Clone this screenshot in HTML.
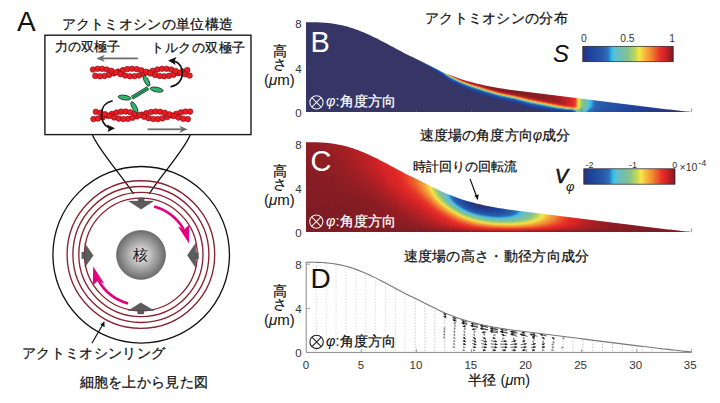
<!DOCTYPE html>
<html><head><meta charset="utf-8">
<style>
html,body{margin:0;padding:0;background:#fff;width:720px;height:403px;overflow:hidden}
svg{position:absolute;left:0;top:0;display:block}
text{font-family:"Liberation Sans",sans-serif}
.j{stroke:#111;stroke-width:.25;fill:#111}
.w{stroke:#fff;stroke-width:.25;fill:#fff}
</style></head><body>
<svg width="720" height="403" viewBox="0 0 720 403">
<defs>
<radialGradient id="nuc" cx="0.5" cy="0.5" r="0.5">
<stop offset="0" stop-color="#e6e6e6"/><stop offset="0.35" stop-color="#c4c4c4"/><stop offset="1" stop-color="#6c6c6c"/>
</radialGradient>
<linearGradient id="cb" x1="0" y1="0" x2="1" y2="0"><stop offset="0.000" stop-color="rgb(53,54,102)"/><stop offset="0.030" stop-color="rgb(35,55,140)"/><stop offset="0.080" stop-color="rgb(30,66,156)"/><stop offset="0.200" stop-color="rgb(40,86,166)"/><stop offset="0.280" stop-color="rgb(48,112,186)"/><stop offset="0.315" stop-color="rgb(38,186,236)"/><stop offset="0.350" stop-color="rgb(92,190,214)"/><stop offset="0.420" stop-color="rgb(112,190,180)"/><stop offset="0.500" stop-color="rgb(132,195,140)"/><stop offset="0.580" stop-color="rgb(192,216,90)"/><stop offset="0.625" stop-color="rgb(246,232,70)"/><stop offset="0.680" stop-color="rgb(248,186,66)"/><stop offset="0.760" stop-color="rgb(240,132,50)"/><stop offset="0.860" stop-color="rgb(230,46,40)"/><stop offset="0.900" stop-color="rgb(218,36,38)"/><stop offset="1.000" stop-color="rgb(125,28,35)"/></linearGradient>
<linearGradient id="b56" gradientUnits="userSpaceOnUse" x1="0" y1="57" x2="0" y2="112"><stop offset="0" stop-color="#2f3673"/><stop offset=".036" stop-color="#2f3673"/><stop offset=".055" stop-color="#353666"/><stop offset="1" stop-color="#353666"/></linearGradient>
<linearGradient id="b57" gradientUnits="userSpaceOnUse" x1="0" y1="58" x2="0" y2="112"><stop offset="0" stop-color="#263785"/><stop offset=".037" stop-color="#29377f"/><stop offset=".056" stop-color="#353666"/><stop offset="1" stop-color="#353666"/></linearGradient>
<linearGradient id="b58" gradientUnits="userSpaceOnUse" x1="0" y1="58" x2="0" y2="112"><stop offset="0" stop-color="#22398f"/><stop offset=".037" stop-color="#22398f"/><stop offset=".056" stop-color="#353666"/><stop offset="1" stop-color="#353666"/></linearGradient>
<linearGradient id="b59" gradientUnits="userSpaceOnUse" x1="0" y1="59" x2="0" y2="112"><stop offset="0" stop-color="#213c93"/><stop offset=".038" stop-color="#213a91"/><stop offset=".057" stop-color="#353666"/><stop offset="1" stop-color="#353666"/></linearGradient>
<linearGradient id="b60" gradientUnits="userSpaceOnUse" x1="0" y1="59" x2="0" y2="112"><stop offset="0" stop-color="#203f97"/><stop offset=".038" stop-color="#203f97"/><stop offset=".057" stop-color="#273784"/><stop offset=".075" stop-color="#353666"/><stop offset="1" stop-color="#353666"/></linearGradient>
<linearGradient id="b61" gradientUnits="userSpaceOnUse" x1="0" y1="60" x2="0" y2="112"><stop offset="0" stop-color="#1e419b"/><stop offset=".038" stop-color="#1f4099"/><stop offset=".058" stop-color="#343669"/><stop offset="1" stop-color="#353666"/></linearGradient>
<linearGradient id="b62" gradientUnits="userSpaceOnUse" x1="0" y1="60" x2="0" y2="112"><stop offset="0" stop-color="#1f439d"/><stop offset=".038" stop-color="#1f439d"/><stop offset=".058" stop-color="#213c93"/><stop offset=".077" stop-color="#353666"/><stop offset="1" stop-color="#353666"/></linearGradient>
<linearGradient id="b63" gradientUnits="userSpaceOnUse" x1="0" y1="61" x2="0" y2="112"><stop offset="0" stop-color="#20459e"/><stop offset=".039" stop-color="#1f449d"/><stop offset=".059" stop-color="#23378c"/><stop offset=".078" stop-color="#353666"/><stop offset="1" stop-color="#353666"/></linearGradient>
<linearGradient id="b64" gradientUnits="userSpaceOnUse" x1="0" y1="61" x2="0" y2="112"><stop offset="0" stop-color="#20479e"/><stop offset=".039" stop-color="#20479e"/><stop offset=".059" stop-color="#1f419a"/><stop offset=".078" stop-color="#303670"/><stop offset=".098" stop-color="#353666"/><stop offset="1" stop-color="#353666"/></linearGradient>
<linearGradient id="b65" gradientUnits="userSpaceOnUse" x1="0" y1="62" x2="0" y2="112"><stop offset="0" stop-color="#21489f"/><stop offset=".04" stop-color="#21479f"/><stop offset=".06" stop-color="#213c94"/><stop offset=".08" stop-color="#353666"/><stop offset="1" stop-color="#353666"/></linearGradient>
<linearGradient id="b66" gradientUnits="userSpaceOnUse" x1="0" y1="62" x2="0" y2="112"><stop offset="0" stop-color="#224aa0"/><stop offset=".06" stop-color="#1f449d"/><stop offset=".08" stop-color="#23378b"/><stop offset=".1" stop-color="#353666"/><stop offset="1" stop-color="#353666"/></linearGradient>
<linearGradient id="b67" gradientUnits="userSpaceOnUse" x1="0" y1="63" x2="0" y2="112"><stop offset="0" stop-color="#234ba1"/><stop offset=".041" stop-color="#224ba0"/><stop offset=".061" stop-color="#1f4099"/><stop offset=".082" stop-color="#33366b"/><stop offset=".163" stop-color="#353666"/><stop offset="1" stop-color="#353666"/></linearGradient>
<linearGradient id="b68" gradientUnits="userSpaceOnUse" x1="0" y1="63" x2="0" y2="112"><stop offset="0" stop-color="#234da1"/><stop offset=".061" stop-color="#20479e"/><stop offset=".082" stop-color="#213b93"/><stop offset=".102" stop-color="#353666"/><stop offset="1" stop-color="#353666"/></linearGradient>
<linearGradient id="b69" gradientUnits="userSpaceOnUse" x1="0" y1="64" x2="0" y2="112"><stop offset="0" stop-color="#244ea2"/><stop offset=".042" stop-color="#244ea2"/><stop offset=".062" stop-color="#1f439d"/><stop offset=".083" stop-color="#263786"/><stop offset=".104" stop-color="#353666"/><stop offset="1" stop-color="#353666"/></linearGradient>
<linearGradient id="b70" gradientUnits="userSpaceOnUse" x1="0" y1="64" x2="0" y2="112"><stop offset="0" stop-color="#2550a3"/><stop offset=".042" stop-color="#2550a3"/><stop offset=".083" stop-color="#1f3f98"/><stop offset=".104" stop-color="#353666"/><stop offset="1" stop-color="#353666"/></linearGradient>
<linearGradient id="b71" gradientUnits="userSpaceOnUse" x1="0" y1="65" x2="0" y2="112"><stop offset="0" stop-color="#2652a4"/><stop offset=".043" stop-color="#2652a4"/><stop offset=".085" stop-color="#213b91"/><stop offset=".106" stop-color="#353666"/><stop offset="1" stop-color="#353666"/></linearGradient>
<linearGradient id="b72" gradientUnits="userSpaceOnUse" x1="0" y1="66" x2="0" y2="112"><stop offset="0" stop-color="#2753a5"/><stop offset=".043" stop-color="#244da2"/><stop offset=".065" stop-color="#1e439c"/><stop offset=".087" stop-color="#293780"/><stop offset=".109" stop-color="#353666"/><stop offset="1" stop-color="#353666"/></linearGradient>
<linearGradient id="b73" gradientUnits="userSpaceOnUse" x1="0" y1="66" x2="0" y2="112"><stop offset="0" stop-color="#2755a5"/><stop offset=".043" stop-color="#2755a5"/><stop offset=".087" stop-color="#203e97"/><stop offset=".109" stop-color="#353666"/><stop offset="1" stop-color="#353666"/></linearGradient>
<linearGradient id="b74" gradientUnits="userSpaceOnUse" x1="0" y1="67" x2="0" y2="112"><stop offset="0" stop-color="#2958a8"/><stop offset=".044" stop-color="#2551a3"/><stop offset=".067" stop-color="#20459e"/><stop offset=".089" stop-color="#22398f"/><stop offset=".111" stop-color="#353666"/><stop offset="1" stop-color="#353666"/></linearGradient>
<linearGradient id="b75" gradientUnits="userSpaceOnUse" x1="0" y1="67" x2="0" y2="112"><stop offset="0" stop-color="#2b61ae"/><stop offset=".044" stop-color="#2b61ae"/><stop offset=".067" stop-color="#234ca1"/><stop offset=".089" stop-color="#1e429c"/><stop offset=".111" stop-color="#2d3678"/><stop offset=".133" stop-color="#353666"/><stop offset="1" stop-color="#353666"/></linearGradient>
<linearGradient id="b76" gradientUnits="userSpaceOnUse" x1="0" y1="68" x2="0" y2="112"><stop offset="0" stop-color="#2e6ab5"/><stop offset=".023" stop-color="#2e6ab5"/><stop offset=".045" stop-color="#2754a5"/><stop offset=".091" stop-color="#203d95"/><stop offset=".114" stop-color="#353666"/><stop offset="1" stop-color="#353666"/></linearGradient>
<linearGradient id="b77" gradientUnits="userSpaceOnUse" x1="0" y1="68" x2="0" y2="112"><stop offset="0" stop-color="#2e82c6"/><stop offset=".045" stop-color="#2e82c6"/><stop offset=".068" stop-color="#254fa3"/><stop offset=".091" stop-color="#1f449d"/><stop offset=".114" stop-color="#23378d"/><stop offset=".136" stop-color="#353666"/><stop offset="1" stop-color="#353666"/></linearGradient>
<linearGradient id="b78" gradientUnits="userSpaceOnUse" x1="0" y1="68" x2="0" y2="112"><stop offset="0" stop-color="#28baeb"/><stop offset=".045" stop-color="#28baeb"/><stop offset=".068" stop-color="#2959a8"/><stop offset=".114" stop-color="#1f4099"/><stop offset=".136" stop-color="#33366b"/><stop offset=".227" stop-color="#353666"/><stop offset="1" stop-color="#353666"/></linearGradient>
<linearGradient id="b79" gradientUnits="userSpaceOnUse" x1="0" y1="69" x2="0" y2="112"><stop offset="0" stop-color="#5ebed2"/><stop offset=".047" stop-color="#59bed7"/><stop offset=".07" stop-color="#2653a4"/><stop offset=".116" stop-color="#213c93"/><stop offset=".14" stop-color="#353666"/><stop offset="1" stop-color="#353666"/></linearGradient>
<linearGradient id="b80" gradientUnits="userSpaceOnUse" x1="0" y1="69" x2="0" y2="112"><stop offset="0" stop-color="#6fbeb6"/><stop offset=".047" stop-color="#6fbeb6"/><stop offset=".07" stop-color="#2f7bc1"/><stop offset=".093" stop-color="#244fa2"/><stop offset=".116" stop-color="#1f449d"/><stop offset=".14" stop-color="#23378c"/><stop offset=".163" stop-color="#353666"/><stop offset="1" stop-color="#353666"/></linearGradient>
<linearGradient id="b81" gradientUnits="userSpaceOnUse" x1="0" y1="70" x2="0" y2="112"><stop offset="0" stop-color="#7dc19a"/><stop offset=".024" stop-color="#7dc19a"/><stop offset=".048" stop-color="#76c0a8"/><stop offset=".071" stop-color="#2a5dac"/><stop offset=".119" stop-color="#1f419a"/><stop offset=".143" stop-color="#303671"/><stop offset=".167" stop-color="#353666"/><stop offset="1" stop-color="#353666"/></linearGradient>
<linearGradient id="b82" gradientUnits="userSpaceOnUse" x1="0" y1="70" x2="0" y2="112"><stop offset="0" stop-color="#98ca7b"/><stop offset=".048" stop-color="#98ca7b"/><stop offset=".071" stop-color="#62becc"/><stop offset=".095" stop-color="#2754a5"/><stop offset=".143" stop-color="#203d94"/><stop offset=".167" stop-color="#353666"/><stop offset="1" stop-color="#353666"/></linearGradient>
<linearGradient id="b83" gradientUnits="userSpaceOnUse" x1="0" y1="71" x2="0" y2="112"><stop offset="0" stop-color="#c0d85a"/><stop offset=".024" stop-color="#c0d85a"/><stop offset=".049" stop-color="#9acb7a"/><stop offset=".073" stop-color="#2a99d6"/><stop offset=".098" stop-color="#2550a3"/><stop offset=".122" stop-color="#1f459d"/><stop offset=".146" stop-color="#22388e"/><stop offset=".171" stop-color="#353666"/><stop offset="1" stop-color="#353666"/></linearGradient>
<linearGradient id="b84" gradientUnits="userSpaceOnUse" x1="0" y1="71" x2="0" y2="112"><stop offset="0" stop-color="#f6df45"/><stop offset=".049" stop-color="#f6df45"/><stop offset=".073" stop-color="#79c0a1"/><stop offset=".098" stop-color="#2b61af"/><stop offset=".122" stop-color="#234ca1"/><stop offset=".146" stop-color="#1e429b"/><stop offset=".171" stop-color="#2d3676"/><stop offset=".195" stop-color="#353666"/><stop offset="1" stop-color="#353666"/></linearGradient>
<linearGradient id="b85" gradientUnits="userSpaceOnUse" x1="0" y1="72" x2="0" y2="112"><stop offset="0" stop-color="#f7b13f"/><stop offset=".025" stop-color="#f7b13f"/><stop offset=".05" stop-color="#e6e34c"/><stop offset=".075" stop-color="#66bec6"/><stop offset=".1" stop-color="#2754a5"/><stop offset=".15" stop-color="#203e95"/><stop offset=".175" stop-color="#353666"/><stop offset="1" stop-color="#353666"/></linearGradient>
<linearGradient id="b86" gradientUnits="userSpaceOnUse" x1="0" y1="72" x2="0" y2="112"><stop offset="0" stop-color="#f18a34"/><stop offset=".05" stop-color="#f18a34"/><stop offset=".075" stop-color="#a3ce72"/><stop offset=".1" stop-color="#27b0e5"/><stop offset=".125" stop-color="#2550a3"/><stop offset=".15" stop-color="#20459e"/><stop offset=".175" stop-color="#22398f"/><stop offset=".2" stop-color="#353666"/><stop offset="1" stop-color="#353666"/></linearGradient>
<linearGradient id="b87" gradientUnits="userSpaceOnUse" x1="0" y1="72" x2="0" y2="112"><stop offset="0" stop-color="#ec602e"/><stop offset=".05" stop-color="#ec602e"/><stop offset=".075" stop-color="#f7b340"/><stop offset=".1" stop-color="#7cc19c"/><stop offset=".125" stop-color="#2c64b1"/><stop offset=".15" stop-color="#234da1"/><stop offset=".175" stop-color="#1e429c"/><stop offset=".2" stop-color="#2c377a"/><stop offset=".225" stop-color="#353666"/><stop offset="1" stop-color="#353666"/></linearGradient>
<linearGradient id="b88" gradientUnits="userSpaceOnUse" x1="0" y1="73" x2="0" y2="112"><stop offset="0" stop-color="#e73529"/><stop offset=".026" stop-color="#e73529"/><stop offset=".051" stop-color="#e94a2b"/><stop offset=".077" stop-color="#ece54a"/><stop offset=".103" stop-color="#67bec4"/><stop offset=".128" stop-color="#2754a5"/><stop offset=".179" stop-color="#203e96"/><stop offset=".205" stop-color="#353666"/><stop offset="1" stop-color="#353666"/></linearGradient>
<linearGradient id="b89" gradientUnits="userSpaceOnUse" x1="0" y1="73" x2="0" y2="112"><stop offset="0" stop-color="#df2827"/><stop offset=".051" stop-color="#df2827"/><stop offset=".077" stop-color="#f18d35"/><stop offset=".103" stop-color="#97ca7c"/><stop offset=".128" stop-color="#2b93d2"/><stop offset=".154" stop-color="#2550a3"/><stop offset=".179" stop-color="#1f459d"/><stop offset=".205" stop-color="#23388e"/><stop offset=".231" stop-color="#353666"/><stop offset="1" stop-color="#353666"/></linearGradient>
<linearGradient id="b90" gradientUnits="userSpaceOnUse" x1="0" y1="74" x2="0" y2="112"><stop offset="0" stop-color="#dc2626"/><stop offset=".026" stop-color="#dc2626"/><stop offset=".053" stop-color="#e83b2a"/><stop offset=".079" stop-color="#f7dc45"/><stop offset=".105" stop-color="#6fbeb6"/><stop offset=".132" stop-color="#2856a6"/><stop offset=".184" stop-color="#1f4099"/><stop offset=".211" stop-color="#33366a"/><stop offset="1" stop-color="#353666"/></linearGradient>
<linearGradient id="b91" gradientUnits="userSpaceOnUse" x1="0" y1="74" x2="0" y2="112"><stop offset="0" stop-color="#d92426"/><stop offset=".053" stop-color="#d92426"/><stop offset=".079" stop-color="#f18b34"/><stop offset=".105" stop-color="#9bcb78"/><stop offset=".132" stop-color="#29a5de"/><stop offset=".158" stop-color="#2550a3"/><stop offset=".184" stop-color="#20459e"/><stop offset=".211" stop-color="#22398f"/><stop offset=".237" stop-color="#353666"/><stop offset="1" stop-color="#353666"/></linearGradient>
<linearGradient id="b92" gradientUnits="userSpaceOnUse" x1="0" y1="74" x2="0" y2="112"><stop offset="0" stop-color="#d02326"/><stop offset=".053" stop-color="#d02326"/><stop offset=".079" stop-color="#e83c2a"/><stop offset=".105" stop-color="#f7db45"/><stop offset=".132" stop-color="#70beb4"/><stop offset=".158" stop-color="#2958a8"/><stop offset=".211" stop-color="#1f409a"/><stop offset=".237" stop-color="#303670"/><stop offset=".263" stop-color="#353666"/><stop offset="1" stop-color="#353666"/></linearGradient>
<linearGradient id="b93" gradientUnits="userSpaceOnUse" x1="0" y1="75" x2="0" y2="112"><stop offset="0" stop-color="#c82225"/><stop offset=".027" stop-color="#c82225"/><stop offset=".054" stop-color="#d72426"/><stop offset=".081" stop-color="#f18d35"/><stop offset=".108" stop-color="#9bcb79"/><stop offset=".135" stop-color="#28aae1"/><stop offset=".162" stop-color="#2551a3"/><stop offset=".216" stop-color="#223a91"/><stop offset=".243" stop-color="#353666"/><stop offset="1" stop-color="#353666"/></linearGradient>
<linearGradient id="b94" gradientUnits="userSpaceOnUse" x1="0" y1="75" x2="0" y2="112"><stop offset="0" stop-color="#c02225"/><stop offset=".054" stop-color="#c02225"/><stop offset=".081" stop-color="#e8422a"/><stop offset=".108" stop-color="#f6df45"/><stop offset=".135" stop-color="#6fbeb5"/><stop offset=".162" stop-color="#2958a8"/><stop offset=".216" stop-color="#1f419a"/><stop offset=".243" stop-color="#2e3675"/><stop offset=".27" stop-color="#353666"/><stop offset="1" stop-color="#353666"/></linearGradient>
<linearGradient id="b95" gradientUnits="userSpaceOnUse" x1="0" y1="76" x2="0" y2="112"><stop offset="0" stop-color="#b82125"/><stop offset=".028" stop-color="#b82125"/><stop offset=".056" stop-color="#da2426"/><stop offset=".083" stop-color="#f29336"/><stop offset=".111" stop-color="#97ca7c"/><stop offset=".139" stop-color="#29a5de"/><stop offset=".167" stop-color="#2551a3"/><stop offset=".222" stop-color="#213b91"/><stop offset=".25" stop-color="#353666"/><stop offset="1" stop-color="#353666"/></linearGradient>
<linearGradient id="b96" gradientUnits="userSpaceOnUse" x1="0" y1="76" x2="0" y2="112"><stop offset="0" stop-color="#b02025"/><stop offset=".028" stop-color="#b02025"/><stop offset=".056" stop-color="#b92125"/><stop offset=".083" stop-color="#e94b2b"/><stop offset=".111" stop-color="#f6e746"/><stop offset=".139" stop-color="#6dbeb9"/><stop offset=".167" stop-color="#2857a7"/><stop offset=".222" stop-color="#1e419b"/><stop offset=".25" stop-color="#2d3676"/><stop offset=".278" stop-color="#353666"/><stop offset="1" stop-color="#353666"/></linearGradient>
<linearGradient id="b97" gradientUnits="userSpaceOnUse" x1="0" y1="76" x2="0" y2="112"><stop offset="0" stop-color="#aa2024"/><stop offset=".056" stop-color="#aa2024"/><stop offset=".083" stop-color="#dc2626"/><stop offset=".111" stop-color="#f49c39"/><stop offset=".139" stop-color="#8fc783"/><stop offset=".167" stop-color="#2b95d3"/><stop offset=".194" stop-color="#2550a3"/><stop offset=".25" stop-color="#213b91"/><stop offset=".278" stop-color="#353666"/><stop offset="1" stop-color="#353666"/></linearGradient>
<linearGradient id="b98" gradientUnits="userSpaceOnUse" x1="0" y1="77" x2="0" y2="112"><stop offset="0" stop-color="#a51f24"/><stop offset=".029" stop-color="#a51f24"/><stop offset=".057" stop-color="#c02225"/><stop offset=".086" stop-color="#eb582d"/><stop offset=".114" stop-color="#e6e34c"/><stop offset=".143" stop-color="#6abebf"/><stop offset=".171" stop-color="#2856a6"/><stop offset=".229" stop-color="#1f419a"/><stop offset=".257" stop-color="#2d3676"/><stop offset=".286" stop-color="#353666"/><stop offset="1" stop-color="#353666"/></linearGradient>
<linearGradient id="b99" gradientUnits="userSpaceOnUse" x1="0" y1="77" x2="0" y2="112"><stop offset="0" stop-color="#a21f24"/><stop offset=".057" stop-color="#a62024"/><stop offset=".086" stop-color="#df2827"/><stop offset=".114" stop-color="#f6ac3e"/><stop offset=".143" stop-color="#83c38f"/><stop offset=".171" stop-color="#3074bc"/><stop offset=".2" stop-color="#2550a3"/><stop offset=".229" stop-color="#20459e"/><stop offset=".257" stop-color="#223a90"/><stop offset=".286" stop-color="#353666"/><stop offset="1" stop-color="#353666"/></linearGradient>
<linearGradient id="b100" gradientUnits="userSpaceOnUse" x1="0" y1="77" x2="0" y2="112"><stop offset="0" stop-color="#9f1f24"/><stop offset=".057" stop-color="#9f1f24"/><stop offset=".086" stop-color="#cd2326"/><stop offset=".114" stop-color="#ee7230"/><stop offset=".143" stop-color="#c0d85a"/><stop offset=".171" stop-color="#61bece"/><stop offset=".2" stop-color="#2754a5"/><stop offset=".257" stop-color="#1f4098"/><stop offset=".286" stop-color="#31366f"/><stop offset=".314" stop-color="#353666"/><stop offset="1" stop-color="#353666"/></linearGradient>
<linearGradient id="b101" gradientUnits="userSpaceOnUse" x1="0" y1="78" x2="0" y2="112"><stop offset="0" stop-color="#9d1f24"/><stop offset=".029" stop-color="#9d1f24"/><stop offset=".059" stop-color="#b12025"/><stop offset=".088" stop-color="#e73629"/><stop offset=".118" stop-color="#f7c943"/><stop offset=".147" stop-color="#79c0a2"/><stop offset=".176" stop-color="#2d66b3"/><stop offset=".206" stop-color="#244ea2"/><stop offset=".235" stop-color="#1f449d"/><stop offset=".265" stop-color="#22388e"/><stop offset=".294" stop-color="#353666"/><stop offset="1" stop-color="#353666"/></linearGradient>
<linearGradient id="b102" gradientUnits="userSpaceOnUse" x1="0" y1="78" x2="0" y2="112"><stop offset="0" stop-color="#9a1f24"/><stop offset=".059" stop-color="#9f1f24"/><stop offset=".088" stop-color="#db2526"/><stop offset=".118" stop-color="#f29035"/><stop offset=".147" stop-color="#a2cd73"/><stop offset=".176" stop-color="#39bbe4"/><stop offset=".206" stop-color="#2652a4"/><stop offset=".265" stop-color="#203e96"/><stop offset=".294" stop-color="#353666"/><stop offset="1" stop-color="#353666"/></linearGradient>
<linearGradient id="b103" gradientUnits="userSpaceOnUse" x1="0" y1="78" x2="0" y2="112"><stop offset="0" stop-color="#981e24"/><stop offset=".059" stop-color="#981e24"/><stop offset=".088" stop-color="#c22225"/><stop offset=".118" stop-color="#eb572d"/><stop offset=".147" stop-color="#efe648"/><stop offset=".176" stop-color="#6ebeb7"/><stop offset=".206" stop-color="#2a5baa"/><stop offset=".265" stop-color="#1e439c"/><stop offset=".294" stop-color="#253787"/><stop offset=".324" stop-color="#353666"/><stop offset="1" stop-color="#353666"/></linearGradient>
<linearGradient id="b104" gradientUnits="userSpaceOnUse" x1="0" y1="78" x2="0" y2="112"><stop offset="0" stop-color="#951e24"/><stop offset=".059" stop-color="#951e24"/><stop offset=".088" stop-color="#a92024"/><stop offset=".118" stop-color="#e12a27"/><stop offset=".147" stop-color="#f6af3f"/><stop offset=".176" stop-color="#83c38e"/><stop offset=".206" stop-color="#2d84c8"/><stop offset=".235" stop-color="#2550a3"/><stop offset=".294" stop-color="#213c93"/><stop offset=".324" stop-color="#353666"/><stop offset="1" stop-color="#353666"/></linearGradient>
<linearGradient id="b105" gradientUnits="userSpaceOnUse" x1="0" y1="79" x2="0" y2="112"><stop offset="0" stop-color="#931e24"/><stop offset=".03" stop-color="#931e24"/><stop offset=".061" stop-color="#9b1f24"/><stop offset=".091" stop-color="#d42326"/><stop offset=".121" stop-color="#ef7b31"/><stop offset=".152" stop-color="#bbd65e"/><stop offset=".182" stop-color="#61bece"/><stop offset=".212" stop-color="#2755a5"/><stop offset=".273" stop-color="#1f419a"/><stop offset=".303" stop-color="#2c377a"/><stop offset=".333" stop-color="#353666"/><stop offset="1" stop-color="#353666"/></linearGradient>
<linearGradient id="b106" gradientUnits="userSpaceOnUse" x1="0" y1="79" x2="0" y2="112"><stop offset="0" stop-color="#901e24"/><stop offset=".061" stop-color="#901e24"/><stop offset=".091" stop-color="#bb2125"/><stop offset=".121" stop-color="#e9452b"/><stop offset=".152" stop-color="#f7d544"/><stop offset=".182" stop-color="#77c0a6"/><stop offset=".212" stop-color="#2d66b2"/><stop offset=".242" stop-color="#244ea2"/><stop offset=".273" stop-color="#1f459d"/><stop offset=".303" stop-color="#223a90"/><stop offset=".333" stop-color="#353666"/><stop offset="1" stop-color="#353666"/></linearGradient>
<linearGradient id="b107" gradientUnits="userSpaceOnUse" x1="0" y1="79" x2="0" y2="112"><stop offset="0" stop-color="#8e1d24"/><stop offset=".061" stop-color="#8e1d24"/><stop offset=".091" stop-color="#a62024"/><stop offset=".121" stop-color="#de2727"/><stop offset=".152" stop-color="#f49f3a"/><stop offset=".182" stop-color="#96c97d"/><stop offset=".212" stop-color="#2bbaea"/><stop offset=".242" stop-color="#2652a4"/><stop offset=".303" stop-color="#203e97"/><stop offset=".333" stop-color="#33366b"/><stop offset=".545" stop-color="#353666"/><stop offset="1" stop-color="#353666"/></linearGradient>
<linearGradient id="b108" gradientUnits="userSpaceOnUse" x1="0" y1="80" x2="0" y2="112"><stop offset="0" stop-color="#8b1d23"/><stop offset=".031" stop-color="#8b1d23"/><stop offset=".062" stop-color="#991e24"/><stop offset=".094" stop-color="#cf2326"/><stop offset=".125" stop-color="#ed6d2f"/><stop offset=".156" stop-color="#d3de53"/><stop offset=".188" stop-color="#69bec0"/><stop offset=".219" stop-color="#2958a7"/><stop offset=".281" stop-color="#1e439c"/><stop offset=".312" stop-color="#24378a"/><stop offset=".344" stop-color="#353666"/><stop offset="1" stop-color="#353666"/></linearGradient>
<linearGradient id="b109" gradientUnits="userSpaceOnUse" x1="0" y1="80" x2="0" y2="112"><stop offset="0" stop-color="#891d23"/><stop offset=".062" stop-color="#8c1d23"/><stop offset=".094" stop-color="#b82125"/><stop offset=".125" stop-color="#e83c2a"/><stop offset=".156" stop-color="#f7c843"/><stop offset=".188" stop-color="#7cc19c"/><stop offset=".219" stop-color="#2f6db8"/><stop offset=".25" stop-color="#2550a3"/><stop offset=".312" stop-color="#213c93"/><stop offset=".344" stop-color="#353666"/><stop offset="1" stop-color="#353666"/></linearGradient>
<linearGradient id="b110" gradientUnits="userSpaceOnUse" x1="0" y1="80" x2="0" y2="112"><stop offset="0" stop-color="#881d23"/><stop offset=".062" stop-color="#881d23"/><stop offset=".094" stop-color="#a62024"/><stop offset=".125" stop-color="#de2727"/><stop offset=".156" stop-color="#f39a38"/><stop offset=".188" stop-color="#9ecc76"/><stop offset=".219" stop-color="#41bce1"/><stop offset=".25" stop-color="#2753a5"/><stop offset=".312" stop-color="#1f4099"/><stop offset=".344" stop-color="#2d3677"/><stop offset=".375" stop-color="#353666"/><stop offset="1" stop-color="#353666"/></linearGradient>
<linearGradient id="b111" gradientUnits="userSpaceOnUse" x1="0" y1="80" x2="0" y2="112"><stop offset="0" stop-color="#861d23"/><stop offset=".062" stop-color="#861d23"/><stop offset=".094" stop-color="#9a1f24"/><stop offset=".125" stop-color="#d02326"/><stop offset=".156" stop-color="#ed6e2f"/><stop offset=".188" stop-color="#d6df52"/><stop offset=".219" stop-color="#6bbebd"/><stop offset=".25" stop-color="#295baa"/><stop offset=".312" stop-color="#1f439d"/><stop offset=".344" stop-color="#22388e"/><stop offset=".375" stop-color="#353666"/><stop offset="1" stop-color="#353666"/></linearGradient>
<linearGradient id="b112" gradientUnits="userSpaceOnUse" x1="0" y1="81" x2="0" y2="112"><stop offset="0" stop-color="#861d23"/><stop offset=".032" stop-color="#861d23"/><stop offset=".065" stop-color="#8f1e24"/><stop offset=".097" stop-color="#bb2125"/><stop offset=".129" stop-color="#e8412a"/><stop offset=".161" stop-color="#f7ca43"/><stop offset=".194" stop-color="#7cc19b"/><stop offset=".226" stop-color="#2f6eb9"/><stop offset=".258" stop-color="#2550a3"/><stop offset=".323" stop-color="#203d94"/><stop offset=".355" stop-color="#353666"/><stop offset="1" stop-color="#353666"/></linearGradient>
<linearGradient id="b113" gradientUnits="userSpaceOnUse" x1="0" y1="81" x2="0" y2="112"><stop offset="0" stop-color="#861d23"/><stop offset=".065" stop-color="#861d23"/><stop offset=".097" stop-color="#a92024"/><stop offset=".129" stop-color="#df2827"/><stop offset=".161" stop-color="#f49f3a"/><stop offset=".194" stop-color="#9ccb78"/><stop offset=".226" stop-color="#41bce1"/><stop offset=".258" stop-color="#2753a5"/><stop offset=".323" stop-color="#1f419a"/><stop offset=".355" stop-color="#2a377c"/><stop offset=".387" stop-color="#353666"/><stop offset="1" stop-color="#353666"/></linearGradient>
<linearGradient id="b114" gradientUnits="userSpaceOnUse" x1="0" y1="81" x2="0" y2="112"><stop offset="0" stop-color="#861d23"/><stop offset=".065" stop-color="#861d23"/><stop offset=".097" stop-color="#9e1f24"/><stop offset=".129" stop-color="#d52426"/><stop offset=".161" stop-color="#ee7630"/><stop offset=".194" stop-color="#cddc55"/><stop offset=".226" stop-color="#6abebf"/><stop offset=".258" stop-color="#295baa"/><stop offset=".323" stop-color="#1f449d"/><stop offset=".355" stop-color="#22398f"/><stop offset=".387" stop-color="#353666"/><stop offset="1" stop-color="#353666"/></linearGradient>
<linearGradient id="b115" gradientUnits="userSpaceOnUse" x1="0" y1="81" x2="0" y2="112"><stop offset="0" stop-color="#861d23"/><stop offset=".065" stop-color="#861d23"/><stop offset=".097" stop-color="#931e24"/><stop offset=".129" stop-color="#c22225"/><stop offset=".161" stop-color="#e94c2b"/><stop offset=".194" stop-color="#f7d444"/><stop offset=".226" stop-color="#7ac19f"/><stop offset=".258" stop-color="#2f6db8"/><stop offset=".29" stop-color="#2550a3"/><stop offset=".355" stop-color="#203d95"/><stop offset=".387" stop-color="#353666"/><stop offset="1" stop-color="#353666"/></linearGradient>
<linearGradient id="b116" gradientUnits="userSpaceOnUse" x1="0" y1="82" x2="0" y2="112"><stop offset="0" stop-color="#861d23"/><stop offset=".067" stop-color="#881d23"/><stop offset=".1" stop-color="#af2025"/><stop offset=".133" stop-color="#e22b27"/><stop offset=".167" stop-color="#f5a93d"/><stop offset=".2" stop-color="#93c880"/><stop offset=".233" stop-color="#35bbe6"/><stop offset=".267" stop-color="#2753a5"/><stop offset=".333" stop-color="#1f419a"/><stop offset=".367" stop-color="#29377e"/><stop offset=".4" stop-color="#353666"/><stop offset="1" stop-color="#353666"/></linearGradient>
<linearGradient id="b117" gradientUnits="userSpaceOnUse" x1="0" y1="82" x2="0" y2="112"><stop offset="0" stop-color="#861d23"/><stop offset=".067" stop-color="#861d23"/><stop offset=".1" stop-color="#a31f24"/><stop offset=".133" stop-color="#db2526"/><stop offset=".167" stop-color="#f08332"/><stop offset=".2" stop-color="#bdd75c"/><stop offset=".233" stop-color="#66bec5"/><stop offset=".267" stop-color="#2958a8"/><stop offset=".333" stop-color="#1f449d"/><stop offset=".367" stop-color="#22398f"/><stop offset=".4" stop-color="#353666"/><stop offset="1" stop-color="#353666"/></linearGradient>
<linearGradient id="b118" gradientUnits="userSpaceOnUse" x1="0" y1="82" x2="0" y2="112"><stop offset="0" stop-color="#861d23"/><stop offset=".067" stop-color="#861d23"/><stop offset=".1" stop-color="#991e24"/><stop offset=".133" stop-color="#ca2325"/><stop offset=".167" stop-color="#eb5c2d"/><stop offset=".2" stop-color="#f6e346"/><stop offset=".233" stop-color="#76c0a8"/><stop offset=".267" stop-color="#2e69b5"/><stop offset=".3" stop-color="#2550a3"/><stop offset=".367" stop-color="#203d95"/><stop offset=".4" stop-color="#353666"/><stop offset="1" stop-color="#353666"/></linearGradient>
<linearGradient id="b119" gradientUnits="userSpaceOnUse" x1="0" y1="82" x2="0" y2="112"><stop offset="0" stop-color="#861d23"/><stop offset=".067" stop-color="#861d23"/><stop offset=".1" stop-color="#8d1d24"/><stop offset=".133" stop-color="#b72125"/><stop offset=".167" stop-color="#e63228"/><stop offset=".2" stop-color="#f7b440"/><stop offset=".233" stop-color="#88c489"/><stop offset=".267" stop-color="#26b7ea"/><stop offset=".3" stop-color="#2653a4"/><stop offset=".367" stop-color="#1f409a"/><stop offset=".4" stop-color="#2a377e"/><stop offset=".433" stop-color="#353666"/><stop offset="1" stop-color="#353666"/></linearGradient>
<linearGradient id="b120" gradientUnits="userSpaceOnUse" x1="0" y1="83" x2="0" y2="112"><stop offset="0" stop-color="#861d23"/><stop offset=".069" stop-color="#861d23"/><stop offset=".103" stop-color="#a62024"/><stop offset=".138" stop-color="#dc2626"/><stop offset=".172" stop-color="#f18b34"/><stop offset=".207" stop-color="#b5d463"/><stop offset=".241" stop-color="#63bec9"/><stop offset=".276" stop-color="#2856a6"/><stop offset=".345" stop-color="#1f439d"/><stop offset=".379" stop-color="#22398f"/><stop offset=".414" stop-color="#353666"/><stop offset="1" stop-color="#353666"/></linearGradient>
<linearGradient id="b121" gradientUnits="userSpaceOnUse" x1="0" y1="83" x2="0" y2="112"><stop offset="0" stop-color="#861d23"/><stop offset=".069" stop-color="#861d23"/><stop offset=".103" stop-color="#9a1e24"/><stop offset=".138" stop-color="#cd2326"/><stop offset=".172" stop-color="#ec602e"/><stop offset=".207" stop-color="#f6e746"/><stop offset=".241" stop-color="#75bfaa"/><stop offset=".276" stop-color="#2e68b4"/><stop offset=".31" stop-color="#254fa3"/><stop offset=".379" stop-color="#203d94"/><stop offset=".414" stop-color="#353666"/><stop offset="1" stop-color="#353666"/></linearGradient>
<linearGradient id="b122" gradientUnits="userSpaceOnUse" x1="0" y1="83" x2="0" y2="112"><stop offset="0" stop-color="#861d23"/><stop offset=".069" stop-color="#861d23"/><stop offset=".103" stop-color="#8e1d24"/><stop offset=".138" stop-color="#b82125"/><stop offset=".172" stop-color="#e73429"/><stop offset=".207" stop-color="#f7b741"/><stop offset=".241" stop-color="#86c48b"/><stop offset=".276" stop-color="#27b1e6"/><stop offset=".31" stop-color="#2653a4"/><stop offset=".379" stop-color="#1f4099"/><stop offset=".414" stop-color="#2a377d"/><stop offset=".448" stop-color="#353666"/><stop offset="1" stop-color="#353666"/></linearGradient>
<linearGradient id="b123" gradientUnits="userSpaceOnUse" x1="0" y1="83" x2="0" y2="112"><stop offset="0" stop-color="#861d23"/><stop offset=".103" stop-color="#861d23"/><stop offset=".138" stop-color="#a72024"/><stop offset=".172" stop-color="#dd2727"/><stop offset=".207" stop-color="#f28f35"/><stop offset=".241" stop-color="#b1d366"/><stop offset=".276" stop-color="#62becc"/><stop offset=".31" stop-color="#2856a6"/><stop offset=".379" stop-color="#1f439d"/><stop offset=".414" stop-color="#22388e"/><stop offset=".448" stop-color="#353666"/><stop offset="1" stop-color="#353666"/></linearGradient>
<linearGradient id="b124" gradientUnits="userSpaceOnUse" x1="0" y1="84" x2="0" y2="112"><stop offset="0" stop-color="#861d23"/><stop offset=".071" stop-color="#861d23"/><stop offset=".107" stop-color="#9b1f24"/><stop offset=".143" stop-color="#cf2326"/><stop offset=".179" stop-color="#ec662e"/><stop offset=".214" stop-color="#eee649"/><stop offset=".25" stop-color="#73bfae"/><stop offset=".286" stop-color="#2d66b2"/><stop offset=".321" stop-color="#244fa2"/><stop offset=".393" stop-color="#213c94"/><stop offset=".429" stop-color="#353666"/><stop offset="1" stop-color="#353666"/></linearGradient>
<linearGradient id="b125" gradientUnits="userSpaceOnUse" x1="0" y1="84" x2="0" y2="112"><stop offset="0" stop-color="#861d23"/><stop offset=".071" stop-color="#861d23"/><stop offset=".107" stop-color="#901e24"/><stop offset=".143" stop-color="#bb2125"/><stop offset=".179" stop-color="#e83c2a"/><stop offset=".214" stop-color="#f8be42"/><stop offset=".25" stop-color="#82c390"/><stop offset=".286" stop-color="#2a9dd9"/><stop offset=".321" stop-color="#2652a4"/><stop offset=".393" stop-color="#1f4099"/><stop offset=".429" stop-color="#2c3679"/><stop offset=".464" stop-color="#353666"/><stop offset="1" stop-color="#353666"/></linearGradient>
<linearGradient id="b126" gradientUnits="userSpaceOnUse" x1="0" y1="84" x2="0" y2="112"><stop offset="0" stop-color="#861d23"/><stop offset=".107" stop-color="#861d23"/><stop offset=".143" stop-color="#a92024"/><stop offset=".179" stop-color="#de2827"/><stop offset=".214" stop-color="#f39738"/><stop offset=".25" stop-color="#a8d06e"/><stop offset=".286" stop-color="#5ebed2"/><stop offset=".321" stop-color="#2855a6"/><stop offset=".393" stop-color="#1e439c"/><stop offset=".429" stop-color="#23388d"/><stop offset=".464" stop-color="#353666"/><stop offset="1" stop-color="#353666"/></linearGradient>
<linearGradient id="b127" gradientUnits="userSpaceOnUse" x1="0" y1="84" x2="0" y2="112"><stop offset="0" stop-color="#861d23"/><stop offset=".107" stop-color="#861d23"/><stop offset=".143" stop-color="#9e1f24"/><stop offset=".179" stop-color="#d42326"/><stop offset=".214" stop-color="#ee7030"/><stop offset=".25" stop-color="#dde14f"/><stop offset=".286" stop-color="#6fbeb5"/><stop offset=".321" stop-color="#2c62af"/><stop offset=".357" stop-color="#244ea2"/><stop offset=".429" stop-color="#213c93"/><stop offset=".464" stop-color="#353666"/><stop offset="1" stop-color="#353666"/></linearGradient>
<linearGradient id="b128" gradientUnits="userSpaceOnUse" x1="0" y1="84" x2="0" y2="112"><stop offset="0" stop-color="#861d23"/><stop offset=".107" stop-color="#861d23"/><stop offset=".143" stop-color="#931e24"/><stop offset=".179" stop-color="#c12225"/><stop offset=".214" stop-color="#e9472b"/><stop offset=".25" stop-color="#f7cb44"/><stop offset=".286" stop-color="#7ec298"/><stop offset=".321" stop-color="#2e7ec3"/><stop offset=".357" stop-color="#2651a4"/><stop offset=".429" stop-color="#1f3f97"/><stop offset=".464" stop-color="#2f3672"/><stop offset=".5" stop-color="#353666"/><stop offset="1" stop-color="#353666"/></linearGradient>
<linearGradient id="b129" gradientUnits="userSpaceOnUse" x1="0" y1="85" x2="0" y2="112"><stop offset="0" stop-color="#861d23"/><stop offset=".111" stop-color="#881d23"/><stop offset=".148" stop-color="#ae2025"/><stop offset=".185" stop-color="#e12a27"/><stop offset=".222" stop-color="#f5a33b"/><stop offset=".259" stop-color="#9bcb79"/><stop offset=".296" stop-color="#4abddd"/><stop offset=".333" stop-color="#2754a5"/><stop offset=".407" stop-color="#1e429c"/><stop offset=".444" stop-color="#253788"/><stop offset=".481" stop-color="#353666"/><stop offset="1" stop-color="#353666"/></linearGradient>
<linearGradient id="b130" gradientUnits="userSpaceOnUse" x1="0" y1="85" x2="0" y2="112"><stop offset="0" stop-color="#861d23"/><stop offset=".111" stop-color="#861d23"/><stop offset=".148" stop-color="#a21f24"/><stop offset=".185" stop-color="#da2426"/><stop offset=".222" stop-color="#ef7e31"/><stop offset=".259" stop-color="#c5da58"/><stop offset=".296" stop-color="#69bec0"/><stop offset=".333" stop-color="#2a5caa"/><stop offset=".407" stop-color="#1f449d"/><stop offset=".444" stop-color="#223a91"/><stop offset=".481" stop-color="#353666"/><stop offset="1" stop-color="#353666"/></linearGradient>
<linearGradient id="b131" gradientUnits="userSpaceOnUse" x1="0" y1="85" x2="0" y2="112"><stop offset="0" stop-color="#861d23"/><stop offset=".111" stop-color="#861d23"/><stop offset=".148" stop-color="#981e24"/><stop offset=".185" stop-color="#c82225"/><stop offset=".222" stop-color="#eb572d"/><stop offset=".259" stop-color="#f6dd45"/><stop offset=".296" stop-color="#78c0a4"/><stop offset=".333" stop-color="#2f6cb7"/><stop offset=".37" stop-color="#2550a3"/><stop offset=".444" stop-color="#203d95"/><stop offset=".481" stop-color="#333669"/><stop offset="1" stop-color="#353666"/></linearGradient>
<linearGradient id="b132" gradientUnits="userSpaceOnUse" x1="0" y1="85" x2="0" y2="112"><stop offset="0" stop-color="#861d23"/><stop offset=".111" stop-color="#861d23"/><stop offset=".148" stop-color="#8d1d24"/><stop offset=".185" stop-color="#b62125"/><stop offset=".222" stop-color="#e63128"/><stop offset=".259" stop-color="#f7b340"/><stop offset=".296" stop-color="#89c588"/><stop offset=".333" stop-color="#26baec"/><stop offset=".37" stop-color="#2653a4"/><stop offset=".444" stop-color="#1f419a"/><stop offset=".481" stop-color="#29377f"/><stop offset=".519" stop-color="#353666"/><stop offset="1" stop-color="#353666"/></linearGradient>
<linearGradient id="b133" gradientUnits="userSpaceOnUse" x1="0" y1="85" x2="0" y2="112"><stop offset="0" stop-color="#861d23"/><stop offset=".148" stop-color="#861d23"/><stop offset=".185" stop-color="#a72024"/><stop offset=".222" stop-color="#dd2727"/><stop offset=".259" stop-color="#f29036"/><stop offset=".296" stop-color="#b0d367"/><stop offset=".333" stop-color="#61becd"/><stop offset=".37" stop-color="#2856a6"/><stop offset=".444" stop-color="#1f439d"/><stop offset=".481" stop-color="#22388e"/><stop offset=".519" stop-color="#353666"/><stop offset="1" stop-color="#353666"/></linearGradient>
<linearGradient id="b134" gradientUnits="userSpaceOnUse" x1="0" y1="85" x2="0" y2="112"><stop offset="0" stop-color="#861d23"/><stop offset=".148" stop-color="#861d23"/><stop offset=".185" stop-color="#9d1f24"/><stop offset=".222" stop-color="#d22326"/><stop offset=".259" stop-color="#ed6b2f"/><stop offset=".296" stop-color="#e5e34c"/><stop offset=".333" stop-color="#71beb2"/><stop offset=".37" stop-color="#2c63b0"/><stop offset=".407" stop-color="#244fa2"/><stop offset=".481" stop-color="#213c93"/><stop offset=".519" stop-color="#353666"/><stop offset="1" stop-color="#353666"/></linearGradient>
<linearGradient id="b135" gradientUnits="userSpaceOnUse" x1="0" y1="86" x2="0" y2="112"><stop offset="0" stop-color="#861d23"/><stop offset=".115" stop-color="#861d23"/><stop offset=".154" stop-color="#931e24"/><stop offset=".192" stop-color="#c02225"/><stop offset=".231" stop-color="#e9462b"/><stop offset=".269" stop-color="#f7ca43"/><stop offset=".308" stop-color="#7fc297"/><stop offset=".346" stop-color="#2e82c6"/><stop offset=".385" stop-color="#2651a4"/><stop offset=".462" stop-color="#1f3f97"/><stop offset=".5" stop-color="#2f3673"/><stop offset=".538" stop-color="#353666"/><stop offset="1" stop-color="#353666"/></linearGradient>
<linearGradient id="b136" gradientUnits="userSpaceOnUse" x1="0" y1="86" x2="0" y2="112"><stop offset="0" stop-color="#861d23"/><stop offset=".154" stop-color="#891d23"/><stop offset=".192" stop-color="#af2025"/><stop offset=".231" stop-color="#e12a27"/><stop offset=".269" stop-color="#f5a53c"/><stop offset=".308" stop-color="#9acb7a"/><stop offset=".346" stop-color="#47bcdf"/><stop offset=".385" stop-color="#2754a5"/><stop offset=".462" stop-color="#1e429c"/><stop offset=".5" stop-color="#253788"/><stop offset=".538" stop-color="#353666"/><stop offset="1" stop-color="#353666"/></linearGradient>
<linearGradient id="b137" gradientUnits="userSpaceOnUse" x1="0" y1="86" x2="0" y2="112"><stop offset="0" stop-color="#861d23"/><stop offset=".154" stop-color="#861d23"/><stop offset=".192" stop-color="#a31f24"/><stop offset=".231" stop-color="#db2526"/><stop offset=".269" stop-color="#f08332"/><stop offset=".308" stop-color="#bfd85b"/><stop offset=".346" stop-color="#67bec3"/><stop offset=".385" stop-color="#295aa9"/><stop offset=".462" stop-color="#1f449d"/><stop offset=".5" stop-color="#223a90"/><stop offset=".538" stop-color="#353666"/><stop offset="1" stop-color="#353666"/></linearGradient>
<linearGradient id="b138" gradientUnits="userSpaceOnUse" x1="0" y1="86" x2="0" y2="112"><stop offset="0" stop-color="#861d23"/><stop offset=".154" stop-color="#861d23"/><stop offset=".192" stop-color="#9a1e24"/><stop offset=".231" stop-color="#cc2326"/><stop offset=".269" stop-color="#ec5e2e"/><stop offset=".308" stop-color="#f6e646"/><stop offset=".346" stop-color="#76bfa9"/><stop offset=".385" stop-color="#2e69b4"/><stop offset=".423" stop-color="#2550a3"/><stop offset=".5" stop-color="#203d95"/><stop offset=".538" stop-color="#353666"/><stop offset="1" stop-color="#353666"/></linearGradient>
<linearGradient id="b139" gradientUnits="userSpaceOnUse" x1="0" y1="86" x2="0" y2="112"><stop offset="0" stop-color="#861d23"/><stop offset=".154" stop-color="#861d23"/><stop offset=".192" stop-color="#911e24"/><stop offset=".231" stop-color="#bc2125"/><stop offset=".269" stop-color="#e83d2a"/><stop offset=".308" stop-color="#f8c043"/><stop offset=".346" stop-color="#81c291"/><stop offset=".385" stop-color="#2b98d5"/><stop offset=".423" stop-color="#2652a4"/><stop offset=".5" stop-color="#1f4098"/><stop offset=".538" stop-color="#2d3678"/><stop offset=".577" stop-color="#353666"/><stop offset="1" stop-color="#353666"/></linearGradient>
<linearGradient id="b140" gradientUnits="userSpaceOnUse" x1="0" y1="86" x2="0" y2="112"><stop offset="0" stop-color="#861d23"/><stop offset=".192" stop-color="#891d23"/><stop offset=".231" stop-color="#ae2025"/><stop offset=".269" stop-color="#e12a27"/><stop offset=".308" stop-color="#f5a43b"/><stop offset=".346" stop-color="#9acb79"/><stop offset=".385" stop-color="#48bdde"/><stop offset=".423" stop-color="#2754a5"/><stop offset=".5" stop-color="#1e429c"/><stop offset=".538" stop-color="#253788"/><stop offset=".577" stop-color="#353666"/><stop offset="1" stop-color="#353666"/></linearGradient>
<linearGradient id="b141" gradientUnits="userSpaceOnUse" x1="0" y1="87" x2="0" y2="112"><stop offset="0" stop-color="#861d23"/><stop offset=".16" stop-color="#861d23"/><stop offset=".2" stop-color="#a51f24"/><stop offset=".24" stop-color="#dc2626"/><stop offset=".28" stop-color="#f18933"/><stop offset=".32" stop-color="#b8d561"/><stop offset=".36" stop-color="#65bec7"/><stop offset=".4" stop-color="#2857a7"/><stop offset=".48" stop-color="#1f449d"/><stop offset=".52" stop-color="#22398f"/><stop offset=".56" stop-color="#353666"/><stop offset="1" stop-color="#353666"/></linearGradient>
<linearGradient id="b142" gradientUnits="userSpaceOnUse" x1="0" y1="87" x2="0" y2="112"><stop offset="0" stop-color="#861d23"/><stop offset=".16" stop-color="#861d23"/><stop offset=".2" stop-color="#9d1f24"/><stop offset=".24" stop-color="#d32326"/><stop offset=".28" stop-color="#ed6d2f"/><stop offset=".32" stop-color="#e3e24d"/><stop offset=".36" stop-color="#70beb3"/><stop offset=".4" stop-color="#2c63b0"/><stop offset=".44" stop-color="#244ea2"/><stop offset=".52" stop-color="#213c93"/><stop offset=".56" stop-color="#353666"/><stop offset="1" stop-color="#353666"/></linearGradient>
<linearGradient id="b143" gradientUnits="userSpaceOnUse" x1="0" y1="87" x2="0" y2="112"><stop offset="0" stop-color="#861d23"/><stop offset=".16" stop-color="#861d23"/><stop offset=".2" stop-color="#961e24"/><stop offset=".24" stop-color="#c52225"/><stop offset=".28" stop-color="#ea502c"/><stop offset=".32" stop-color="#f7d544"/><stop offset=".36" stop-color="#7bc19e"/><stop offset=".4" stop-color="#306fb9"/><stop offset=".44" stop-color="#2551a3"/><stop offset=".52" stop-color="#203e96"/><stop offset=".56" stop-color="#31366e"/><stop offset=".64" stop-color="#353666"/><stop offset="1" stop-color="#353666"/></linearGradient>
<linearGradient id="b144" gradientUnits="userSpaceOnUse" x1="0" y1="87" x2="0" y2="112"><stop offset="0" stop-color="#861d23"/><stop offset=".16" stop-color="#861d23"/><stop offset=".2" stop-color="#8e1d24"/><stop offset=".24" stop-color="#b82125"/><stop offset=".28" stop-color="#e73429"/><stop offset=".32" stop-color="#f7b641"/><stop offset=".36" stop-color="#86c48a"/><stop offset=".4" stop-color="#27b3e7"/><stop offset=".44" stop-color="#2653a4"/><stop offset=".52" stop-color="#1f409a"/><stop offset=".56" stop-color="#2a377d"/><stop offset=".6" stop-color="#353666"/><stop offset="1" stop-color="#353666"/></linearGradient>
<linearGradient id="b145" gradientUnits="userSpaceOnUse" x1="0" y1="87" x2="0" y2="112"><stop offset="0" stop-color="#861d23"/><stop offset=".2" stop-color="#861d23"/><stop offset=".24" stop-color="#ab2024"/><stop offset=".28" stop-color="#df2827"/><stop offset=".32" stop-color="#f49c39"/><stop offset=".36" stop-color="#a3ce72"/><stop offset=".4" stop-color="#5bbed6"/><stop offset=".44" stop-color="#2755a5"/><stop offset=".52" stop-color="#1e429c"/><stop offset=".56" stop-color="#23378c"/><stop offset=".6" stop-color="#353666"/><stop offset="1" stop-color="#353666"/></linearGradient>
<linearGradient id="b146" gradientUnits="userSpaceOnUse" x1="0" y1="87" x2="0" y2="112"><stop offset="0" stop-color="#861d23"/><stop offset=".2" stop-color="#861d23"/><stop offset=".24" stop-color="#a31f24"/><stop offset=".28" stop-color="#db2526"/><stop offset=".32" stop-color="#f08332"/><stop offset=".36" stop-color="#bfd85b"/><stop offset=".4" stop-color="#67bec3"/><stop offset=".44" stop-color="#295aa9"/><stop offset=".52" stop-color="#1f449d"/><stop offset=".56" stop-color="#223a90"/><stop offset=".6" stop-color="#353666"/><stop offset="1" stop-color="#353666"/></linearGradient>
<linearGradient id="b147" gradientUnits="userSpaceOnUse" x1="0" y1="87" x2="0" y2="112"><stop offset="0" stop-color="#861d23"/><stop offset=".2" stop-color="#861d23"/><stop offset=".24" stop-color="#9c1f24"/><stop offset=".28" stop-color="#d02326"/><stop offset=".32" stop-color="#ed672f"/><stop offset=".36" stop-color="#ebe54a"/><stop offset=".4" stop-color="#72bfaf"/><stop offset=".44" stop-color="#2d65b2"/><stop offset=".48" stop-color="#244fa2"/><stop offset=".56" stop-color="#213c94"/><stop offset=".6" stop-color="#353666"/><stop offset="1" stop-color="#353666"/></linearGradient>
<linearGradient id="b148" gradientUnits="userSpaceOnUse" x1="0" y1="88" x2="0" y2="112"><stop offset="0" stop-color="#861d23"/><stop offset=".167" stop-color="#861d23"/><stop offset=".208" stop-color="#941e24"/><stop offset=".25" stop-color="#c32225"/><stop offset=".292" stop-color="#e94c2b"/><stop offset=".333" stop-color="#f7d044"/><stop offset=".375" stop-color="#7cc19b"/><stop offset=".417" stop-color="#3072bb"/><stop offset=".458" stop-color="#2551a3"/><stop offset=".542" stop-color="#203e97"/><stop offset=".583" stop-color="#303670"/><stop offset=".625" stop-color="#353666"/><stop offset="1" stop-color="#353666"/></linearGradient>
<linearGradient id="b149" gradientUnits="userSpaceOnUse" x1="0" y1="88" x2="0" y2="112"><stop offset="0" stop-color="#861d23"/><stop offset=".167" stop-color="#861d23"/><stop offset=".208" stop-color="#8d1d24"/><stop offset=".25" stop-color="#b62125"/><stop offset=".292" stop-color="#e63128"/><stop offset=".333" stop-color="#f7b340"/><stop offset=".375" stop-color="#89c588"/><stop offset=".417" stop-color="#26baec"/><stop offset=".458" stop-color="#2653a4"/><stop offset=".542" stop-color="#1f419a"/><stop offset=".583" stop-color="#29377f"/><stop offset=".625" stop-color="#353666"/><stop offset="1" stop-color="#353666"/></linearGradient>
<linearGradient id="b150" gradientUnits="userSpaceOnUse" x1="0" y1="88" x2="0" y2="112"><stop offset="0" stop-color="#861d23"/><stop offset=".208" stop-color="#861d23"/><stop offset=".25" stop-color="#aa2024"/><stop offset=".292" stop-color="#df2827"/><stop offset=".333" stop-color="#f39b39"/><stop offset=".375" stop-color="#a4ce71"/><stop offset=".417" stop-color="#5cbed5"/><stop offset=".458" stop-color="#2755a5"/><stop offset=".542" stop-color="#1e429c"/><stop offset=".583" stop-color="#23378c"/><stop offset=".625" stop-color="#353666"/><stop offset="1" stop-color="#353666"/></linearGradient>
<linearGradient id="b151" gradientUnits="userSpaceOnUse" x1="0" y1="88" x2="0" y2="112"><stop offset="0" stop-color="#861d23"/><stop offset=".208" stop-color="#861d23"/><stop offset=".25" stop-color="#a31f24"/><stop offset=".292" stop-color="#db2526"/><stop offset=".333" stop-color="#f08232"/><stop offset=".375" stop-color="#bfd85a"/><stop offset=".417" stop-color="#68bec2"/><stop offset=".458" stop-color="#295aa9"/><stop offset=".542" stop-color="#1f449d"/><stop offset=".583" stop-color="#223a90"/><stop offset=".625" stop-color="#353666"/><stop offset="1" stop-color="#353666"/></linearGradient>
<linearGradient id="b152" gradientUnits="userSpaceOnUse" x1="0" y1="88" x2="0" y2="112"><stop offset="0" stop-color="#861d23"/><stop offset=".208" stop-color="#861d23"/><stop offset=".25" stop-color="#9c1f24"/><stop offset=".292" stop-color="#d02326"/><stop offset=".333" stop-color="#ed682f"/><stop offset=".375" stop-color="#eae44a"/><stop offset=".417" stop-color="#72bfb0"/><stop offset=".458" stop-color="#2d65b1"/><stop offset=".5" stop-color="#244fa2"/><stop offset=".583" stop-color="#213c94"/><stop offset=".625" stop-color="#353666"/><stop offset="1" stop-color="#353666"/></linearGradient>
<linearGradient id="b153" gradientUnits="userSpaceOnUse" x1="0" y1="88" x2="0" y2="112"><stop offset="0" stop-color="#861d23"/><stop offset=".208" stop-color="#861d23"/><stop offset=".25" stop-color="#951e24"/><stop offset=".292" stop-color="#c42225"/><stop offset=".333" stop-color="#ea4e2c"/><stop offset=".375" stop-color="#f7d344"/><stop offset=".417" stop-color="#7cc19d"/><stop offset=".458" stop-color="#3070ba"/><stop offset=".5" stop-color="#2551a3"/><stop offset=".583" stop-color="#203e97"/><stop offset=".625" stop-color="#31366f"/><stop offset=".667" stop-color="#353666"/><stop offset="1" stop-color="#353666"/></linearGradient>
<linearGradient id="b154" gradientUnits="userSpaceOnUse" x1="0" y1="88" x2="0" y2="112"><stop offset="0" stop-color="#861d23"/><stop offset=".208" stop-color="#861d23"/><stop offset=".25" stop-color="#8e1d24"/><stop offset=".292" stop-color="#b72125"/><stop offset=".333" stop-color="#e63128"/><stop offset=".375" stop-color="#f7b240"/><stop offset=".417" stop-color="#8bc586"/><stop offset=".458" stop-color="#2bbaea"/><stop offset=".5" stop-color="#2753a5"/><stop offset=".583" stop-color="#1e419a"/><stop offset=".625" stop-color="#283782"/><stop offset=".667" stop-color="#353666"/><stop offset="1" stop-color="#353666"/></linearGradient>
<linearGradient id="b155" gradientUnits="userSpaceOnUse" x1="0" y1="89" x2="0" y2="112"><stop offset="0" stop-color="#861d23"/><stop offset=".217" stop-color="#861d23"/><stop offset=".261" stop-color="#aa2024"/><stop offset=".304" stop-color="#de2827"/><stop offset=".348" stop-color="#f29437"/><stop offset=".391" stop-color="#aed269"/><stop offset=".435" stop-color="#61becd"/><stop offset=".478" stop-color="#2856a6"/><stop offset=".565" stop-color="#1f449d"/><stop offset=".609" stop-color="#22398f"/><stop offset=".652" stop-color="#353666"/><stop offset="1" stop-color="#353666"/></linearGradient>
<linearGradient id="b156" gradientUnits="userSpaceOnUse" x1="0" y1="89" x2="0" y2="112"><stop offset="0" stop-color="#861d23"/><stop offset=".217" stop-color="#861d23"/><stop offset=".261" stop-color="#a21f24"/><stop offset=".304" stop-color="#d92426"/><stop offset=".348" stop-color="#ee7630"/><stop offset=".391" stop-color="#dae050"/><stop offset=".435" stop-color="#70beb4"/><stop offset=".478" stop-color="#2c64b1"/><stop offset=".522" stop-color="#244fa2"/><stop offset=".609" stop-color="#203d95"/><stop offset=".652" stop-color="#343668"/><stop offset="1" stop-color="#353666"/></linearGradient>
<linearGradient id="b157" gradientUnits="userSpaceOnUse" x1="0" y1="89" x2="0" y2="112"><stop offset="0" stop-color="#861d23"/><stop offset=".217" stop-color="#861d23"/><stop offset=".261" stop-color="#9a1f24"/><stop offset=".304" stop-color="#cb2326"/><stop offset=".348" stop-color="#eb562d"/><stop offset=".391" stop-color="#f7d644"/><stop offset=".435" stop-color="#7cc19b"/><stop offset=".478" stop-color="#2e80c5"/><stop offset=".522" stop-color="#2652a4"/><stop offset=".609" stop-color="#1f4099"/><stop offset=".652" stop-color="#29377e"/><stop offset=".696" stop-color="#353666"/><stop offset="1" stop-color="#353666"/></linearGradient>
<linearGradient id="b158" gradientUnits="userSpaceOnUse" x1="0" y1="89" x2="0" y2="112"><stop offset="0" stop-color="#861d23"/><stop offset=".217" stop-color="#861d23"/><stop offset=".261" stop-color="#931e24"/><stop offset=".304" stop-color="#bd2125"/><stop offset=".348" stop-color="#e73829"/><stop offset=".391" stop-color="#f7b440"/><stop offset=".435" stop-color="#90c782"/><stop offset=".478" stop-color="#40bce1"/><stop offset=".522" stop-color="#2754a5"/><stop offset=".609" stop-color="#1e439c"/><stop offset=".652" stop-color="#22398e"/><stop offset=".696" stop-color="#353666"/><stop offset="1" stop-color="#353666"/></linearGradient>
<linearGradient id="b159" gradientUnits="userSpaceOnUse" x1="0" y1="89" x2="0" y2="112"><stop offset="0" stop-color="#861d23"/><stop offset=".217" stop-color="#861d23"/><stop offset=".261" stop-color="#8c1d23"/><stop offset=".304" stop-color="#b02025"/><stop offset=".348" stop-color="#e02927"/><stop offset=".391" stop-color="#f39738"/><stop offset=".435" stop-color="#b1d367"/><stop offset=".478" stop-color="#65bec7"/><stop offset=".522" stop-color="#295baa"/><stop offset=".609" stop-color="#20459e"/><stop offset=".652" stop-color="#213c93"/><stop offset=".696" stop-color="#353666"/><stop offset="1" stop-color="#353666"/></linearGradient>
<linearGradient id="b160" gradientUnits="userSpaceOnUse" x1="0" y1="89" x2="0" y2="112"><stop offset="0" stop-color="#861d23"/><stop offset=".261" stop-color="#861d23"/><stop offset=".304" stop-color="#a62024"/><stop offset=".348" stop-color="#db2526"/><stop offset=".391" stop-color="#ef7b31"/><stop offset=".435" stop-color="#dbe050"/><stop offset=".478" stop-color="#72bfb0"/><stop offset=".522" stop-color="#2e69b4"/><stop offset=".565" stop-color="#2550a3"/><stop offset=".652" stop-color="#1f3f98"/><stop offset=".696" stop-color="#2b377b"/><stop offset=".739" stop-color="#353666"/><stop offset="1" stop-color="#353666"/></linearGradient>
<linearGradient id="b161" gradientUnits="userSpaceOnUse" x1="0" y1="89" x2="0" y2="112"><stop offset="0" stop-color="#861d23"/><stop offset=".261" stop-color="#861d23"/><stop offset=".304" stop-color="#9f1f24"/><stop offset=".348" stop-color="#d02326"/><stop offset=".391" stop-color="#ec5d2e"/><stop offset=".435" stop-color="#f7d845"/><stop offset=".478" stop-color="#7ec198"/><stop offset=".522" stop-color="#2a9bd7"/><stop offset=".565" stop-color="#2653a4"/><stop offset=".652" stop-color="#1e429c"/><stop offset=".696" stop-color="#23388d"/><stop offset=".739" stop-color="#353666"/><stop offset="1" stop-color="#353666"/></linearGradient>
<linearGradient id="b162" gradientUnits="userSpaceOnUse" x1="0" y1="89" x2="0" y2="112"><stop offset="0" stop-color="#861d23"/><stop offset=".261" stop-color="#861d23"/><stop offset=".304" stop-color="#981e24"/><stop offset=".348" stop-color="#c32225"/><stop offset=".391" stop-color="#e8412a"/><stop offset=".435" stop-color="#f7b741"/><stop offset=".478" stop-color="#92c880"/><stop offset=".522" stop-color="#52bdda"/><stop offset=".565" stop-color="#2855a6"/><stop offset=".652" stop-color="#1f449d"/><stop offset=".696" stop-color="#213b92"/><stop offset=".739" stop-color="#353666"/><stop offset="1" stop-color="#353666"/></linearGradient>
<linearGradient id="b163" gradientUnits="userSpaceOnUse" x1="0" y1="90" x2="0" y2="112"><stop offset="0" stop-color="#861d23"/><stop offset=".227" stop-color="#861d23"/><stop offset=".273" stop-color="#911e24"/><stop offset=".364" stop-color="#e32b27"/><stop offset=".409" stop-color="#f39c39"/><stop offset=".455" stop-color="#b1d366"/><stop offset=".5" stop-color="#67bec3"/><stop offset=".545" stop-color="#2b5fad"/><stop offset=".591" stop-color="#244fa2"/><stop offset=".682" stop-color="#203e97"/><stop offset=".727" stop-color="#2d3677"/><stop offset=".773" stop-color="#353666"/><stop offset="1" stop-color="#353666"/></linearGradient>
<linearGradient id="b164" gradientUnits="userSpaceOnUse" x1="0" y1="90" x2="0" y2="112"><stop offset="0" stop-color="#861d23"/><stop offset=".273" stop-color="#8a1d23"/><stop offset=".318" stop-color="#ab2024"/><stop offset=".364" stop-color="#dd2626"/><stop offset=".409" stop-color="#f08132"/><stop offset=".455" stop-color="#d9e051"/><stop offset=".5" stop-color="#74bfac"/><stop offset=".545" stop-color="#2f6db7"/><stop offset=".591" stop-color="#2651a4"/><stop offset=".682" stop-color="#1e419b"/><stop offset=".727" stop-color="#24378b"/><stop offset=".773" stop-color="#353666"/><stop offset="1" stop-color="#353666"/></linearGradient>
<linearGradient id="b165" gradientUnits="userSpaceOnUse" x1="0" y1="90" x2="0" y2="112"><stop offset="0" stop-color="#861d23"/><stop offset=".273" stop-color="#861d23"/><stop offset=".318" stop-color="#a41f24"/><stop offset=".364" stop-color="#d72426"/><stop offset=".409" stop-color="#ec652e"/><stop offset=".455" stop-color="#f7db45"/><stop offset=".5" stop-color="#7fc296"/><stop offset=".545" stop-color="#27afe5"/><stop offset=".591" stop-color="#2754a5"/><stop offset=".682" stop-color="#1f439d"/><stop offset=".727" stop-color="#223a91"/><stop offset=".773" stop-color="#353666"/><stop offset="1" stop-color="#353666"/></linearGradient>
<linearGradient id="b166" gradientUnits="userSpaceOnUse" x1="0" y1="90" x2="0" y2="112"><stop offset="0" stop-color="#861d23"/><stop offset=".273" stop-color="#861d23"/><stop offset=".318" stop-color="#9d1f24"/><stop offset=".364" stop-color="#ca2325"/><stop offset=".409" stop-color="#e9492b"/><stop offset=".455" stop-color="#f8ba42"/><stop offset=".5" stop-color="#93c87f"/><stop offset=".545" stop-color="#5dbed5"/><stop offset=".591" stop-color="#2856a6"/><stop offset=".727" stop-color="#203d95"/><stop offset=".773" stop-color="#2f3672"/><stop offset=".818" stop-color="#353666"/><stop offset="1" stop-color="#353666"/></linearGradient>
<linearGradient id="b167" gradientUnits="userSpaceOnUse" x1="0" y1="90" x2="0" y2="112"><stop offset="0" stop-color="#861d23"/><stop offset=".273" stop-color="#861d23"/><stop offset=".318" stop-color="#971e24"/><stop offset=".364" stop-color="#be2225"/><stop offset=".409" stop-color="#e62f28"/><stop offset=".455" stop-color="#f4a03a"/><stop offset=".5" stop-color="#b1d366"/><stop offset=".545" stop-color="#69bebf"/><stop offset=".591" stop-color="#2c63b0"/><stop offset=".636" stop-color="#2550a3"/><stop offset=".727" stop-color="#1f4099"/><stop offset=".773" stop-color="#263785"/><stop offset=".818" stop-color="#353666"/><stop offset="1" stop-color="#353666"/></linearGradient>
<linearGradient id="b168" gradientUnits="userSpaceOnUse" x1="0" y1="90" x2="0" y2="112"><stop offset="0" stop-color="#861d23"/><stop offset=".273" stop-color="#861d23"/><stop offset=".318" stop-color="#901e24"/><stop offset=".364" stop-color="#b22125"/><stop offset=".409" stop-color="#df2827"/><stop offset=".455" stop-color="#f08733"/><stop offset=".5" stop-color="#d7df52"/><stop offset=".545" stop-color="#75bfaa"/><stop offset=".591" stop-color="#3070ba"/><stop offset=".636" stop-color="#2652a4"/><stop offset=".727" stop-color="#1e429c"/><stop offset=".773" stop-color="#22398f"/><stop offset=".818" stop-color="#353666"/><stop offset="1" stop-color="#353666"/></linearGradient>
<linearGradient id="b169" gradientUnits="userSpaceOnUse" x1="0" y1="90" x2="0" y2="112"><stop offset="0" stop-color="#861d23"/><stop offset=".318" stop-color="#8a1d23"/><stop offset=".364" stop-color="#a92024"/><stop offset=".409" stop-color="#db2526"/><stop offset=".455" stop-color="#ee6f30"/><stop offset=".5" stop-color="#f6e145"/><stop offset=".545" stop-color="#7ec297"/><stop offset=".591" stop-color="#26b6ea"/><stop offset=".636" stop-color="#2754a5"/><stop offset=".727" stop-color="#1f449d"/><stop offset=".773" stop-color="#213c93"/><stop offset=".818" stop-color="#33366b"/><stop offset="1" stop-color="#353666"/></linearGradient>
<linearGradient id="b170" gradientUnits="userSpaceOnUse" x1="0" y1="90" x2="0" y2="112"><stop offset="0" stop-color="#861d23"/><stop offset=".318" stop-color="#861d23"/><stop offset=".364" stop-color="#a31f24"/><stop offset=".409" stop-color="#d22326"/><stop offset=".455" stop-color="#eb582d"/><stop offset=".5" stop-color="#f7c743"/><stop offset=".545" stop-color="#8ac587"/><stop offset=".591" stop-color="#52bdda"/><stop offset=".636" stop-color="#2856a6"/><stop offset=".773" stop-color="#203d95"/><stop offset=".818" stop-color="#2e3675"/><stop offset=".864" stop-color="#353666"/><stop offset="1" stop-color="#353666"/></linearGradient>
<linearGradient id="b171" gradientUnits="userSpaceOnUse" x1="0" y1="91" x2="0" y2="112"><stop offset="0" stop-color="#861d23"/><stop offset=".286" stop-color="#861d23"/><stop offset=".333" stop-color="#9d1f24"/><stop offset=".381" stop-color="#c82225"/><stop offset=".429" stop-color="#e8422a"/><stop offset=".476" stop-color="#f7b03f"/><stop offset=".524" stop-color="#a1cd74"/><stop offset=".571" stop-color="#63bec9"/><stop offset=".619" stop-color="#2b5eac"/><stop offset=".714" stop-color="#20479e"/><stop offset=".762" stop-color="#1f3f97"/><stop offset=".857" stop-color="#353666"/><stop offset="1" stop-color="#353666"/></linearGradient>
<linearGradient id="b172" gradientUnits="userSpaceOnUse" x1="0" y1="91" x2="0" y2="112"><stop offset="0" stop-color="#861d23"/><stop offset=".286" stop-color="#861d23"/><stop offset=".333" stop-color="#971e24"/><stop offset=".381" stop-color="#bd2225"/><stop offset=".429" stop-color="#e52d28"/><stop offset=".476" stop-color="#f39c39"/><stop offset=".524" stop-color="#b8d561"/><stop offset=".571" stop-color="#6dbeb9"/><stop offset=".619" stop-color="#2d67b3"/><stop offset=".667" stop-color="#2551a3"/><stop offset=".762" stop-color="#1f419a"/><stop offset=".81" stop-color="#24378b"/><stop offset=".857" stop-color="#353666"/><stop offset="1" stop-color="#353666"/></linearGradient>
<linearGradient id="b173" gradientUnits="userSpaceOnUse" x1="0" y1="91" x2="0" y2="112"><stop offset="0" stop-color="#861d23"/><stop offset=".286" stop-color="#861d23"/><stop offset=".333" stop-color="#901e24"/><stop offset=".381" stop-color="#b22125"/><stop offset=".429" stop-color="#df2827"/><stop offset=".476" stop-color="#f08733"/><stop offset=".524" stop-color="#d8df51"/><stop offset=".571" stop-color="#75bfa9"/><stop offset=".619" stop-color="#2f74bd"/><stop offset=".667" stop-color="#2652a4"/><stop offset=".762" stop-color="#1e429c"/><stop offset=".81" stop-color="#22398e"/><stop offset=".857" stop-color="#353666"/><stop offset="1" stop-color="#353666"/></linearGradient>
<linearGradient id="b174" gradientUnits="userSpaceOnUse" x1="0" y1="91" x2="0" y2="112"><stop offset="0" stop-color="#861d23"/><stop offset=".333" stop-color="#8a1d23"/><stop offset=".381" stop-color="#a92024"/><stop offset=".429" stop-color="#db2526"/><stop offset=".476" stop-color="#ee7130"/><stop offset=".524" stop-color="#f6e346"/><stop offset=".571" stop-color="#7ec199"/><stop offset=".619" stop-color="#27b0e5"/><stop offset=".667" stop-color="#2754a5"/><stop offset=".762" stop-color="#1f439d"/><stop offset=".81" stop-color="#213a91"/><stop offset=".857" stop-color="#343669"/><stop offset="1" stop-color="#353666"/></linearGradient>
<linearGradient id="b175" gradientUnits="userSpaceOnUse" x1="0" y1="91" x2="0" y2="112"><stop offset="0" stop-color="#861d23"/><stop offset=".333" stop-color="#861d23"/><stop offset=".381" stop-color="#a31f24"/><stop offset=".429" stop-color="#d32326"/><stop offset=".476" stop-color="#eb5a2d"/><stop offset=".524" stop-color="#f7ca43"/><stop offset=".571" stop-color="#88c489"/><stop offset=".619" stop-color="#4dbddc"/><stop offset=".667" stop-color="#2855a6"/><stop offset=".762" stop-color="#1f459d"/><stop offset=".81" stop-color="#213c93"/><stop offset=".857" stop-color="#2f3672"/><stop offset=".905" stop-color="#353666"/><stop offset="1" stop-color="#353666"/></linearGradient>
<linearGradient id="b176" gradientUnits="userSpaceOnUse" x1="0" y1="91" x2="0" y2="112"><stop offset="0" stop-color="#861d23"/><stop offset=".333" stop-color="#861d23"/><stop offset=".381" stop-color="#9d1f24"/><stop offset=".429" stop-color="#c92325"/><stop offset=".476" stop-color="#e8432a"/><stop offset=".524" stop-color="#f7b240"/><stop offset=".571" stop-color="#9fcd75"/><stop offset=".619" stop-color="#63becb"/><stop offset=".667" stop-color="#2a5dac"/><stop offset=".762" stop-color="#20469e"/><stop offset=".81" stop-color="#203d95"/><stop offset=".905" stop-color="#353666"/><stop offset="1" stop-color="#353666"/></linearGradient>
<linearGradient id="b177" gradientUnits="userSpaceOnUse" x1="0" y1="91" x2="0" y2="112"><stop offset="0" stop-color="#861d23"/><stop offset=".333" stop-color="#861d23"/><stop offset=".381" stop-color="#971e24"/><stop offset=".429" stop-color="#be2225"/><stop offset=".476" stop-color="#e62e28"/><stop offset=".524" stop-color="#f49d39"/><stop offset=".571" stop-color="#b6d562"/><stop offset=".619" stop-color="#6cbebb"/><stop offset=".667" stop-color="#2d66b3"/><stop offset=".714" stop-color="#2550a3"/><stop offset=".81" stop-color="#1f3f98"/><stop offset=".857" stop-color="#273783"/><stop offset=".905" stop-color="#353666"/><stop offset="1" stop-color="#353666"/></linearGradient>
<linearGradient id="b178" gradientUnits="userSpaceOnUse" x1="0" y1="91" x2="0" y2="112"><stop offset="0" stop-color="#861d23"/><stop offset=".333" stop-color="#861d23"/><stop offset=".381" stop-color="#911e24"/><stop offset=".429" stop-color="#b32125"/><stop offset=".476" stop-color="#df2827"/><stop offset=".524" stop-color="#f18833"/><stop offset=".571" stop-color="#d5de52"/><stop offset=".619" stop-color="#75bfab"/><stop offset=".667" stop-color="#3070ba"/><stop offset=".714" stop-color="#2652a4"/><stop offset=".81" stop-color="#1f419a"/><stop offset=".857" stop-color="#23378c"/><stop offset=".905" stop-color="#353666"/><stop offset="1" stop-color="#353666"/></linearGradient>
<linearGradient id="b179" gradientUnits="userSpaceOnUse" x1="0" y1="92" x2="0" y2="112"><stop offset="0" stop-color="#871d23"/><stop offset=".35" stop-color="#8b1d23"/><stop offset=".4" stop-color="#aa2024"/><stop offset=".45" stop-color="#dc2526"/><stop offset=".5" stop-color="#ee7330"/><stop offset=".55" stop-color="#f6e646"/><stop offset=".6" stop-color="#7dc19a"/><stop offset=".65" stop-color="#28a8e0"/><stop offset=".7" stop-color="#2753a5"/><stop offset=".8" stop-color="#1e429c"/><stop offset=".85" stop-color="#22388e"/><stop offset=".9" stop-color="#343668"/><stop offset="1" stop-color="#353666"/></linearGradient>
<linearGradient id="b180" gradientUnits="userSpaceOnUse" x1="0" y1="92" x2="0" y2="112"><stop offset="0" stop-color="#881d23"/><stop offset=".35" stop-color="#881d23"/><stop offset=".4" stop-color="#a61f24"/><stop offset=".45" stop-color="#d62426"/><stop offset=".5" stop-color="#eb5d2d"/><stop offset=".55" stop-color="#f7cd44"/><stop offset=".6" stop-color="#85c38b"/><stop offset=".65" stop-color="#46bcdf"/><stop offset=".7" stop-color="#2755a5"/><stop offset=".8" stop-color="#1f439d"/><stop offset=".85" stop-color="#223a90"/><stop offset=".9" stop-color="#32366d"/><stop offset="1" stop-color="#353666"/></linearGradient>
<linearGradient id="b181" gradientUnits="userSpaceOnUse" x1="0" y1="92" x2="0" y2="112"><stop offset="0" stop-color="#8a1d23"/><stop offset=".35" stop-color="#8a1d23"/><stop offset=".4" stop-color="#a11f24"/><stop offset=".45" stop-color="#cc2326"/><stop offset=".5" stop-color="#e9472b"/><stop offset=".55" stop-color="#f7b541"/><stop offset=".6" stop-color="#9ccb78"/><stop offset=".65" stop-color="#61becd"/><stop offset=".7" stop-color="#2a5baa"/><stop offset=".8" stop-color="#1f449d"/><stop offset=".85" stop-color="#213b92"/><stop offset=".9" stop-color="#2f3673"/><stop offset=".95" stop-color="#353666"/><stop offset="1" stop-color="#353666"/></linearGradient>
<linearGradient id="b182" gradientUnits="userSpaceOnUse" x1="0" y1="92" x2="0" y2="112"><stop offset="0" stop-color="#8b1d23"/><stop offset=".35" stop-color="#8b1d23"/><stop offset=".4" stop-color="#9c1f24"/><stop offset=".45" stop-color="#c32225"/><stop offset=".5" stop-color="#e63228"/><stop offset=".55" stop-color="#f4a13b"/><stop offset=".6" stop-color="#b2d366"/><stop offset=".65" stop-color="#6abebe"/><stop offset=".7" stop-color="#2c64b1"/><stop offset=".75" stop-color="#244fa2"/><stop offset=".85" stop-color="#213c93"/><stop offset=".9" stop-color="#2c3678"/><stop offset=".95" stop-color="#353666"/><stop offset="1" stop-color="#353666"/></linearGradient>
<linearGradient id="b183" gradientUnits="userSpaceOnUse" x1="0" y1="92" x2="0" y2="112"><stop offset="0" stop-color="#8d1d24"/><stop offset=".35" stop-color="#8d1d24"/><stop offset=".4" stop-color="#971e24"/><stop offset=".5" stop-color="#e12a27"/><stop offset=".55" stop-color="#f18d35"/><stop offset=".6" stop-color="#cddc55"/><stop offset=".65" stop-color="#73bfae"/><stop offset=".7" stop-color="#2f6db8"/><stop offset=".75" stop-color="#2550a3"/><stop offset=".85" stop-color="#203d95"/><stop offset=".95" stop-color="#353666"/><stop offset="1" stop-color="#353666"/></linearGradient>
<linearGradient id="b184" gradientUnits="userSpaceOnUse" x1="0" y1="92" x2="0" y2="112"><stop offset="0" stop-color="#8e1d24"/><stop offset=".4" stop-color="#921e24"/><stop offset=".45" stop-color="#b12025"/><stop offset=".5" stop-color="#de2727"/><stop offset=".55" stop-color="#ef7831"/><stop offset=".6" stop-color="#f2e747"/><stop offset=".65" stop-color="#7bc19d"/><stop offset=".7" stop-color="#2a9bd7"/><stop offset=".75" stop-color="#2652a4"/><stop offset=".85" stop-color="#203e97"/><stop offset=".9" stop-color="#273784"/><stop offset=".95" stop-color="#353667"/><stop offset="1" stop-color="#353666"/></linearGradient>
<linearGradient id="b185" gradientUnits="userSpaceOnUse" x1="0" y1="92" x2="0" y2="112"><stop offset="0" stop-color="#8f1e24"/><stop offset=".4" stop-color="#8f1e24"/><stop offset=".45" stop-color="#ac2025"/><stop offset=".5" stop-color="#da2426"/><stop offset=".55" stop-color="#ec602e"/><stop offset=".6" stop-color="#f7cf44"/><stop offset=".65" stop-color="#84c38d"/><stop offset=".7" stop-color="#40bce1"/><stop offset=".75" stop-color="#2754a5"/><stop offset=".85" stop-color="#1f4099"/><stop offset=".9" stop-color="#253789"/><stop offset=".95" stop-color="#33366a"/><stop offset="1" stop-color="#353666"/></linearGradient>
<linearGradient id="b186" gradientUnits="userSpaceOnUse" x1="0" y1="92" x2="0" y2="112"><stop offset="0" stop-color="#911e24"/><stop offset=".4" stop-color="#911e24"/><stop offset=".45" stop-color="#a62024"/><stop offset=".5" stop-color="#d12326"/><stop offset=".55" stop-color="#e9492b"/><stop offset=".6" stop-color="#f7b541"/><stop offset=".65" stop-color="#9bcb79"/><stop offset=".7" stop-color="#61bece"/><stop offset=".75" stop-color="#295aa9"/><stop offset=".85" stop-color="#1e419b"/><stop offset=".9" stop-color="#23378c"/><stop offset=".95" stop-color="#32366d"/><stop offset="1" stop-color="#353666"/></linearGradient>
<linearGradient id="b187" gradientUnits="userSpaceOnUse" x1="0" y1="93" x2="0" y2="112"><stop offset="0" stop-color="#921e24"/><stop offset=".368" stop-color="#921e24"/><stop offset=".421" stop-color="#a11f24"/><stop offset=".474" stop-color="#c62225"/><stop offset=".526" stop-color="#e63128"/><stop offset=".579" stop-color="#f49f3a"/><stop offset=".632" stop-color="#b4d464"/><stop offset=".684" stop-color="#6bbebd"/><stop offset=".737" stop-color="#2c64b0"/><stop offset=".789" stop-color="#234da1"/><stop offset=".842" stop-color="#1e429c"/><stop offset=".895" stop-color="#22388e"/><stop offset=".947" stop-color="#303670"/><stop offset="1" stop-color="#353666"/></linearGradient>
<linearGradient id="b188" gradientUnits="userSpaceOnUse" x1="0" y1="93" x2="0" y2="112"><stop offset="0" stop-color="#931e24"/><stop offset=".368" stop-color="#931e24"/><stop offset=".421" stop-color="#9c1f24"/><stop offset=".526" stop-color="#e22a27"/><stop offset=".579" stop-color="#f18a34"/><stop offset=".632" stop-color="#d3de53"/><stop offset=".684" stop-color="#74bfac"/><stop offset=".737" stop-color="#2f6db8"/><stop offset=".789" stop-color="#244ea2"/><stop offset=".842" stop-color="#1f449d"/><stop offset=".895" stop-color="#22398f"/><stop offset=".947" stop-color="#2f3673"/><stop offset="1" stop-color="#353666"/></linearGradient>
<linearGradient id="b189" gradientUnits="userSpaceOnUse" x1="0" y1="93" x2="0" y2="112"><stop offset="0" stop-color="#951e24"/><stop offset=".421" stop-color="#961e24"/><stop offset=".474" stop-color="#b52125"/><stop offset=".526" stop-color="#de2827"/><stop offset=".579" stop-color="#ee7430"/><stop offset=".632" stop-color="#f6e546"/><stop offset=".684" stop-color="#7cc19b"/><stop offset=".737" stop-color="#2a9ad6"/><stop offset=".789" stop-color="#2550a3"/><stop offset=".895" stop-color="#223a90"/><stop offset=".947" stop-color="#2d3676"/><stop offset="1" stop-color="#353667"/></linearGradient>
<linearGradient id="b190" gradientUnits="userSpaceOnUse" x1="0" y1="93" x2="0" y2="112"><stop offset="0" stop-color="#961e24"/><stop offset=".421" stop-color="#961e24"/><stop offset=".474" stop-color="#b02025"/><stop offset=".526" stop-color="#db2526"/><stop offset=".579" stop-color="#eb5c2d"/><stop offset=".632" stop-color="#f7ca43"/><stop offset=".684" stop-color="#85c48b"/><stop offset=".737" stop-color="#40bce1"/><stop offset=".789" stop-color="#2652a4"/><stop offset=".895" stop-color="#213b91"/><stop offset=".947" stop-color="#2c3679"/><stop offset="1" stop-color="#343668"/></linearGradient>
<linearGradient id="b191" gradientUnits="userSpaceOnUse" x1="0" y1="93" x2="0" y2="112"><stop offset="0" stop-color="#981e24"/><stop offset=".421" stop-color="#981e24"/><stop offset=".474" stop-color="#aa2024"/><stop offset=".526" stop-color="#d32326"/><stop offset=".579" stop-color="#e9452b"/><stop offset=".632" stop-color="#f7b13f"/><stop offset=".684" stop-color="#9dcc77"/><stop offset=".737" stop-color="#60becf"/><stop offset=".789" stop-color="#2857a7"/><stop offset=".842" stop-color="#21479f"/><stop offset=".895" stop-color="#213c93"/><stop offset="1" stop-color="#33366a"/></linearGradient>
<linearGradient id="b192" gradientUnits="userSpaceOnUse" x1="0" y1="93" x2="0" y2="112"><stop offset="0" stop-color="#991e24"/><stop offset=".421" stop-color="#991e24"/><stop offset=".474" stop-color="#a51f24"/><stop offset=".526" stop-color="#c82225"/><stop offset=".579" stop-color="#e62e28"/><stop offset=".632" stop-color="#f49c39"/><stop offset=".684" stop-color="#b5d463"/><stop offset=".737" stop-color="#6abebe"/><stop offset=".789" stop-color="#2b60ad"/><stop offset=".842" stop-color="#21489f"/><stop offset=".895" stop-color="#203d94"/><stop offset="1" stop-color="#33366b"/></linearGradient>
<linearGradient id="b193" gradientUnits="userSpaceOnUse" x1="0" y1="93" x2="0" y2="112"><stop offset="0" stop-color="#9a1f24"/><stop offset=".421" stop-color="#9a1f24"/><stop offset=".474" stop-color="#a01f24"/><stop offset=".579" stop-color="#e32b27"/><stop offset=".632" stop-color="#f18833"/><stop offset=".684" stop-color="#d5de52"/><stop offset=".737" stop-color="#73bfae"/><stop offset=".789" stop-color="#2e68b4"/><stop offset=".842" stop-color="#224aa0"/><stop offset=".895" stop-color="#203e96"/><stop offset="1" stop-color="#32366c"/></linearGradient>
<linearGradient id="b194" gradientUnits="userSpaceOnUse" x1="0" y1="93" x2="0" y2="112"><stop offset="0" stop-color="#9c1f24"/><stop offset=".474" stop-color="#9c1f24"/><stop offset=".526" stop-color="#ba2125"/><stop offset=".579" stop-color="#df2827"/><stop offset=".632" stop-color="#ee7230"/><stop offset=".684" stop-color="#f6e546"/><stop offset=".737" stop-color="#7bc19e"/><stop offset=".789" stop-color="#2f77bf"/><stop offset=".842" stop-color="#224ba0"/><stop offset=".895" stop-color="#203f97"/><stop offset="1" stop-color="#31366d"/></linearGradient>
<linearGradient id="b195" gradientUnits="userSpaceOnUse" x1="0" y1="94" x2="0" y2="112"><stop offset="0" stop-color="#9d1f24"/><stop offset=".444" stop-color="#9d1f24"/><stop offset=".5" stop-color="#b42125"/><stop offset=".556" stop-color="#dc2626"/><stop offset=".611" stop-color="#eb5a2d"/><stop offset=".667" stop-color="#f7ca43"/><stop offset=".722" stop-color="#82c38f"/><stop offset=".778" stop-color="#26b7ea"/><stop offset=".833" stop-color="#244ea2"/><stop offset=".889" stop-color="#1f4099"/><stop offset=".944" stop-color="#263786"/><stop offset="1" stop-color="#31366f"/></linearGradient>
<linearGradient id="b196" gradientUnits="userSpaceOnUse" x1="0" y1="94" x2="0" y2="112"><stop offset="0" stop-color="#9e1f24"/><stop offset=".444" stop-color="#9f1f24"/><stop offset=".5" stop-color="#af2025"/><stop offset=".556" stop-color="#d62426"/><stop offset=".611" stop-color="#e8432a"/><stop offset=".667" stop-color="#f7b240"/><stop offset=".722" stop-color="#96c97d"/><stop offset=".778" stop-color="#52bdda"/><stop offset=".833" stop-color="#2651a4"/><stop offset=".889" stop-color="#1f419a"/><stop offset=".944" stop-color="#253788"/><stop offset="1" stop-color="#303670"/></linearGradient>
<linearGradient id="b197" gradientUnits="userSpaceOnUse" x1="0" y1="94" x2="0" y2="112"><stop offset="0" stop-color="#a01f24"/><stop offset=".444" stop-color="#a01f24"/><stop offset=".5" stop-color="#aa2024"/><stop offset=".556" stop-color="#cc2326"/><stop offset=".611" stop-color="#e73329"/><stop offset=".667" stop-color="#f49d39"/><stop offset=".722" stop-color="#add16a"/><stop offset=".778" stop-color="#63becb"/><stop offset=".833" stop-color="#2755a5"/><stop offset=".889" stop-color="#1e429c"/><stop offset=".944" stop-color="#23378b"/><stop offset="1" stop-color="#303671"/></linearGradient>
<linearGradient id="b198" gradientUnits="userSpaceOnUse" x1="0" y1="94" x2="0" y2="112"><stop offset="0" stop-color="#a11f24"/><stop offset=".5" stop-color="#a41f24"/><stop offset=".611" stop-color="#e42d28"/><stop offset=".667" stop-color="#f18b34"/><stop offset=".722" stop-color="#c6da58"/><stop offset=".778" stop-color="#6bbebc"/><stop offset=".833" stop-color="#295ba9"/><stop offset=".889" stop-color="#1e439c"/><stop offset=".944" stop-color="#23378d"/><stop offset="1" stop-color="#2f3672"/></linearGradient>
<linearGradient id="b199" gradientUnits="userSpaceOnUse" x1="0" y1="94" x2="0" y2="112"><stop offset="0" stop-color="#a51f24"/><stop offset=".5" stop-color="#a61f24"/><stop offset=".611" stop-color="#e12a27"/><stop offset=".667" stop-color="#ee7630"/><stop offset=".722" stop-color="#eae54a"/><stop offset=".778" stop-color="#73bfae"/><stop offset=".833" stop-color="#2c62af"/><stop offset=".889" stop-color="#1f449d"/><stop offset=".944" stop-color="#23388d"/><stop offset="1" stop-color="#2f3673"/></linearGradient>
<linearGradient id="b200" gradientUnits="userSpaceOnUse" x1="0" y1="94" x2="0" y2="112"><stop offset="0" stop-color="#aa2024"/><stop offset=".5" stop-color="#ab2024"/><stop offset=".556" stop-color="#bf2225"/><stop offset=".611" stop-color="#df2827"/><stop offset=".667" stop-color="#ec612e"/><stop offset=".722" stop-color="#f7d745"/><stop offset=".778" stop-color="#7ac0a1"/><stop offset=".833" stop-color="#2e6ab5"/><stop offset=".889" stop-color="#20469e"/><stop offset=".944" stop-color="#22388e"/><stop offset="1" stop-color="#2e3674"/></linearGradient>
<linearGradient id="b201" gradientUnits="userSpaceOnUse" x1="0" y1="94" x2="0" y2="112"><stop offset="0" stop-color="#af2025"/><stop offset=".5" stop-color="#b02025"/><stop offset=".556" stop-color="#bd2125"/><stop offset=".611" stop-color="#dd2626"/><stop offset=".667" stop-color="#ea4d2c"/><stop offset=".722" stop-color="#f8bf42"/><stop offset=".778" stop-color="#81c293"/><stop offset=".833" stop-color="#2e7dc3"/><stop offset=".889" stop-color="#21489f"/><stop offset=".944" stop-color="#22398f"/><stop offset="1" stop-color="#2e3675"/></linearGradient>
<linearGradient id="b202" gradientUnits="userSpaceOnUse" x1="0" y1="94" x2="0" y2="112"><stop offset="0" stop-color="#b42125"/><stop offset=".5" stop-color="#b52125"/><stop offset=".556" stop-color="#bb2125"/><stop offset=".611" stop-color="#db2526"/><stop offset=".667" stop-color="#e9462b"/><stop offset=".722" stop-color="#f6ad3e"/><stop offset=".778" stop-color="#8ec684"/><stop offset=".833" stop-color="#27b0e5"/><stop offset=".889" stop-color="#224ba0"/><stop offset=".944" stop-color="#223990"/><stop offset="1" stop-color="#2d3677"/></linearGradient>
<linearGradient id="b203" gradientUnits="userSpaceOnUse" x1="0" y1="95" x2="0" y2="112"><stop offset="0" stop-color="#b92125"/><stop offset=".529" stop-color="#bc2125"/><stop offset=".588" stop-color="#da2426"/><stop offset=".647" stop-color="#e83f2a"/><stop offset=".706" stop-color="#f49d39"/><stop offset=".765" stop-color="#a2cd73"/><stop offset=".824" stop-color="#41bce1"/><stop offset=".882" stop-color="#244da2"/><stop offset=".941" stop-color="#223a90"/><stop offset="1" stop-color="#2d3678"/></linearGradient>
<linearGradient id="b204" gradientUnits="userSpaceOnUse" x1="0" y1="95" x2="0" y2="112"><stop offset="0" stop-color="#be2225"/><stop offset=".529" stop-color="#c12225"/><stop offset=".588" stop-color="#d92426"/><stop offset=".647" stop-color="#e73929"/><stop offset=".706" stop-color="#f18d35"/><stop offset=".765" stop-color="#b5d463"/><stop offset=".824" stop-color="#5dbed4"/><stop offset=".882" stop-color="#2550a3"/><stop offset=".941" stop-color="#213c93"/><stop offset="1" stop-color="#2c3779"/></linearGradient>
<linearGradient id="b205" gradientUnits="userSpaceOnUse" x1="0" y1="95" x2="0" y2="112"><stop offset="0" stop-color="#c42225"/><stop offset=".529" stop-color="#c62225"/><stop offset=".588" stop-color="#d72426"/><stop offset=".647" stop-color="#e73329"/><stop offset=".706" stop-color="#ef7b31"/><stop offset=".765" stop-color="#cedc55"/><stop offset=".824" stop-color="#63beca"/><stop offset=".882" stop-color="#2652a4"/><stop offset=".941" stop-color="#203d95"/><stop offset="1" stop-color="#2b377b"/></linearGradient>
<linearGradient id="b206" gradientUnits="userSpaceOnUse" x1="0" y1="95" x2="0" y2="112"><stop offset="0" stop-color="#c92325"/><stop offset=".529" stop-color="#cb2326"/><stop offset=".588" stop-color="#d62426"/><stop offset=".647" stop-color="#e52d28"/><stop offset=".706" stop-color="#ee7330"/><stop offset=".765" stop-color="#ebe54a"/><stop offset=".824" stop-color="#69bebf"/><stop offset=".882" stop-color="#2755a5"/><stop offset=".941" stop-color="#1f3f97"/><stop offset="1" stop-color="#2a377c"/></linearGradient>
<linearGradient id="b207" gradientUnits="userSpaceOnUse" x1="0" y1="95" x2="0" y2="112"><stop offset="0" stop-color="#ce2326"/><stop offset=".529" stop-color="#d12326"/><stop offset=".588" stop-color="#d52426"/><stop offset=".647" stop-color="#e52d28"/><stop offset=".706" stop-color="#ed6d2f"/><stop offset=".765" stop-color="#f6de45"/><stop offset=".824" stop-color="#70beb5"/><stop offset=".882" stop-color="#2959a8"/><stop offset=".941" stop-color="#1f409a"/><stop offset="1" stop-color="#29377e"/></linearGradient>
<linearGradient id="b208" gradientUnits="userSpaceOnUse" x1="0" y1="95" x2="0" y2="112"><stop offset="0" stop-color="#d32326"/><stop offset=".529" stop-color="#d62426"/><stop offset=".588" stop-color="#da2426"/><stop offset=".647" stop-color="#e42d28"/><stop offset=".706" stop-color="#ed662f"/><stop offset=".765" stop-color="#f7cc44"/><stop offset=".824" stop-color="#75bfaa"/><stop offset=".882" stop-color="#2a5eac"/><stop offset=".941" stop-color="#1e429c"/><stop offset="1" stop-color="#273784"/></linearGradient>
<linearGradient id="b209" gradientUnits="userSpaceOnUse" x1="0" y1="95" x2="0" y2="112"><stop offset="0" stop-color="#d82426"/><stop offset=".588" stop-color="#dc2526"/><stop offset=".647" stop-color="#e42c28"/><stop offset=".706" stop-color="#ec602e"/><stop offset=".765" stop-color="#f8ba42"/><stop offset=".824" stop-color="#7ac19f"/><stop offset=".882" stop-color="#2c63b0"/><stop offset=".941" stop-color="#1f449d"/><stop offset="1" stop-color="#23378c"/></linearGradient>
<linearGradient id="b210" gradientUnits="userSpaceOnUse" x1="0" y1="95" x2="0" y2="112"><stop offset="0" stop-color="#db2526"/><stop offset=".588" stop-color="#dd2727"/><stop offset=".647" stop-color="#e32c28"/><stop offset=".706" stop-color="#eb5a2d"/><stop offset=".765" stop-color="#f7b13f"/><stop offset=".824" stop-color="#80c293"/><stop offset=".882" stop-color="#2e6ab5"/><stop offset=".941" stop-color="#20479e"/><stop offset="1" stop-color="#22398f"/></linearGradient>
<linearGradient id="b211" gradientUnits="userSpaceOnUse" x1="0" y1="96" x2="0" y2="112"><stop offset="0" stop-color="#dd2626"/><stop offset=".625" stop-color="#e32b27"/><stop offset=".688" stop-color="#eb572d"/><stop offset=".75" stop-color="#f6aa3d"/><stop offset=".812" stop-color="#8bc686"/><stop offset=".875" stop-color="#2e7ec4"/><stop offset=".938" stop-color="#224ba0"/><stop offset="1" stop-color="#203e96"/></linearGradient>
<linearGradient id="b212" gradientUnits="userSpaceOnUse" x1="0" y1="96" x2="0" y2="112"><stop offset="0" stop-color="#e02927"/><stop offset=".625" stop-color="#e52e28"/><stop offset=".688" stop-color="#eb562d"/><stop offset=".75" stop-color="#f5a43b"/><stop offset=".812" stop-color="#a2cd73"/><stop offset=".875" stop-color="#34bbe6"/><stop offset=".938" stop-color="#2651a4"/><stop offset="1" stop-color="#1f459d"/></linearGradient>
<linearGradient id="b213" gradientUnits="userSpaceOnUse" x1="0" y1="96" x2="0" y2="112"><stop offset="0" stop-color="#e42d28"/><stop offset=".562" stop-color="#e63028"/><stop offset=".625" stop-color="#e73a29"/><stop offset=".688" stop-color="#eb5b2d"/><stop offset=".75" stop-color="#f49e3a"/><stop offset=".812" stop-color="#bbd65e"/><stop offset=".875" stop-color="#64bec9"/><stop offset=".938" stop-color="#2b60ae"/><stop offset="1" stop-color="#254fa3"/></linearGradient>
<linearGradient id="b214" gradientUnits="userSpaceOnUse" x1="0" y1="96" x2="0" y2="112"><stop offset="0" stop-color="#e9452b"/><stop offset=".562" stop-color="#e94c2b"/><stop offset=".625" stop-color="#eb552d"/><stop offset=".688" stop-color="#ed6d2f"/><stop offset=".75" stop-color="#f4a13b"/><stop offset=".812" stop-color="#d4de53"/><stop offset=".875" stop-color="#74bfac"/><stop offset=".938" stop-color="#27b2e7"/><stop offset="1" stop-color="#2d65b1"/></linearGradient>
<linearGradient id="b215" gradientUnits="userSpaceOnUse" x1="0" y1="96" x2="0" y2="112"><stop offset="0" stop-color="#ee7530"/><stop offset=".562" stop-color="#ef7c31"/><stop offset=".688" stop-color="#f29236"/><stop offset=".75" stop-color="#f7b641"/><stop offset=".812" stop-color="#d5de52"/><stop offset=".875" stop-color="#7fc295"/><stop offset=".938" stop-color="#66bec5"/><stop offset="1" stop-color="#3bbce3"/></linearGradient>
<linearGradient id="b216" gradientUnits="userSpaceOnUse" x1="0" y1="96" x2="0" y2="112"><stop offset="0" stop-color="#f5a93d"/><stop offset=".562" stop-color="#f6ae3e"/><stop offset=".688" stop-color="#f8c042"/><stop offset=".75" stop-color="#f6de45"/><stop offset=".812" stop-color="#bcd75d"/><stop offset=".875" stop-color="#83c38e"/><stop offset=".938" stop-color="#71beb2"/><stop offset="1" stop-color="#65bec7"/></linearGradient>
<linearGradient id="b217" gradientUnits="userSpaceOnUse" x1="0" y1="96" x2="0" y2="112"><stop offset="0" stop-color="#f7d745"/><stop offset=".562" stop-color="#f6dd45"/><stop offset=".625" stop-color="#f6e346"/><stop offset=".688" stop-color="#ece54a"/><stop offset=".75" stop-color="#ccdc56"/><stop offset=".812" stop-color="#a7cf6f"/><stop offset=".875" stop-color="#82c291"/><stop offset=".938" stop-color="#75bfab"/><stop offset="1" stop-color="#6bbebd"/></linearGradient>
<linearGradient id="b218" gradientUnits="userSpaceOnUse" x1="0" y1="97" x2="0" y2="112"><stop offset="0" stop-color="#dee14f"/><stop offset=".467" stop-color="#dae050"/><stop offset=".6" stop-color="#cedc55"/><stop offset=".733" stop-color="#afd268"/><stop offset=".867" stop-color="#7fc296"/><stop offset="1" stop-color="#6dbeba"/></linearGradient>
<linearGradient id="b219" gradientUnits="userSpaceOnUse" x1="0" y1="97" x2="0" y2="112"><stop offset="0" stop-color="#bad65f"/><stop offset=".533" stop-color="#b5d463"/><stop offset=".667" stop-color="#a8d06e"/><stop offset=".8" stop-color="#84c38c"/><stop offset="1" stop-color="#6abebd"/></linearGradient>
<linearGradient id="b220" gradientUnits="userSpaceOnUse" x1="0" y1="97" x2="0" y2="112"><stop offset="0" stop-color="#a4ce72"/><stop offset=".533" stop-color="#9fcc76"/><stop offset=".667" stop-color="#93c880"/><stop offset=".933" stop-color="#6ebeb8"/><stop offset="1" stop-color="#66bec4"/></linearGradient>
<linearGradient id="b221" gradientUnits="userSpaceOnUse" x1="0" y1="97" x2="0" y2="112"><stop offset="0" stop-color="#8fc783"/><stop offset=".533" stop-color="#8ac587"/><stop offset=".733" stop-color="#7ec298"/><stop offset="1" stop-color="#62becd"/></linearGradient>
<linearGradient id="b222" gradientUnits="userSpaceOnUse" x1="0" y1="97" x2="0" y2="112"><stop offset="0" stop-color="#81c292"/><stop offset=".6" stop-color="#7ec297"/><stop offset=".8" stop-color="#73bfaf"/><stop offset="1" stop-color="#5dbed5"/></linearGradient>
<linearGradient id="b223" gradientUnits="userSpaceOnUse" x1="0" y1="97" x2="0" y2="112"><stop offset="0" stop-color="#7bc19e"/><stop offset=".6" stop-color="#78c0a3"/><stop offset=".8" stop-color="#6dbeb9"/><stop offset=".933" stop-color="#5ebed3"/><stop offset="1" stop-color="#45bcdf"/></linearGradient>
<linearGradient id="b224" gradientUnits="userSpaceOnUse" x1="0" y1="97" x2="0" y2="112"><stop offset="0" stop-color="#75bfaa"/><stop offset=".6" stop-color="#72bfaf"/><stop offset=".8" stop-color="#67bec4"/><stop offset=".867" stop-color="#60bed0"/><stop offset=".933" stop-color="#49bdde"/><stop offset="1" stop-color="#2abaea"/></linearGradient>
<linearGradient id="b225" gradientUnits="userSpaceOnUse" x1="0" y1="97" x2="0" y2="112"><stop offset="0" stop-color="#6fbeb6"/><stop offset=".6" stop-color="#6cbebb"/><stop offset=".8" stop-color="#61bece"/><stop offset=".867" stop-color="#50bddb"/><stop offset=".933" stop-color="#2cbae9"/><stop offset="1" stop-color="#2a9ad7"/></linearGradient>
<linearGradient id="b226" gradientUnits="userSpaceOnUse" x1="0" y1="98" x2="0" y2="112"><stop offset="0" stop-color="#68bec2"/><stop offset=".571" stop-color="#65bec7"/><stop offset=".714" stop-color="#5fbed0"/><stop offset=".786" stop-color="#53bdda"/><stop offset=".857" stop-color="#31bbe7"/><stop offset=".929" stop-color="#2a9bd7"/><stop offset="1" stop-color="#2f75be"/></linearGradient>
<linearGradient id="b227" gradientUnits="userSpaceOnUse" x1="0" y1="98" x2="0" y2="112"><stop offset="0" stop-color="#61bece"/><stop offset=".643" stop-color="#5cbed5"/><stop offset=".714" stop-color="#4cbddc"/><stop offset=".786" stop-color="#32bbe7"/><stop offset=".857" stop-color="#2a9fda"/><stop offset=".929" stop-color="#3074bc"/><stop offset="1" stop-color="#2e6bb6"/></linearGradient>
<linearGradient id="b228" gradientUnits="userSpaceOnUse" x1="0" y1="98" x2="0" y2="112"><stop offset="0" stop-color="#50bddb"/><stop offset=".5" stop-color="#4abdde"/><stop offset=".643" stop-color="#3abbe4"/><stop offset=".714" stop-color="#29baeb"/><stop offset=".786" stop-color="#2a9ed9"/><stop offset=".857" stop-color="#2f75bd"/><stop offset="1" stop-color="#2d65b2"/></linearGradient>
<linearGradient id="b229" gradientUnits="userSpaceOnUse" x1="0" y1="98" x2="0" y2="112"><stop offset="0" stop-color="#34bbe6"/><stop offset=".5" stop-color="#2ebbe9"/><stop offset=".571" stop-color="#29baeb"/><stop offset=".643" stop-color="#27b1e6"/><stop offset=".714" stop-color="#2a9cd8"/><stop offset=".786" stop-color="#2e7cc2"/><stop offset=".857" stop-color="#2f6cb7"/><stop offset="1" stop-color="#2b61af"/></linearGradient>
<linearGradient id="b230" gradientUnits="userSpaceOnUse" x1="0" y1="98" x2="0" y2="112"><stop offset="0" stop-color="#27b6e9"/><stop offset=".5" stop-color="#28aee4"/><stop offset=".643" stop-color="#2a9ad7"/><stop offset=".786" stop-color="#306fb9"/><stop offset="1" stop-color="#2b5fad"/></linearGradient>
<linearGradient id="b231" gradientUnits="userSpaceOnUse" x1="0" y1="98" x2="0" y2="112"><stop offset="0" stop-color="#2a9ed9"/><stop offset=".5" stop-color="#2b97d4"/><stop offset=".643" stop-color="#2d84c7"/><stop offset=".714" stop-color="#3070ba"/><stop offset="1" stop-color="#2a5cab"/></linearGradient>
<linearGradient id="b232" gradientUnits="userSpaceOnUse" x1="0" y1="98" x2="0" y2="112"><stop offset="0" stop-color="#2d86c9"/><stop offset=".5" stop-color="#2e7fc4"/><stop offset=".714" stop-color="#2f6db7"/><stop offset="1" stop-color="#2959a9"/></linearGradient>
<linearGradient id="b233" gradientUnits="userSpaceOnUse" x1="0" y1="98" x2="0" y2="112"><stop offset="0" stop-color="#3070ba"/><stop offset=".714" stop-color="#2e69b5"/><stop offset="1" stop-color="#2857a6"/></linearGradient>
<linearGradient id="b234" gradientUnits="userSpaceOnUse" x1="0" y1="99" x2="0" y2="112"><stop offset="0" stop-color="#2f6cb7"/><stop offset=".692" stop-color="#2d66b2"/><stop offset="1" stop-color="#2755a5"/></linearGradient>
<linearGradient id="b235" gradientUnits="userSpaceOnUse" x1="0" y1="99" x2="0" y2="112"><stop offset="0" stop-color="#2e68b4"/><stop offset=".692" stop-color="#2c62b0"/><stop offset="1" stop-color="#2754a5"/></linearGradient>
<linearGradient id="b236" gradientUnits="userSpaceOnUse" x1="0" y1="99" x2="0" y2="112"><stop offset="0" stop-color="#2d65b1"/><stop offset=".692" stop-color="#2b5fad"/><stop offset="1" stop-color="#2652a4"/></linearGradient>
<linearGradient id="b237" gradientUnits="userSpaceOnUse" x1="0" y1="99" x2="0" y2="112"><stop offset="0" stop-color="#2c63b0"/><stop offset=".692" stop-color="#2a5dab"/><stop offset="1" stop-color="#2651a4"/></linearGradient>
<linearGradient id="b238" gradientUnits="userSpaceOnUse" x1="0" y1="99" x2="0" y2="112"><stop offset="0" stop-color="#2c62af"/><stop offset=".692" stop-color="#2a5cab"/><stop offset="1" stop-color="#2651a4"/></linearGradient>
<linearGradient id="b239" gradientUnits="userSpaceOnUse" x1="0" y1="99" x2="0" y2="112"><stop offset="0" stop-color="#2b60ae"/><stop offset=".692" stop-color="#295baa"/><stop offset="1" stop-color="#2551a3"/></linearGradient>
<linearGradient id="b240" gradientUnits="userSpaceOnUse" x1="0" y1="99" x2="0" y2="112"><stop offset="0" stop-color="#2b5eac"/><stop offset=".692" stop-color="#2959a8"/><stop offset="1" stop-color="#2550a3"/></linearGradient>
<linearGradient id="b241" gradientUnits="userSpaceOnUse" x1="0" y1="100" x2="0" y2="112"><stop offset="0" stop-color="#2a5cab"/><stop offset=".75" stop-color="#2755a5"/><stop offset="1" stop-color="#254fa3"/></linearGradient>
<linearGradient id="b242" gradientUnits="userSpaceOnUse" x1="0" y1="100" x2="0" y2="112"><stop offset="0" stop-color="#295aa9"/><stop offset=".833" stop-color="#2652a4"/><stop offset="1" stop-color="#244ea2"/></linearGradient>
<linearGradient id="b243" gradientUnits="userSpaceOnUse" x1="0" y1="100" x2="0" y2="112"><stop offset="0" stop-color="#2958a8"/><stop offset="1" stop-color="#244ea2"/></linearGradient>
<linearGradient id="b244" gradientUnits="userSpaceOnUse" x1="0" y1="100" x2="0" y2="112"><stop offset="0" stop-color="#2857a6"/><stop offset="1" stop-color="#234da1"/></linearGradient>
<linearGradient id="b245" gradientUnits="userSpaceOnUse" x1="0" y1="101" x2="0" y2="112"><stop offset="0" stop-color="#2855a6"/><stop offset="1" stop-color="#234ca1"/></linearGradient>
<linearGradient id="b246" gradientUnits="userSpaceOnUse" x1="0" y1="101" x2="0" y2="112"><stop offset="0" stop-color="#2754a5"/><stop offset="1" stop-color="#234ca1"/></linearGradient>
<linearGradient id="b247" gradientUnits="userSpaceOnUse" x1="0" y1="101" x2="0" y2="112"><stop offset="0" stop-color="#2653a4"/><stop offset="1" stop-color="#224aa0"/></linearGradient>
<linearGradient id="b248" gradientUnits="userSpaceOnUse" x1="0" y1="101" x2="0" y2="112"><stop offset="0" stop-color="#2651a4"/><stop offset="1" stop-color="#2249a0"/></linearGradient>
<linearGradient id="b249" gradientUnits="userSpaceOnUse" x1="0" y1="102" x2="0" y2="112"><stop offset="0" stop-color="#2550a3"/><stop offset="1" stop-color="#21489f"/></linearGradient>
<linearGradient id="b250" gradientUnits="userSpaceOnUse" x1="0" y1="102" x2="0" y2="112"><stop offset="0" stop-color="#244ea2"/><stop offset="1" stop-color="#21479f"/></linearGradient>
<linearGradient id="b251" gradientUnits="userSpaceOnUse" x1="0" y1="102" x2="0" y2="112"><stop offset="0" stop-color="#234da1"/><stop offset="1" stop-color="#20469e"/></linearGradient>
<linearGradient id="b252" gradientUnits="userSpaceOnUse" x1="0" y1="102" x2="0" y2="112"><stop offset="0" stop-color="#224ba0"/><stop offset="1" stop-color="#1f459d"/></linearGradient>
<linearGradient id="b253" gradientUnits="userSpaceOnUse" x1="0" y1="103" x2="0" y2="112"><stop offset="0" stop-color="#2249a0"/><stop offset="1" stop-color="#1f449d"/></linearGradient>
<linearGradient id="b254" gradientUnits="userSpaceOnUse" x1="0" y1="103" x2="0" y2="112"><stop offset="0" stop-color="#21489f"/><stop offset="1" stop-color="#1e439c"/></linearGradient>
<linearGradient id="b255" gradientUnits="userSpaceOnUse" x1="0" y1="103" x2="0" y2="112"><stop offset="0" stop-color="#20479e"/><stop offset="1" stop-color="#1e429b"/></linearGradient>
<linearGradient id="b256" gradientUnits="userSpaceOnUse" x1="0" y1="103" x2="0" y2="112"><stop offset="0" stop-color="#20459e"/><stop offset="1" stop-color="#1f409a"/></linearGradient>
<linearGradient id="b257" gradientUnits="userSpaceOnUse" x1="0" y1="104" x2="0" y2="112"><stop offset="0" stop-color="#1f449d"/><stop offset="1" stop-color="#1f3f98"/></linearGradient>
<linearGradient id="b258" gradientUnits="userSpaceOnUse" x1="0" y1="104" x2="0" y2="112"><stop offset="0" stop-color="#1e439c"/><stop offset="1" stop-color="#203e96"/></linearGradient>
<linearGradient id="b259" gradientUnits="userSpaceOnUse" x1="0" y1="104" x2="0" y2="112"><stop offset="0" stop-color="#1e419b"/><stop offset="1" stop-color="#213c94"/></linearGradient>
<linearGradient id="b260" gradientUnits="userSpaceOnUse" x1="0" y1="104" x2="0" y2="112"><stop offset="0" stop-color="#1f3f98"/><stop offset="1" stop-color="#213b92"/></linearGradient>
<linearGradient id="b261" gradientUnits="userSpaceOnUse" x1="0" y1="105" x2="0" y2="112"><stop offset="0" stop-color="#203d95"/><stop offset="1" stop-color="#223a90"/></linearGradient>
<linearGradient id="b262" gradientUnits="userSpaceOnUse" x1="0" y1="105" x2="0" y2="112"><stop offset="0" stop-color="#203d94"/><stop offset="1" stop-color="#22398f"/></linearGradient>
<linearGradient id="b263" gradientUnits="userSpaceOnUse" x1="0" y1="105" x2="0" y2="112"><stop offset="0" stop-color="#213c93"/><stop offset="1" stop-color="#22398e"/></linearGradient>
<linearGradient id="b264" gradientUnits="userSpaceOnUse" x1="0" y1="105" x2="0" y2="112"><stop offset="0" stop-color="#213b92"/><stop offset="1" stop-color="#23388e"/></linearGradient>
<linearGradient id="b265" gradientUnits="userSpaceOnUse" x1="0" y1="106" x2="0" y2="112"><stop offset="0" stop-color="#223a90"/><stop offset="1" stop-color="#23378d"/></linearGradient>
<linearGradient id="b266" gradientUnits="userSpaceOnUse" x1="0" y1="106" x2="0" y2="112"><stop offset="0" stop-color="#22398f"/><stop offset="1" stop-color="#24378b"/></linearGradient>
<linearGradient id="b267" gradientUnits="userSpaceOnUse" x1="0" y1="106" x2="0" y2="112"><stop offset="0" stop-color="#22388e"/><stop offset="1" stop-color="#253787"/></linearGradient>
<linearGradient id="b268" gradientUnits="userSpaceOnUse" x1="0" y1="106" x2="0" y2="112"><stop offset="0" stop-color="#23378c"/><stop offset="1" stop-color="#273783"/></linearGradient>
<linearGradient id="b269" gradientUnits="userSpaceOnUse" x1="0" y1="107" x2="0" y2="112"><stop offset="0" stop-color="#243789"/><stop offset="1" stop-color="#293780"/></linearGradient>
<linearGradient id="b270" gradientUnits="userSpaceOnUse" x1="0" y1="107" x2="0" y2="112"><stop offset="0" stop-color="#263786"/><stop offset="1" stop-color="#2a377e"/></linearGradient>
<linearGradient id="b271" gradientUnits="userSpaceOnUse" x1="0" y1="107" x2="0" y2="112"><stop offset="0" stop-color="#273783"/><stop offset="1" stop-color="#2b377c"/></linearGradient>
<linearGradient id="b272" gradientUnits="userSpaceOnUse" x1="0" y1="107" x2="0" y2="112"><stop offset="0" stop-color="#293780"/><stop offset="1" stop-color="#2c377a"/></linearGradient>
<linearGradient id="b273" gradientUnits="userSpaceOnUse" x1="0" y1="108" x2="0" y2="112"><stop offset="0" stop-color="#2a377d"/><stop offset="1" stop-color="#2d3678"/></linearGradient>
<linearGradient id="b274" gradientUnits="userSpaceOnUse" x1="0" y1="108" x2="0" y2="112"><stop offset="0" stop-color="#2c377a"/><stop offset="1" stop-color="#2e3675"/></linearGradient>
<linearGradient id="b275" gradientUnits="userSpaceOnUse" x1="0" y1="108" x2="0" y2="112"><stop offset="0" stop-color="#2d3677"/><stop offset="1" stop-color="#2f3673"/></linearGradient>
<linearGradient id="b276" gradientUnits="userSpaceOnUse" x1="0" y1="108" x2="0" y2="112"><stop offset="0" stop-color="#2e3674"/><stop offset="1" stop-color="#303671"/></linearGradient>
<linearGradient id="b277" gradientUnits="userSpaceOnUse" x1="0" y1="108" x2="0" y2="112"><stop offset="0" stop-color="#2f3672"/><stop offset="1" stop-color="#303670"/></linearGradient>
<linearGradient id="c0" gradientUnits="userSpaceOnUse" x1="0" y1="140" x2="0" y2="232"><stop offset="0" stop-color="#8e1d24"/><stop offset=".924" stop-color="#7d1c23"/><stop offset="1" stop-color="#7d1c23"/></linearGradient>
<linearGradient id="c1" gradientUnits="userSpaceOnUse" x1="0" y1="140" x2="0" y2="232"><stop offset="0" stop-color="#8f1e24"/><stop offset=".902" stop-color="#7d1c23"/><stop offset="1" stop-color="#7d1c23"/></linearGradient>
<linearGradient id="c2" gradientUnits="userSpaceOnUse" x1="0" y1="140" x2="0" y2="232"><stop offset="0" stop-color="#901e24"/><stop offset=".88" stop-color="#7d1c23"/><stop offset="1" stop-color="#7d1c23"/></linearGradient>
<linearGradient id="c3" gradientUnits="userSpaceOnUse" x1="0" y1="140" x2="0" y2="232"><stop offset="0" stop-color="#911e24"/><stop offset=".859" stop-color="#7d1c23"/><stop offset="1" stop-color="#7d1c23"/></linearGradient>
<linearGradient id="c4" gradientUnits="userSpaceOnUse" x1="0" y1="140" x2="0" y2="232"><stop offset="0" stop-color="#921e24"/><stop offset=".848" stop-color="#7d1c23"/><stop offset="1" stop-color="#7d1c23"/></linearGradient>
<linearGradient id="c5" gradientUnits="userSpaceOnUse" x1="0" y1="140" x2="0" y2="232"><stop offset="0" stop-color="#931e24"/><stop offset=".826" stop-color="#7d1c23"/><stop offset="1" stop-color="#7d1c23"/></linearGradient>
<linearGradient id="c6" gradientUnits="userSpaceOnUse" x1="0" y1="140" x2="0" y2="232"><stop offset="0" stop-color="#941e24"/><stop offset=".815" stop-color="#7d1c23"/><stop offset="1" stop-color="#7d1c23"/></linearGradient>
<linearGradient id="c7" gradientUnits="userSpaceOnUse" x1="0" y1="140" x2="0" y2="232"><stop offset="0" stop-color="#951e24"/><stop offset=".804" stop-color="#7e1c23"/><stop offset="1" stop-color="#7d1c23"/></linearGradient>
<linearGradient id="c8" gradientUnits="userSpaceOnUse" x1="0" y1="141" x2="0" y2="232"><stop offset="0" stop-color="#961e24"/><stop offset=".78" stop-color="#7e1c23"/><stop offset="1" stop-color="#7d1c23"/></linearGradient>
<linearGradient id="c9" gradientUnits="userSpaceOnUse" x1="0" y1="141" x2="0" y2="232"><stop offset="0" stop-color="#981e24"/><stop offset=".769" stop-color="#7e1c23"/><stop offset="1" stop-color="#7d1c23"/></linearGradient>
<linearGradient id="c10" gradientUnits="userSpaceOnUse" x1="0" y1="141" x2="0" y2="232"><stop offset="0" stop-color="#991e24"/><stop offset=".758" stop-color="#7e1c23"/><stop offset="1" stop-color="#7d1c23"/></linearGradient>
<linearGradient id="c11" gradientUnits="userSpaceOnUse" x1="0" y1="141" x2="0" y2="232"><stop offset="0" stop-color="#9b1f24"/><stop offset=".758" stop-color="#7e1c23"/><stop offset="1" stop-color="#7d1c23"/></linearGradient>
<linearGradient id="c12" gradientUnits="userSpaceOnUse" x1="0" y1="141" x2="0" y2="232"><stop offset="0" stop-color="#9c1f24"/><stop offset=".407" stop-color="#891d23"/><stop offset=".945" stop-color="#7d1c23"/><stop offset="1" stop-color="#7d1c23"/></linearGradient>
<linearGradient id="c13" gradientUnits="userSpaceOnUse" x1="0" y1="142" x2="0" y2="232"><stop offset="0" stop-color="#9e1f24"/><stop offset=".422" stop-color="#881d23"/><stop offset=".967" stop-color="#7d1c23"/><stop offset="1" stop-color="#7d1c23"/></linearGradient>
<linearGradient id="c14" gradientUnits="userSpaceOnUse" x1="0" y1="142" x2="0" y2="232"><stop offset="0" stop-color="#9f1f24"/><stop offset=".356" stop-color="#8e1d24"/><stop offset=".811" stop-color="#7e1c23"/><stop offset="1" stop-color="#7d1c23"/></linearGradient>
<linearGradient id="c15" gradientUnits="userSpaceOnUse" x1="0" y1="142" x2="0" y2="232"><stop offset="0" stop-color="#a11f24"/><stop offset=".333" stop-color="#901e24"/><stop offset=".756" stop-color="#7e1c23"/><stop offset="1" stop-color="#7d1c23"/></linearGradient>
<linearGradient id="c16" gradientUnits="userSpaceOnUse" x1="0" y1="143" x2="0" y2="232"><stop offset="0" stop-color="#a31f24"/><stop offset=".326" stop-color="#911e24"/><stop offset=".742" stop-color="#7f1c23"/><stop offset="1" stop-color="#7d1c23"/></linearGradient>
<linearGradient id="c17" gradientUnits="userSpaceOnUse" x1="0" y1="143" x2="0" y2="232"><stop offset="0" stop-color="#a41f24"/><stop offset=".303" stop-color="#951e24"/><stop offset=".708" stop-color="#7f1c23"/><stop offset="1" stop-color="#7d1c23"/></linearGradient>
<linearGradient id="c18" gradientUnits="userSpaceOnUse" x1="0" y1="144" x2="0" y2="232"><stop offset="0" stop-color="#a62024"/><stop offset=".307" stop-color="#951e24"/><stop offset=".705" stop-color="#7f1c23"/><stop offset="1" stop-color="#7d1c23"/></linearGradient>
<linearGradient id="c19" gradientUnits="userSpaceOnUse" x1="0" y1="144" x2="0" y2="232"><stop offset="0" stop-color="#a82024"/><stop offset=".284" stop-color="#991e24"/><stop offset=".682" stop-color="#801c23"/><stop offset="1" stop-color="#7d1c23"/></linearGradient>
<linearGradient id="c20" gradientUnits="userSpaceOnUse" x1="0" y1="145" x2="0" y2="232"><stop offset="0" stop-color="#aa2024"/><stop offset=".276" stop-color="#9b1f24"/><stop offset=".667" stop-color="#811c23"/><stop offset="1" stop-color="#7d1c23"/></linearGradient>
<linearGradient id="c21" gradientUnits="userSpaceOnUse" x1="0" y1="145" x2="0" y2="232"><stop offset="0" stop-color="#ac2025"/><stop offset=".264" stop-color="#9e1f24"/><stop offset=".655" stop-color="#811c23"/><stop offset="1" stop-color="#7d1c23"/></linearGradient>
<linearGradient id="c22" gradientUnits="userSpaceOnUse" x1="0" y1="146" x2="0" y2="232"><stop offset="0" stop-color="#af2025"/><stop offset=".256" stop-color="#a01f24"/><stop offset=".64" stop-color="#821c23"/><stop offset="1" stop-color="#7d1c23"/></linearGradient>
<linearGradient id="c23" gradientUnits="userSpaceOnUse" x1="0" y1="146" x2="0" y2="232"><stop offset="0" stop-color="#b12025"/><stop offset=".244" stop-color="#a31f24"/><stop offset=".628" stop-color="#831d23"/><stop offset="1" stop-color="#7d1c23"/></linearGradient>
<linearGradient id="c24" gradientUnits="userSpaceOnUse" x1="0" y1="147" x2="0" y2="232"><stop offset="0" stop-color="#b32125"/><stop offset=".247" stop-color="#a51f24"/><stop offset=".635" stop-color="#831d23"/><stop offset="1" stop-color="#7d1c23"/></linearGradient>
<linearGradient id="c25" gradientUnits="userSpaceOnUse" x1="0" y1="148" x2="0" y2="232"><stop offset="0" stop-color="#b52125"/><stop offset=".238" stop-color="#a72024"/><stop offset=".619" stop-color="#841d23"/><stop offset="1" stop-color="#7d1c23"/></linearGradient>
<linearGradient id="c26" gradientUnits="userSpaceOnUse" x1="0" y1="148" x2="0" y2="232"><stop offset="0" stop-color="#b82125"/><stop offset=".226" stop-color="#ab2024"/><stop offset=".619" stop-color="#851d23"/><stop offset="1" stop-color="#7d1c23"/></linearGradient>
<linearGradient id="c27" gradientUnits="userSpaceOnUse" x1="0" y1="149" x2="0" y2="232"><stop offset="0" stop-color="#ba2125"/><stop offset=".229" stop-color="#ad2025"/><stop offset=".614" stop-color="#861d23"/><stop offset="1" stop-color="#7d1c23"/></linearGradient>
<linearGradient id="c28" gradientUnits="userSpaceOnUse" x1="0" y1="150" x2="0" y2="232"><stop offset="0" stop-color="#bd2225"/><stop offset=".22" stop-color="#b02025"/><stop offset=".61" stop-color="#871d23"/><stop offset="1" stop-color="#7d1c23"/></linearGradient>
<linearGradient id="c29" gradientUnits="userSpaceOnUse" x1="0" y1="151" x2="0" y2="232"><stop offset="0" stop-color="#c02225"/><stop offset=".222" stop-color="#b22125"/><stop offset=".617" stop-color="#871d23"/><stop offset="1" stop-color="#7d1c23"/></linearGradient>
<linearGradient id="c30" gradientUnits="userSpaceOnUse" x1="0" y1="152" x2="0" y2="232"><stop offset="0" stop-color="#c22225"/><stop offset=".212" stop-color="#b62125"/><stop offset=".613" stop-color="#881d23"/><stop offset="1" stop-color="#7d1c23"/></linearGradient>
<linearGradient id="c31" gradientUnits="userSpaceOnUse" x1="0" y1="153" x2="0" y2="232"><stop offset="0" stop-color="#c52225"/><stop offset=".215" stop-color="#b82125"/><stop offset=".608" stop-color="#891d23"/><stop offset="1" stop-color="#7d1c23"/></linearGradient>
<linearGradient id="c32" gradientUnits="userSpaceOnUse" x1="0" y1="154" x2="0" y2="232"><stop offset="0" stop-color="#c82225"/><stop offset=".205" stop-color="#bc2125"/><stop offset=".615" stop-color="#8a1d23"/><stop offset="1" stop-color="#7d1c23"/></linearGradient>
<linearGradient id="c33" gradientUnits="userSpaceOnUse" x1="0" y1="155" x2="0" y2="232"><stop offset="0" stop-color="#cb2326"/><stop offset=".208" stop-color="#be2225"/><stop offset=".61" stop-color="#8b1d23"/><stop offset="1" stop-color="#7d1c23"/></linearGradient>
<linearGradient id="c34" gradientUnits="userSpaceOnUse" x1="0" y1="156" x2="0" y2="232"><stop offset="0" stop-color="#ce2326"/><stop offset=".211" stop-color="#c02225"/><stop offset=".605" stop-color="#8d1d24"/><stop offset="1" stop-color="#7d1c23"/></linearGradient>
<linearGradient id="c35" gradientUnits="userSpaceOnUse" x1="0" y1="157" x2="0" y2="232"><stop offset="0" stop-color="#d12326"/><stop offset=".2" stop-color="#c52225"/><stop offset=".613" stop-color="#8d1d24"/><stop offset="1" stop-color="#7d1c23"/></linearGradient>
<linearGradient id="c36" gradientUnits="userSpaceOnUse" x1="0" y1="158" x2="0" y2="232"><stop offset="0" stop-color="#d52426"/><stop offset=".203" stop-color="#c72225"/><stop offset=".622" stop-color="#8e1d24"/><stop offset="1" stop-color="#7d1c23"/></linearGradient>
<linearGradient id="c37" gradientUnits="userSpaceOnUse" x1="0" y1="159" x2="0" y2="232"><stop offset="0" stop-color="#d82426"/><stop offset=".192" stop-color="#cc2326"/><stop offset=".616" stop-color="#8f1e24"/><stop offset="1" stop-color="#7d1c23"/></linearGradient>
<linearGradient id="c38" gradientUnits="userSpaceOnUse" x1="0" y1="160" x2="0" y2="232"><stop offset="0" stop-color="#db2426"/><stop offset=".181" stop-color="#d12326"/><stop offset=".625" stop-color="#901e24"/><stop offset="1" stop-color="#7d1c23"/></linearGradient>
<linearGradient id="c39" gradientUnits="userSpaceOnUse" x1="0" y1="161" x2="0" y2="232"><stop offset="0" stop-color="#dc2526"/><stop offset=".183" stop-color="#d42326"/><stop offset=".62" stop-color="#921e24"/><stop offset="1" stop-color="#7d1c23"/></linearGradient>
<linearGradient id="c40" gradientUnits="userSpaceOnUse" x1="0" y1="162" x2="0" y2="232"><stop offset="0" stop-color="#dd2727"/><stop offset=".2" stop-color="#d52426"/><stop offset=".629" stop-color="#931e24"/><stop offset="1" stop-color="#7d1c23"/></linearGradient>
<linearGradient id="c41" gradientUnits="userSpaceOnUse" x1="0" y1="163" x2="0" y2="232"><stop offset="0" stop-color="#de2827"/><stop offset=".217" stop-color="#d72426"/><stop offset=".623" stop-color="#951e24"/><stop offset="1" stop-color="#7d1c23"/></linearGradient>
<linearGradient id="c42" gradientUnits="userSpaceOnUse" x1="0" y1="164" x2="0" y2="232"><stop offset="0" stop-color="#e02927"/><stop offset=".25" stop-color="#d52426"/><stop offset=".632" stop-color="#961e24"/><stop offset="1" stop-color="#7d1c23"/></linearGradient>
<linearGradient id="c43" gradientUnits="userSpaceOnUse" x1="0" y1="165" x2="0" y2="232"><stop offset="0" stop-color="#e12a27"/><stop offset=".269" stop-color="#d62426"/><stop offset=".642" stop-color="#971e24"/><stop offset="1" stop-color="#7d1c23"/></linearGradient>
<linearGradient id="c44" gradientUnits="userSpaceOnUse" x1="0" y1="166" x2="0" y2="232"><stop offset="0" stop-color="#e32b27"/><stop offset=".273" stop-color="#d92426"/><stop offset=".636" stop-color="#991e24"/><stop offset="1" stop-color="#7d1c23"/></linearGradient>
<linearGradient id="c45" gradientUnits="userSpaceOnUse" x1="0" y1="167" x2="0" y2="232"><stop offset="0" stop-color="#e42c28"/><stop offset=".292" stop-color="#d82426"/><stop offset=".646" stop-color="#9a1e24"/><stop offset="1" stop-color="#7d1c23"/></linearGradient>
<linearGradient id="c46" gradientUnits="userSpaceOnUse" x1="0" y1="167" x2="0" y2="232"><stop offset="0" stop-color="#e52d28"/><stop offset=".308" stop-color="#d82426"/><stop offset=".646" stop-color="#9b1f24"/><stop offset="1" stop-color="#7d1c23"/></linearGradient>
<linearGradient id="c47" gradientUnits="userSpaceOnUse" x1="0" y1="168" x2="0" y2="232"><stop offset="0" stop-color="#e62e28"/><stop offset=".312" stop-color="#d82426"/><stop offset=".656" stop-color="#9b1f24"/><stop offset="1" stop-color="#7d1c23"/></linearGradient>
<linearGradient id="c48" gradientUnits="userSpaceOnUse" x1="0" y1="169" x2="0" y2="232"><stop offset="0" stop-color="#e63028"/><stop offset=".302" stop-color="#da2426"/><stop offset=".651" stop-color="#9c1f24"/><stop offset="1" stop-color="#7d1c23"/></linearGradient>
<linearGradient id="c49" gradientUnits="userSpaceOnUse" x1="0" y1="169" x2="0" y2="232"><stop offset="0" stop-color="#e73329"/><stop offset=".302" stop-color="#db2526"/><stop offset=".683" stop-color="#991e24"/><stop offset="1" stop-color="#7d1c23"/></linearGradient>
<linearGradient id="c50" gradientUnits="userSpaceOnUse" x1="0" y1="170" x2="0" y2="232"><stop offset="0" stop-color="#e73629"/><stop offset=".29" stop-color="#dd2626"/><stop offset=".71" stop-color="#971e24"/><stop offset="1" stop-color="#7d1c23"/></linearGradient>
<linearGradient id="c51" gradientUnits="userSpaceOnUse" x1="0" y1="170" x2="0" y2="232"><stop offset="0" stop-color="#e73929"/><stop offset=".274" stop-color="#df2827"/><stop offset=".387" stop-color="#d02326"/><stop offset=".694" stop-color="#9a1f24"/><stop offset="1" stop-color="#7d1c23"/></linearGradient>
<linearGradient id="c52" gradientUnits="userSpaceOnUse" x1="0" y1="171" x2="0" y2="232"><stop offset="0" stop-color="#e83c2a"/><stop offset=".164" stop-color="#e63028"/><stop offset=".361" stop-color="#d72426"/><stop offset=".672" stop-color="#9e1f24"/><stop offset="1" stop-color="#7d1c23"/></linearGradient>
<linearGradient id="c53" gradientUnits="userSpaceOnUse" x1="0" y1="171" x2="0" y2="232"><stop offset="0" stop-color="#e83f2a"/><stop offset=".148" stop-color="#e73629"/><stop offset=".344" stop-color="#db2526"/><stop offset=".705" stop-color="#9b1f24"/><stop offset="1" stop-color="#7d1c23"/></linearGradient>
<linearGradient id="c54" gradientUnits="userSpaceOnUse" x1="0" y1="172" x2="0" y2="232"><stop offset="0" stop-color="#e8432a"/><stop offset=".15" stop-color="#e73829"/><stop offset=".317" stop-color="#de2727"/><stop offset=".417" stop-color="#cf2326"/><stop offset=".717" stop-color="#9a1f24"/><stop offset="1" stop-color="#7d1c23"/></linearGradient>
<linearGradient id="c55" gradientUnits="userSpaceOnUse" x1="0" y1="172" x2="0" y2="232"><stop offset="0" stop-color="#e9462b"/><stop offset=".15" stop-color="#e83d2a"/><stop offset=".283" stop-color="#e22a27"/><stop offset=".417" stop-color="#d22326"/><stop offset=".717" stop-color="#9c1f24"/><stop offset="1" stop-color="#7d1c23"/></linearGradient>
<linearGradient id="c56" gradientUnits="userSpaceOnUse" x1="0" y1="173" x2="0" y2="232"><stop offset="0" stop-color="#e94a2b"/><stop offset=".153" stop-color="#e83f2a"/><stop offset=".271" stop-color="#e32c28"/><stop offset=".424" stop-color="#d12326"/><stop offset=".729" stop-color="#9b1f24"/><stop offset="1" stop-color="#7d1c23"/></linearGradient>
<linearGradient id="c57" gradientUnits="userSpaceOnUse" x1="0" y1="173" x2="0" y2="232"><stop offset="0" stop-color="#ea4e2c"/><stop offset=".136" stop-color="#e9462b"/><stop offset=".288" stop-color="#e32c28"/><stop offset=".424" stop-color="#d42326"/><stop offset=".729" stop-color="#9c1f24"/><stop offset="1" stop-color="#7d1c23"/></linearGradient>
<linearGradient id="c58" gradientUnits="userSpaceOnUse" x1="0" y1="174" x2="0" y2="232"><stop offset="0" stop-color="#ea532c"/><stop offset=".138" stop-color="#e9492b"/><stop offset=".293" stop-color="#e32c28"/><stop offset=".431" stop-color="#d32326"/><stop offset=".724" stop-color="#9e1f24"/><stop offset="1" stop-color="#7d1c23"/></linearGradient>
<linearGradient id="c59" gradientUnits="userSpaceOnUse" x1="0" y1="174" x2="0" y2="232"><stop offset="0" stop-color="#eb572d"/><stop offset=".138" stop-color="#ea4e2c"/><stop offset=".293" stop-color="#e52d28"/><stop offset=".448" stop-color="#d22326"/><stop offset=".741" stop-color="#9d1f24"/><stop offset="1" stop-color="#7d1c23"/></linearGradient>
<linearGradient id="c60" gradientUnits="userSpaceOnUse" x1="0" y1="175" x2="0" y2="232"><stop offset="0" stop-color="#eb5c2d"/><stop offset=".123" stop-color="#ea542c"/><stop offset=".298" stop-color="#e52d28"/><stop offset=".439" stop-color="#d62426"/><stop offset=".737" stop-color="#9e1f24"/><stop offset="1" stop-color="#7d1c23"/></linearGradient>
<linearGradient id="c61" gradientUnits="userSpaceOnUse" x1="0" y1="175" x2="0" y2="232"><stop offset="0" stop-color="#ec612e"/><stop offset=".123" stop-color="#eb5a2d"/><stop offset=".316" stop-color="#e52d28"/><stop offset=".456" stop-color="#d52426"/><stop offset=".754" stop-color="#9d1f24"/><stop offset="1" stop-color="#7d1c23"/></linearGradient>
<linearGradient id="c62" gradientUnits="userSpaceOnUse" x1="0" y1="176" x2="0" y2="232"><stop offset="0" stop-color="#ed672f"/><stop offset=".125" stop-color="#eb5d2d"/><stop offset=".321" stop-color="#e42d28"/><stop offset=".464" stop-color="#d42326"/><stop offset=".75" stop-color="#9f1f24"/><stop offset="1" stop-color="#7d1c23"/></linearGradient>
<linearGradient id="c63" gradientUnits="userSpaceOnUse" x1="0" y1="176" x2="0" y2="232"><stop offset="0" stop-color="#ed6c2f"/><stop offset=".125" stop-color="#ec642e"/><stop offset=".339" stop-color="#e42d28"/><stop offset=".482" stop-color="#d32326"/><stop offset=".768" stop-color="#9e1f24"/><stop offset="1" stop-color="#7d1c23"/></linearGradient>
<linearGradient id="c64" gradientUnits="userSpaceOnUse" x1="0" y1="177" x2="0" y2="232"><stop offset="0" stop-color="#ee7230"/><stop offset=".127" stop-color="#ed672f"/><stop offset=".345" stop-color="#e42c28"/><stop offset=".473" stop-color="#d62426"/><stop offset=".764" stop-color="#9f1f24"/><stop offset="1" stop-color="#7d1c23"/></linearGradient>
<linearGradient id="c65" gradientUnits="userSpaceOnUse" x1="0" y1="177" x2="0" y2="232"><stop offset="0" stop-color="#ef7931"/><stop offset=".127" stop-color="#ee6f30"/><stop offset=".364" stop-color="#e42c28"/><stop offset=".491" stop-color="#d52426"/><stop offset=".782" stop-color="#9e1f24"/><stop offset="1" stop-color="#7d1c23"/></linearGradient>
<linearGradient id="c66" gradientUnits="userSpaceOnUse" x1="0" y1="177" x2="0" y2="232"><stop offset="0" stop-color="#ef7f31"/><stop offset=".127" stop-color="#ee7730"/><stop offset=".364" stop-color="#e62e28"/><stop offset=".509" stop-color="#d32326"/><stop offset=".8" stop-color="#9d1f24"/><stop offset="1" stop-color="#7d1c23"/></linearGradient>
<linearGradient id="c67" gradientUnits="userSpaceOnUse" x1="0" y1="178" x2="0" y2="232"><stop offset="0" stop-color="#f08633"/><stop offset=".111" stop-color="#ef7f31"/><stop offset=".296" stop-color="#e9452b"/><stop offset=".389" stop-color="#e32c28"/><stop offset=".519" stop-color="#d22326"/><stop offset=".815" stop-color="#9c1f24"/><stop offset="1" stop-color="#7d1c23"/></linearGradient>
<linearGradient id="c68" gradientUnits="userSpaceOnUse" x1="0" y1="178" x2="0" y2="232"><stop offset="0" stop-color="#f18c34"/><stop offset=".13" stop-color="#f08432"/><stop offset=".389" stop-color="#e52d28"/><stop offset=".519" stop-color="#d52426"/><stop offset=".815" stop-color="#9d1f24"/><stop offset="1" stop-color="#7d1c23"/></linearGradient>
<linearGradient id="c69" gradientUnits="userSpaceOnUse" x1="0" y1="179" x2="0" y2="232"><stop offset="0" stop-color="#f29236"/><stop offset=".132" stop-color="#f18833"/><stop offset=".396" stop-color="#e52d28"/><stop offset=".528" stop-color="#d42326"/><stop offset=".83" stop-color="#9c1f24"/><stop offset="1" stop-color="#7d1c23"/></linearGradient>
<linearGradient id="c70" gradientUnits="userSpaceOnUse" x1="0" y1="179" x2="0" y2="232"><stop offset="0" stop-color="#f39838"/><stop offset=".132" stop-color="#f28f35"/><stop offset=".245" stop-color="#ed6b2f"/><stop offset=".396" stop-color="#e62f28"/><stop offset=".547" stop-color="#d32326"/><stop offset=".887" stop-color="#941e24"/><stop offset="1" stop-color="#7d1c23"/></linearGradient>
<linearGradient id="c71" gradientUnits="userSpaceOnUse" x1="0" y1="180" x2="0" y2="232"><stop offset="0" stop-color="#f49f3a"/><stop offset=".115" stop-color="#f39738"/><stop offset=".231" stop-color="#ee7430"/><stop offset=".404" stop-color="#e62e28"/><stop offset=".558" stop-color="#d22326"/><stop offset="1" stop-color="#7d1c23"/></linearGradient>
<linearGradient id="c72" gradientUnits="userSpaceOnUse" x1="0" y1="180" x2="0" y2="232"><stop offset="0" stop-color="#f5a63c"/><stop offset=".115" stop-color="#f49f3a"/><stop offset=".231" stop-color="#ef7e31"/><stop offset=".423" stop-color="#e62e28"/><stop offset=".558" stop-color="#d52426"/><stop offset="1" stop-color="#7d1c23"/></linearGradient>
<linearGradient id="c73" gradientUnits="userSpaceOnUse" x1="0" y1="181" x2="0" y2="232"><stop offset="0" stop-color="#f6ad3e"/><stop offset=".118" stop-color="#f5a43c"/><stop offset=".235" stop-color="#f08032"/><stop offset=".412" stop-color="#e73329"/><stop offset=".569" stop-color="#d42326"/><stop offset="1" stop-color="#7d1c23"/></linearGradient>
<linearGradient id="c74" gradientUnits="userSpaceOnUse" x1="0" y1="181" x2="0" y2="232"><stop offset="0" stop-color="#f7b540"/><stop offset=".118" stop-color="#f6ae3e"/><stop offset=".255" stop-color="#f08232"/><stop offset=".431" stop-color="#e63228"/><stop offset=".588" stop-color="#d22326"/><stop offset="1" stop-color="#7d1c23"/></linearGradient>
<linearGradient id="c75" gradientUnits="userSpaceOnUse" x1="0" y1="182" x2="0" y2="232"><stop offset="0" stop-color="#f8bd42"/><stop offset=".1" stop-color="#f8b741"/><stop offset=".22" stop-color="#f29437"/><stop offset=".44" stop-color="#e63128"/><stop offset=".58" stop-color="#d62426"/><stop offset="1" stop-color="#7d1c23"/></linearGradient>
<linearGradient id="c76" gradientUnits="userSpaceOnUse" x1="0" y1="182" x2="0" y2="232"><stop offset="0" stop-color="#f7c743"/><stop offset=".1" stop-color="#f8c243"/><stop offset=".24" stop-color="#f39537"/><stop offset=".46" stop-color="#e62f28"/><stop offset=".6" stop-color="#d42326"/><stop offset=".98" stop-color="#831d23"/><stop offset="1" stop-color="#7d1c23"/></linearGradient>
<linearGradient id="c77" gradientUnits="userSpaceOnUse" x1="0" y1="183" x2="0" y2="232"><stop offset="0" stop-color="#f7d244"/><stop offset=".102" stop-color="#f7cb43"/><stop offset=".265" stop-color="#f28e35"/><stop offset=".449" stop-color="#e73629"/><stop offset=".51" stop-color="#e12a27"/><stop offset=".633" stop-color="#ce2326"/><stop offset=".98" stop-color="#841d23"/><stop offset="1" stop-color="#7d1c23"/></linearGradient>
<linearGradient id="c78" gradientUnits="userSpaceOnUse" x1="0" y1="183" x2="0" y2="232"><stop offset="0" stop-color="#f6dd45"/><stop offset=".102" stop-color="#f7d845"/><stop offset=".224" stop-color="#f6ab3e"/><stop offset=".449" stop-color="#e83c2a"/><stop offset=".51" stop-color="#e32b27"/><stop offset=".633" stop-color="#d12326"/><stop offset=".98" stop-color="#841d23"/><stop offset="1" stop-color="#7d1c23"/></linearGradient>
<linearGradient id="c79" gradientUnits="userSpaceOnUse" x1="0" y1="184" x2="0" y2="232"><stop offset="0" stop-color="#f5e846"/><stop offset=".083" stop-color="#f6e546"/><stop offset=".167" stop-color="#f7ca43"/><stop offset=".354" stop-color="#ed6e2f"/><stop offset=".479" stop-color="#e73229"/><stop offset=".625" stop-color="#d52426"/><stop offset=".979" stop-color="#841d23"/><stop offset="1" stop-color="#7d1c23"/></linearGradient>
<linearGradient id="c80" gradientUnits="userSpaceOnUse" x1="0" y1="184" x2="0" y2="232"><stop offset="0" stop-color="#e4e34d"/><stop offset=".083" stop-color="#e7e44b"/><stop offset=".125" stop-color="#f4e847"/><stop offset=".208" stop-color="#f8c543"/><stop offset=".438" stop-color="#e94c2b"/><stop offset=".521" stop-color="#e42d28"/><stop offset=".646" stop-color="#d32326"/><stop offset=".979" stop-color="#851d23"/><stop offset="1" stop-color="#7d1c23"/></linearGradient>
<linearGradient id="c81" gradientUnits="userSpaceOnUse" x1="0" y1="185" x2="0" y2="232"><stop offset="0" stop-color="#d3de53"/><stop offset=".085" stop-color="#d8df51"/><stop offset=".149" stop-color="#f4e747"/><stop offset=".277" stop-color="#f5a63c"/><stop offset=".489" stop-color="#e73729"/><stop offset=".553" stop-color="#e12a27"/><stop offset=".66" stop-color="#d12326"/><stop offset=".957" stop-color="#8c1d23"/><stop offset="1" stop-color="#7d1c23"/></linearGradient>
<linearGradient id="c82" gradientUnits="userSpaceOnUse" x1="0" y1="186" x2="0" y2="232"><stop offset="0" stop-color="#c0d85a"/><stop offset=".065" stop-color="#c4d959"/><stop offset=".13" stop-color="#dde14f"/><stop offset=".174" stop-color="#f6e546"/><stop offset=".348" stop-color="#f08532"/><stop offset=".478" stop-color="#e83e2a"/><stop offset=".522" stop-color="#e62e28"/><stop offset=".652" stop-color="#d52426"/><stop offset=".957" stop-color="#8d1d24"/><stop offset="1" stop-color="#7d1c23"/></linearGradient>
<linearGradient id="c83" gradientUnits="userSpaceOnUse" x1="0" y1="186" x2="0" y2="232"><stop offset="0" stop-color="#b5d463"/><stop offset=".087" stop-color="#b8d560"/><stop offset=".13" stop-color="#c6da58"/><stop offset=".196" stop-color="#f3e747"/><stop offset=".304" stop-color="#f5a73c"/><stop offset=".478" stop-color="#e9462b"/><stop offset=".543" stop-color="#e52d28"/><stop offset=".674" stop-color="#d32326"/><stop offset=".957" stop-color="#8d1d24"/><stop offset="1" stop-color="#7d1c23"/></linearGradient>
<linearGradient id="c84" gradientUnits="userSpaceOnUse" x1="0" y1="187" x2="0" y2="232"><stop offset="0" stop-color="#a9d06d"/><stop offset=".089" stop-color="#afd268"/><stop offset=".156" stop-color="#c9db57"/><stop offset=".2" stop-color="#ede549"/><stop offset=".222" stop-color="#f6e045"/><stop offset=".356" stop-color="#f18e35"/><stop offset=".489" stop-color="#e8432a"/><stop offset=".556" stop-color="#e42c28"/><stop offset=".689" stop-color="#d02326"/><stop offset=".956" stop-color="#8e1d24"/><stop offset="1" stop-color="#7d1c23"/></linearGradient>
<linearGradient id="c85" gradientUnits="userSpaceOnUse" x1="0" y1="187" x2="0" y2="232"><stop offset="0" stop-color="#9ccc78"/><stop offset=".089" stop-color="#a1cd74"/><stop offset=".178" stop-color="#c0d85a"/><stop offset=".222" stop-color="#e8e44b"/><stop offset=".244" stop-color="#f6e346"/><stop offset=".356" stop-color="#f39938"/><stop offset=".511" stop-color="#e8412a"/><stop offset=".556" stop-color="#e62e28"/><stop offset=".689" stop-color="#d42326"/><stop offset=".956" stop-color="#8f1e24"/><stop offset="1" stop-color="#7d1c23"/></linearGradient>
<linearGradient id="c86" gradientUnits="userSpaceOnUse" x1="0" y1="188" x2="0" y2="232"><stop offset="0" stop-color="#90c782"/><stop offset=".091" stop-color="#97ca7c"/><stop offset=".182" stop-color="#bbd65e"/><stop offset=".25" stop-color="#f6e446"/><stop offset=".364" stop-color="#f39738"/><stop offset=".523" stop-color="#e83e2a"/><stop offset=".568" stop-color="#e52d28"/><stop offset=".705" stop-color="#d12326"/><stop offset=".955" stop-color="#901e24"/><stop offset="1" stop-color="#7d1c23"/></linearGradient>
<linearGradient id="c87" gradientUnits="userSpaceOnUse" x1="0" y1="188" x2="0" y2="232"><stop offset="0" stop-color="#84c38d"/><stop offset=".091" stop-color="#88c489"/><stop offset=".182" stop-color="#aad06c"/><stop offset=".227" stop-color="#c9db57"/><stop offset=".273" stop-color="#f6e546"/><stop offset=".364" stop-color="#f5a33b"/><stop offset=".523" stop-color="#e9462b"/><stop offset=".591" stop-color="#e42d28"/><stop offset=".705" stop-color="#d52426"/><stop offset=".955" stop-color="#901e24"/><stop offset="1" stop-color="#7d1c23"/></linearGradient>
<linearGradient id="c88" gradientUnits="userSpaceOnUse" x1="0" y1="188" x2="0" y2="232"><stop offset="0" stop-color="#7fc295"/><stop offset=".114" stop-color="#82c290"/><stop offset=".159" stop-color="#8ec684"/><stop offset=".25" stop-color="#c5da58"/><stop offset=".295" stop-color="#f6e546"/><stop offset=".386" stop-color="#f4a13b"/><stop offset=".545" stop-color="#e8422a"/><stop offset=".591" stop-color="#e62f28"/><stop offset=".727" stop-color="#d22326"/><stop offset=".955" stop-color="#911e24"/><stop offset="1" stop-color="#7d1c23"/></linearGradient>
<linearGradient id="c89" gradientUnits="userSpaceOnUse" x1="0" y1="189" x2="0" y2="232"><stop offset="0" stop-color="#7bc19e"/><stop offset=".116" stop-color="#7fc296"/><stop offset=".163" stop-color="#88c489"/><stop offset=".256" stop-color="#c3d959"/><stop offset=".302" stop-color="#f6e546"/><stop offset=".372" stop-color="#f6ad3e"/><stop offset=".512" stop-color="#eb572d"/><stop offset=".605" stop-color="#e52d28"/><stop offset=".721" stop-color="#d62426"/><stop offset=".953" stop-color="#921e24"/><stop offset="1" stop-color="#7d1c23"/></linearGradient>
<linearGradient id="c90" gradientUnits="userSpaceOnUse" x1="0" y1="189" x2="0" y2="232"><stop offset="0" stop-color="#77c0a7"/><stop offset=".116" stop-color="#79c0a1"/><stop offset=".186" stop-color="#83c38d"/><stop offset=".279" stop-color="#c3d959"/><stop offset=".326" stop-color="#f6e346"/><stop offset=".395" stop-color="#f6ab3d"/><stop offset=".535" stop-color="#ea532c"/><stop offset=".605" stop-color="#e63128"/><stop offset=".744" stop-color="#d22326"/><stop offset=".953" stop-color="#931e24"/><stop offset="1" stop-color="#7d1c23"/></linearGradient>
<linearGradient id="c91" gradientUnits="userSpaceOnUse" x1="0" y1="190" x2="0" y2="232"><stop offset="0" stop-color="#72beb0"/><stop offset=".095" stop-color="#74bfac"/><stop offset=".19" stop-color="#82c290"/><stop offset=".238" stop-color="#9ecc77"/><stop offset=".286" stop-color="#c3d959"/><stop offset=".31" stop-color="#e2e24d"/><stop offset=".333" stop-color="#f6e145"/><stop offset=".405" stop-color="#f5a73c"/><stop offset=".571" stop-color="#e8432a"/><stop offset=".619" stop-color="#e62e28"/><stop offset=".738" stop-color="#d62426"/><stop offset=".952" stop-color="#941e24"/><stop offset="1" stop-color="#7d1c23"/></linearGradient>
<linearGradient id="c92" gradientUnits="userSpaceOnUse" x1="0" y1="190" x2="0" y2="232"><stop offset="0" stop-color="#6dbeb9"/><stop offset=".119" stop-color="#71beb3"/><stop offset=".214" stop-color="#81c293"/><stop offset=".262" stop-color="#9dcc77"/><stop offset=".31" stop-color="#c6da58"/><stop offset=".333" stop-color="#e6e34c"/><stop offset=".357" stop-color="#f6dd45"/><stop offset=".429" stop-color="#f5a33b"/><stop offset=".571" stop-color="#e94a2b"/><stop offset=".643" stop-color="#e52d28"/><stop offset=".762" stop-color="#d22326"/><stop offset=".952" stop-color="#941e24"/><stop offset="1" stop-color="#7d1c23"/></linearGradient>
<linearGradient id="c93" gradientUnits="userSpaceOnUse" x1="0" y1="191" x2="0" y2="232"><stop offset="0" stop-color="#68bec2"/><stop offset=".098" stop-color="#6bbebd"/><stop offset=".195" stop-color="#7ac19f"/><stop offset=".244" stop-color="#8ac587"/><stop offset=".317" stop-color="#cadb56"/><stop offset=".341" stop-color="#ebe54a"/><stop offset=".366" stop-color="#f7d945"/><stop offset=".439" stop-color="#f49f3a"/><stop offset=".585" stop-color="#e9462b"/><stop offset=".634" stop-color="#e63028"/><stop offset=".756" stop-color="#d52426"/><stop offset=".951" stop-color="#951e24"/><stop offset="1" stop-color="#7d1c23"/></linearGradient>
<linearGradient id="c94" gradientUnits="userSpaceOnUse" x1="0" y1="191" x2="0" y2="232"><stop offset="0" stop-color="#63becb"/><stop offset=".122" stop-color="#67bec3"/><stop offset=".22" stop-color="#7ac0a1"/><stop offset=".268" stop-color="#8ac587"/><stop offset=".317" stop-color="#b4d464"/><stop offset=".366" stop-color="#f2e748"/><stop offset=".439" stop-color="#f6ab3e"/><stop offset=".585" stop-color="#ea4d2c"/><stop offset=".659" stop-color="#e52d28"/><stop offset=".78" stop-color="#d12326"/><stop offset=".951" stop-color="#961e24"/><stop offset="1" stop-color="#7d1c23"/></linearGradient>
<linearGradient id="c95" gradientUnits="userSpaceOnUse" x1="0" y1="192" x2="0" y2="232"><stop offset="0" stop-color="#5dbed4"/><stop offset=".1" stop-color="#61bece"/><stop offset=".2" stop-color="#73bfae"/><stop offset=".275" stop-color="#8cc685"/><stop offset=".325" stop-color="#b8d561"/><stop offset=".375" stop-color="#f6e646"/><stop offset=".45" stop-color="#f5a63c"/><stop offset=".6" stop-color="#e9482b"/><stop offset=".65" stop-color="#e63128"/><stop offset=".775" stop-color="#d42426"/><stop offset=".95" stop-color="#971e24"/><stop offset="1" stop-color="#7d1c23"/></linearGradient>
<linearGradient id="c96" gradientUnits="userSpaceOnUse" x1="0" y1="192" x2="0" y2="232"><stop offset="0" stop-color="#47bcdf"/><stop offset=".075" stop-color="#4abdde"/><stop offset=".15" stop-color="#61becd"/><stop offset=".25" stop-color="#79c0a2"/><stop offset=".3" stop-color="#8fc783"/><stop offset=".35" stop-color="#bcd75d"/><stop offset=".375" stop-color="#dfe14f"/><stop offset=".4" stop-color="#f6df45"/><stop offset=".475" stop-color="#f4a03a"/><stop offset=".625" stop-color="#e8432a"/><stop offset=".675" stop-color="#e52e28"/><stop offset=".8" stop-color="#cf2326"/><stop offset=".95" stop-color="#981e24"/><stop offset="1" stop-color="#7d1c23"/></linearGradient>
<linearGradient id="c97" gradientUnits="userSpaceOnUse" x1="0" y1="192" x2="0" y2="232"><stop offset="0" stop-color="#2abaea"/><stop offset=".075" stop-color="#2bbaea"/><stop offset=".125" stop-color="#40bce2"/><stop offset=".175" stop-color="#5fbed1"/><stop offset=".275" stop-color="#7ac0a1"/><stop offset=".3" stop-color="#81c292"/><stop offset=".35" stop-color="#aad06c"/><stop offset=".375" stop-color="#c3d959"/><stop offset=".4" stop-color="#e9e44b"/><stop offset=".425" stop-color="#f7d845"/><stop offset=".5" stop-color="#f39a39"/><stop offset=".625" stop-color="#e94a2b"/><stop offset=".675" stop-color="#e63228"/><stop offset=".775" stop-color="#da2426"/><stop offset=".95" stop-color="#991e24"/><stop offset="1" stop-color="#7d1c23"/></linearGradient>
<linearGradient id="c98" gradientUnits="userSpaceOnUse" x1="0" y1="193" x2="0" y2="232"><stop offset="0" stop-color="#2a99d6"/><stop offset=".077" stop-color="#2a9fda"/><stop offset=".103" stop-color="#28afe4"/><stop offset=".128" stop-color="#2fbbe8"/><stop offset=".179" stop-color="#5ebed3"/><stop offset=".308" stop-color="#83c38f"/><stop offset=".359" stop-color="#b0d367"/><stop offset=".385" stop-color="#cedc55"/><stop offset=".41" stop-color="#f4e747"/><stop offset=".487" stop-color="#f5a53c"/><stop offset=".615" stop-color="#ea522c"/><stop offset=".692" stop-color="#e52e28"/><stop offset=".795" stop-color="#d52426"/><stop offset=".949" stop-color="#9a1e24"/><stop offset="1" stop-color="#7d1c23"/></linearGradient>
<linearGradient id="c99" gradientUnits="userSpaceOnUse" x1="0" y1="193" x2="0" y2="232"><stop offset="0" stop-color="#3073bc"/><stop offset=".077" stop-color="#2f76be"/><stop offset=".103" stop-color="#2e82c6"/><stop offset=".128" stop-color="#2b97d4"/><stop offset=".154" stop-color="#27b5e8"/><stop offset=".205" stop-color="#5dbed5"/><stop offset=".333" stop-color="#85c38b"/><stop offset=".385" stop-color="#b7d561"/><stop offset=".41" stop-color="#dae050"/><stop offset=".436" stop-color="#f6e145"/><stop offset=".513" stop-color="#f49e3a"/><stop offset=".641" stop-color="#e94b2b"/><stop offset=".692" stop-color="#e63228"/><stop offset=".795" stop-color="#d92426"/><stop offset=".949" stop-color="#9b1f24"/><stop offset="1" stop-color="#7d1c23"/></linearGradient>
<linearGradient id="c100" gradientUnits="userSpaceOnUse" x1="0" y1="194" x2="0" y2="232"><stop offset="0" stop-color="#2e6bb6"/><stop offset=".105" stop-color="#306fb9"/><stop offset=".132" stop-color="#2d83c7"/><stop offset=".158" stop-color="#28a8e0"/><stop offset=".184" stop-color="#39bbe4"/><stop offset=".211" stop-color="#5dbed5"/><stop offset=".316" stop-color="#7ec198"/><stop offset=".342" stop-color="#8cc686"/><stop offset=".395" stop-color="#bfd85b"/><stop offset=".421" stop-color="#e7e44b"/><stop offset=".447" stop-color="#f7d745"/><stop offset=".5" stop-color="#f6a93d"/><stop offset=".632" stop-color="#ea532c"/><stop offset=".711" stop-color="#e52d28"/><stop offset=".816" stop-color="#d22326"/><stop offset=".974" stop-color="#8d1d24"/><stop offset="1" stop-color="#7d1c23"/></linearGradient>
<linearGradient id="c101" gradientUnits="userSpaceOnUse" x1="0" y1="194" x2="0" y2="232"><stop offset="0" stop-color="#2d65b2"/><stop offset=".132" stop-color="#2f6cb7"/><stop offset=".158" stop-color="#2f75bd"/><stop offset=".184" stop-color="#2a9fda"/><stop offset=".211" stop-color="#37bbe5"/><stop offset=".237" stop-color="#5dbed4"/><stop offset=".342" stop-color="#80c294"/><stop offset=".395" stop-color="#aed269"/><stop offset=".421" stop-color="#cddc55"/><stop offset=".447" stop-color="#f6e846"/><stop offset=".5" stop-color="#f7b540"/><stop offset=".632" stop-color="#eb5b2d"/><stop offset=".711" stop-color="#e63128"/><stop offset=".816" stop-color="#d52426"/><stop offset=".974" stop-color="#8e1d24"/><stop offset="1" stop-color="#7d1c23"/></linearGradient>
<linearGradient id="c102" gradientUnits="userSpaceOnUse" x1="0" y1="194" x2="0" y2="232"><stop offset="0" stop-color="#2b5fad"/><stop offset=".132" stop-color="#2c65b1"/><stop offset=".184" stop-color="#306fba"/><stop offset=".211" stop-color="#2a9cd8"/><stop offset=".237" stop-color="#39bbe4"/><stop offset=".263" stop-color="#5ebed3"/><stop offset=".368" stop-color="#83c38e"/><stop offset=".421" stop-color="#b8d561"/><stop offset=".447" stop-color="#dde14f"/><stop offset=".474" stop-color="#f6dd45"/><stop offset=".526" stop-color="#f6ac3e"/><stop offset=".658" stop-color="#ea532c"/><stop offset=".737" stop-color="#e52d28"/><stop offset=".816" stop-color="#d82426"/><stop offset=".974" stop-color="#8e1d24"/><stop offset="1" stop-color="#7d1c23"/></linearGradient>
<linearGradient id="c103" gradientUnits="userSpaceOnUse" x1="0" y1="195" x2="0" y2="232"><stop offset="0" stop-color="#295aa9"/><stop offset=".135" stop-color="#2c62af"/><stop offset=".189" stop-color="#306fb9"/><stop offset=".216" stop-color="#2a9fd9"/><stop offset=".243" stop-color="#3fbce2"/><stop offset=".27" stop-color="#60bed0"/><stop offset=".378" stop-color="#8ac587"/><stop offset=".432" stop-color="#c3d959"/><stop offset=".459" stop-color="#eee649"/><stop offset=".486" stop-color="#f7d244"/><stop offset=".541" stop-color="#f5a43b"/><stop offset=".676" stop-color="#e94a2b"/><stop offset=".73" stop-color="#e62f28"/><stop offset=".811" stop-color="#db2426"/><stop offset=".946" stop-color="#9e1f24"/><stop offset="1" stop-color="#7d1c23"/></linearGradient>
<linearGradient id="c104" gradientUnits="userSpaceOnUse" x1="0" y1="195" x2="0" y2="232"><stop offset="0" stop-color="#2855a6"/><stop offset=".135" stop-color="#2a5baa"/><stop offset=".216" stop-color="#306fb9"/><stop offset=".243" stop-color="#29a6df"/><stop offset=".27" stop-color="#49bdde"/><stop offset=".297" stop-color="#62becb"/><stop offset=".378" stop-color="#80c294"/><stop offset=".432" stop-color="#b2d366"/><stop offset=".459" stop-color="#d5de52"/><stop offset=".486" stop-color="#f6e145"/><stop offset=".541" stop-color="#f6ae3e"/><stop offset=".676" stop-color="#ea522c"/><stop offset=".73" stop-color="#e73429"/><stop offset=".838" stop-color="#d32326"/><stop offset=".973" stop-color="#8f1e24"/><stop offset="1" stop-color="#7d1c23"/></linearGradient>
<linearGradient id="c105" gradientUnits="userSpaceOnUse" x1="0" y1="196" x2="0" y2="232"><stop offset="0" stop-color="#2653a4"/><stop offset=".139" stop-color="#2959a8"/><stop offset=".222" stop-color="#3071bb"/><stop offset=".25" stop-color="#27b3e7"/><stop offset=".278" stop-color="#56bed9"/><stop offset=".389" stop-color="#84c38c"/><stop offset=".444" stop-color="#bdd75c"/><stop offset=".472" stop-color="#e8e44b"/><stop offset=".5" stop-color="#f7d444"/><stop offset=".556" stop-color="#f5a43c"/><stop offset=".694" stop-color="#e9492b"/><stop offset=".75" stop-color="#e52d28"/><stop offset=".833" stop-color="#d62426"/><stop offset=".972" stop-color="#901e24"/><stop offset="1" stop-color="#7d1c23"/></linearGradient>
<linearGradient id="c106" gradientUnits="userSpaceOnUse" x1="0" y1="196" x2="0" y2="232"><stop offset="0" stop-color="#2550a3"/><stop offset=".167" stop-color="#2958a8"/><stop offset=".222" stop-color="#2e68b4"/><stop offset=".25" stop-color="#2e7ec4"/><stop offset=".278" stop-color="#2fbbe8"/><stop offset=".306" stop-color="#5ebed3"/><stop offset=".389" stop-color="#7ec198"/><stop offset=".417" stop-color="#90c782"/><stop offset=".472" stop-color="#d0dd54"/><stop offset=".5" stop-color="#f6e446"/><stop offset=".556" stop-color="#f6af3f"/><stop offset=".694" stop-color="#ea4f2c"/><stop offset=".75" stop-color="#e63128"/><stop offset=".833" stop-color="#d92426"/><stop offset=".972" stop-color="#901e24"/><stop offset="1" stop-color="#7d1c23"/></linearGradient>
<linearGradient id="c107" gradientUnits="userSpaceOnUse" x1="0" y1="196" x2="0" y2="232"><stop offset="0" stop-color="#244da2"/><stop offset=".167" stop-color="#2754a5"/><stop offset=".25" stop-color="#2e6ab6"/><stop offset=".278" stop-color="#2c91d0"/><stop offset=".306" stop-color="#40bce1"/><stop offset=".333" stop-color="#62becc"/><stop offset=".417" stop-color="#82c390"/><stop offset=".472" stop-color="#bbd65e"/><stop offset=".5" stop-color="#e6e34c"/><stop offset=".528" stop-color="#f7d544"/><stop offset=".583" stop-color="#f5a43b"/><stop offset=".722" stop-color="#e9452b"/><stop offset=".778" stop-color="#e42c28"/><stop offset=".833" stop-color="#db2526"/><stop offset=".972" stop-color="#911e24"/><stop offset="1" stop-color="#7d1c23"/></linearGradient>
<linearGradient id="c108" gradientUnits="userSpaceOnUse" x1="0" y1="197" x2="0" y2="232"><stop offset="0" stop-color="#234ba1"/><stop offset=".171" stop-color="#2754a5"/><stop offset=".257" stop-color="#2f6db8"/><stop offset=".286" stop-color="#28aae1"/><stop offset=".314" stop-color="#55bed9"/><stop offset=".429" stop-color="#8dc685"/><stop offset=".486" stop-color="#cedc55"/><stop offset=".514" stop-color="#f6e446"/><stop offset=".571" stop-color="#f6ae3e"/><stop offset=".686" stop-color="#ec5e2e"/><stop offset=".771" stop-color="#e52e28"/><stop offset=".857" stop-color="#d22326"/><stop offset=".971" stop-color="#921e24"/><stop offset="1" stop-color="#7d1c23"/></linearGradient>
<linearGradient id="c109" gradientUnits="userSpaceOnUse" x1="0" y1="197" x2="0" y2="232"><stop offset="0" stop-color="#21499f"/><stop offset=".171" stop-color="#2550a3"/><stop offset=".257" stop-color="#2d65b2"/><stop offset=".286" stop-color="#2f76be"/><stop offset=".314" stop-color="#30bbe8"/><stop offset=".343" stop-color="#5fbed0"/><stop offset=".429" stop-color="#81c291"/><stop offset=".486" stop-color="#bad65f"/><stop offset=".514" stop-color="#e6e34c"/><stop offset=".543" stop-color="#f7d444"/><stop offset=".6" stop-color="#f4a23b"/><stop offset=".743" stop-color="#e8412a"/><stop offset=".771" stop-color="#e63128"/><stop offset=".857" stop-color="#d42426"/><stop offset=".971" stop-color="#921e24"/><stop offset="1" stop-color="#7d1c23"/></linearGradient>
<linearGradient id="c110" gradientUnits="userSpaceOnUse" x1="0" y1="197" x2="0" y2="232"><stop offset="0" stop-color="#20479e"/><stop offset=".171" stop-color="#234da1"/><stop offset=".257" stop-color="#2a5eac"/><stop offset=".286" stop-color="#2e69b5"/><stop offset=".314" stop-color="#2b95d3"/><stop offset=".343" stop-color="#49bdde"/><stop offset=".371" stop-color="#65bec7"/><stop offset=".457" stop-color="#8cc685"/><stop offset=".514" stop-color="#d0dd54"/><stop offset=".543" stop-color="#f6e245"/><stop offset=".6" stop-color="#f6ab3e"/><stop offset=".714" stop-color="#eb592d"/><stop offset=".771" stop-color="#e73629"/><stop offset=".829" stop-color="#de2727"/><stop offset=".857" stop-color="#d72426"/><stop offset=".971" stop-color="#931e24"/><stop offset="1" stop-color="#7d1c23"/></linearGradient>
<linearGradient id="c111" gradientUnits="userSpaceOnUse" x1="0" y1="198" x2="0" y2="232"><stop offset="0" stop-color="#1f459d"/><stop offset=".176" stop-color="#244da2"/><stop offset=".235" stop-color="#2857a7"/><stop offset=".294" stop-color="#2f6eb9"/><stop offset=".324" stop-color="#26b9eb"/><stop offset=".353" stop-color="#5ebed3"/><stop offset=".441" stop-color="#81c291"/><stop offset=".5" stop-color="#bcd75d"/><stop offset=".529" stop-color="#eae44b"/><stop offset=".559" stop-color="#f7d144"/><stop offset=".618" stop-color="#f49f3a"/><stop offset=".765" stop-color="#e83b2a"/><stop offset=".794" stop-color="#e52d28"/><stop offset=".853" stop-color="#da2426"/><stop offset=".971" stop-color="#931e24"/><stop offset="1" stop-color="#7d1c23"/></linearGradient>
<linearGradient id="c112" gradientUnits="userSpaceOnUse" x1="0" y1="198" x2="0" y2="232"><stop offset="0" stop-color="#1e439c"/><stop offset=".176" stop-color="#224aa0"/><stop offset=".265" stop-color="#295baa"/><stop offset=".294" stop-color="#2d67b3"/><stop offset=".324" stop-color="#2d89cb"/><stop offset=".353" stop-color="#43bce0"/><stop offset=".382" stop-color="#64bec8"/><stop offset=".471" stop-color="#8dc684"/><stop offset=".529" stop-color="#d5de52"/><stop offset=".559" stop-color="#f6de45"/><stop offset=".618" stop-color="#f5a83d"/><stop offset=".765" stop-color="#e8402a"/><stop offset=".794" stop-color="#e62f28"/><stop offset=".853" stop-color="#db2526"/><stop offset=".971" stop-color="#941e24"/><stop offset="1" stop-color="#7d1c23"/></linearGradient>
<linearGradient id="c113" gradientUnits="userSpaceOnUse" x1="0" y1="198" x2="0" y2="232"><stop offset="0" stop-color="#1f409a"/><stop offset=".176" stop-color="#21479f"/><stop offset=".265" stop-color="#2755a5"/><stop offset=".324" stop-color="#2f6db7"/><stop offset=".353" stop-color="#27b3e7"/><stop offset=".382" stop-color="#5ebed3"/><stop offset=".471" stop-color="#82c390"/><stop offset=".529" stop-color="#c0d85a"/><stop offset=".559" stop-color="#f1e648"/><stop offset=".618" stop-color="#f7b03f"/><stop offset=".735" stop-color="#eb592d"/><stop offset=".794" stop-color="#e73429"/><stop offset=".853" stop-color="#dc2626"/><stop offset=".941" stop-color="#aa2024"/><stop offset="1" stop-color="#7d1c23"/></linearGradient>
<linearGradient id="c114" gradientUnits="userSpaceOnUse" x1="0" y1="198" x2="0" y2="232"><stop offset="0" stop-color="#203e96"/><stop offset=".176" stop-color="#1f459d"/><stop offset=".294" stop-color="#2959a8"/><stop offset=".324" stop-color="#2d66b2"/><stop offset=".353" stop-color="#2d85c8"/><stop offset=".382" stop-color="#44bce0"/><stop offset=".412" stop-color="#65bec7"/><stop offset=".471" stop-color="#7dc19a"/><stop offset=".5" stop-color="#92c881"/><stop offset=".529" stop-color="#b3d365"/><stop offset=".559" stop-color="#dde14f"/><stop offset=".588" stop-color="#f7d845"/><stop offset=".647" stop-color="#f4a23b"/><stop offset=".794" stop-color="#e73829"/><stop offset=".853" stop-color="#dd2727"/><stop offset=".912" stop-color="#bf2225"/><stop offset="1" stop-color="#7d1c23"/></linearGradient>
<linearGradient id="c115" gradientUnits="userSpaceOnUse" x1="0" y1="199" x2="0" y2="232"><stop offset="0" stop-color="#213c93"/><stop offset=".182" stop-color="#20459e"/><stop offset=".273" stop-color="#2754a5"/><stop offset=".333" stop-color="#2f6cb7"/><stop offset=".364" stop-color="#27b6e9"/><stop offset=".394" stop-color="#5fbed2"/><stop offset=".485" stop-color="#84c38c"/><stop offset=".545" stop-color="#c9db56"/><stop offset=".576" stop-color="#f6e546"/><stop offset=".636" stop-color="#f6aa3d"/><stop offset=".758" stop-color="#ea512c"/><stop offset=".818" stop-color="#e52d28"/><stop offset=".879" stop-color="#d42426"/><stop offset="1" stop-color="#7d1c23"/></linearGradient>
<linearGradient id="c116" gradientUnits="userSpaceOnUse" x1="0" y1="199" x2="0" y2="232"><stop offset="0" stop-color="#223a91"/><stop offset=".152" stop-color="#1f3f98"/><stop offset=".303" stop-color="#2959a8"/><stop offset=".333" stop-color="#2d66b2"/><stop offset=".364" stop-color="#2c8bcc"/><stop offset=".394" stop-color="#4abddd"/><stop offset=".424" stop-color="#66bec5"/><stop offset=".485" stop-color="#7fc296"/><stop offset=".515" stop-color="#98ca7b"/><stop offset=".545" stop-color="#bad65f"/><stop offset=".576" stop-color="#e9e44b"/><stop offset=".606" stop-color="#f7d044"/><stop offset=".667" stop-color="#f39b39"/><stop offset=".818" stop-color="#e62e28"/><stop offset=".879" stop-color="#d72426"/><stop offset="1" stop-color="#7d1c23"/></linearGradient>
<linearGradient id="c117" gradientUnits="userSpaceOnUse" x1="0" y1="199" x2="0" y2="232"><stop offset="0" stop-color="#22388e"/><stop offset=".152" stop-color="#213c94"/><stop offset=".273" stop-color="#244ea2"/><stop offset=".333" stop-color="#2b60ad"/><stop offset=".364" stop-color="#2f6eb8"/><stop offset=".394" stop-color="#2cbaea"/><stop offset=".424" stop-color="#61bece"/><stop offset=".515" stop-color="#8bc586"/><stop offset=".576" stop-color="#d7df52"/><stop offset=".606" stop-color="#f7db45"/><stop offset=".667" stop-color="#f5a33b"/><stop offset=".818" stop-color="#e63228"/><stop offset=".879" stop-color="#da2426"/><stop offset="1" stop-color="#7d1c23"/></linearGradient>
<linearGradient id="c118" gradientUnits="userSpaceOnUse" x1="0" y1="200" x2="0" y2="232"><stop offset="0" stop-color="#23378b"/><stop offset=".156" stop-color="#203d95"/><stop offset=".312" stop-color="#295aa9"/><stop offset=".344" stop-color="#2d67b3"/><stop offset=".375" stop-color="#2a99d6"/><stop offset=".406" stop-color="#57bed8"/><stop offset=".5" stop-color="#82c390"/><stop offset=".562" stop-color="#c5d958"/><stop offset=".594" stop-color="#f6e746"/><stop offset=".656" stop-color="#f6aa3d"/><stop offset=".781" stop-color="#e94c2b"/><stop offset=".812" stop-color="#e73629"/><stop offset=".875" stop-color="#db2526"/><stop offset=".969" stop-color="#981e24"/><stop offset="1" stop-color="#7d1c23"/></linearGradient>
<linearGradient id="c119" gradientUnits="userSpaceOnUse" x1="0" y1="200" x2="0" y2="232"><stop offset="0" stop-color="#273784"/><stop offset=".094" stop-color="#253787"/><stop offset=".25" stop-color="#21499f"/><stop offset=".312" stop-color="#2755a5"/><stop offset=".375" stop-color="#3072bb"/><stop offset=".406" stop-color="#3bbce4"/><stop offset=".438" stop-color="#64bec9"/><stop offset=".5" stop-color="#7ec198"/><stop offset=".531" stop-color="#95c97e"/><stop offset=".562" stop-color="#b8d561"/><stop offset=".594" stop-color="#e7e44b"/><stop offset=".625" stop-color="#f7d044"/><stop offset=".688" stop-color="#f39a38"/><stop offset=".812" stop-color="#e73b29"/><stop offset=".844" stop-color="#e32c28"/><stop offset=".875" stop-color="#dc2526"/><stop offset=".969" stop-color="#991e24"/><stop offset="1" stop-color="#7d1c23"/></linearGradient>
<linearGradient id="c120" gradientUnits="userSpaceOnUse" x1="0" y1="200" x2="0" y2="232"><stop offset="0" stop-color="#2a377d"/><stop offset=".094" stop-color="#29377f"/><stop offset=".219" stop-color="#1e429b"/><stop offset=".344" stop-color="#2a5cab"/><stop offset=".375" stop-color="#2e6bb6"/><stop offset=".406" stop-color="#27b1e6"/><stop offset=".438" stop-color="#5fbed1"/><stop offset=".531" stop-color="#89c588"/><stop offset=".594" stop-color="#d7df52"/><stop offset=".625" stop-color="#f7da45"/><stop offset=".656" stop-color="#f8b942"/><stop offset=".781" stop-color="#eb572d"/><stop offset=".844" stop-color="#e42d28"/><stop offset=".875" stop-color="#dd2626"/><stop offset=".938" stop-color="#b32125"/><stop offset="1" stop-color="#7d1c23"/></linearGradient>
<linearGradient id="c121" gradientUnits="userSpaceOnUse" x1="0" y1="200" x2="0" y2="232"><stop offset="0" stop-color="#2d3677"/><stop offset=".094" stop-color="#2d3678"/><stop offset=".219" stop-color="#1f3f98"/><stop offset=".344" stop-color="#2857a7"/><stop offset=".375" stop-color="#2d65b2"/><stop offset=".406" stop-color="#2c8dce"/><stop offset=".438" stop-color="#51bddb"/><stop offset=".469" stop-color="#68bec1"/><stop offset=".531" stop-color="#82c290"/><stop offset=".594" stop-color="#c7da58"/><stop offset=".625" stop-color="#f6e546"/><stop offset=".688" stop-color="#f5a73c"/><stop offset=".844" stop-color="#e52e28"/><stop offset=".875" stop-color="#de2727"/><stop offset=".906" stop-color="#cd2326"/><stop offset="1" stop-color="#7d1c23"/></linearGradient>
<linearGradient id="c122" gradientUnits="userSpaceOnUse" x1="0" y1="201" x2="0" y2="232"><stop offset="0" stop-color="#2f3672"/><stop offset=".097" stop-color="#2d3677"/><stop offset=".194" stop-color="#203d94"/><stop offset=".323" stop-color="#2754a5"/><stop offset=".387" stop-color="#306fb9"/><stop offset=".419" stop-color="#37bbe5"/><stop offset=".452" stop-color="#63bec9"/><stop offset=".516" stop-color="#7ec298"/><stop offset=".548" stop-color="#97ca7c"/><stop offset=".581" stop-color="#bad65f"/><stop offset=".613" stop-color="#ece54a"/><stop offset=".645" stop-color="#f7cc44"/><stop offset=".806" stop-color="#e9482b"/><stop offset=".839" stop-color="#e63028"/><stop offset=".903" stop-color="#cf2326"/><stop offset="1" stop-color="#7d1c23"/></linearGradient>
<linearGradient id="c123" gradientUnits="userSpaceOnUse" x1="0" y1="201" x2="0" y2="232"><stop offset="0" stop-color="#31366e"/><stop offset=".097" stop-color="#303671"/><stop offset=".194" stop-color="#213b91"/><stop offset=".323" stop-color="#2652a4"/><stop offset=".387" stop-color="#2e6ab6"/><stop offset=".419" stop-color="#27b1e6"/><stop offset=".452" stop-color="#5fbed1"/><stop offset=".548" stop-color="#8cc685"/><stop offset=".581" stop-color="#b0d367"/><stop offset=".613" stop-color="#dee14f"/><stop offset=".645" stop-color="#f7d544"/><stop offset=".71" stop-color="#f39b39"/><stop offset=".839" stop-color="#e73429"/><stop offset=".903" stop-color="#d22326"/><stop offset="1" stop-color="#7d1c23"/></linearGradient>
<linearGradient id="c124" gradientUnits="userSpaceOnUse" x1="0" y1="201" x2="0" y2="232"><stop offset="0" stop-color="#33366b"/><stop offset=".097" stop-color="#32366c"/><stop offset=".226" stop-color="#203e96"/><stop offset=".355" stop-color="#2857a7"/><stop offset=".387" stop-color="#2d66b2"/><stop offset=".419" stop-color="#2b92d1"/><stop offset=".452" stop-color="#56bed8"/><stop offset=".516" stop-color="#77c0a6"/><stop offset=".548" stop-color="#83c38d"/><stop offset=".613" stop-color="#d0dd54"/><stop offset=".645" stop-color="#f6de45"/><stop offset=".677" stop-color="#f8bb42"/><stop offset=".806" stop-color="#ea512c"/><stop offset=".839" stop-color="#e73729"/><stop offset=".903" stop-color="#d42326"/><stop offset="1" stop-color="#7d1c23"/></linearGradient>
<linearGradient id="c125" gradientUnits="userSpaceOnUse" x1="0" y1="201" x2="0" y2="232"><stop offset="0" stop-color="#343669"/><stop offset=".097" stop-color="#333669"/><stop offset=".161" stop-color="#2b377c"/><stop offset=".194" stop-color="#23378d"/><stop offset=".29" stop-color="#21479f"/><stop offset=".355" stop-color="#2754a5"/><stop offset=".419" stop-color="#2f75bd"/><stop offset=".452" stop-color="#40bce1"/><stop offset=".484" stop-color="#65bec6"/><stop offset=".548" stop-color="#80c294"/><stop offset=".613" stop-color="#c2d959"/><stop offset=".645" stop-color="#f6e646"/><stop offset=".71" stop-color="#f5a63c"/><stop offset=".839" stop-color="#e83b2a"/><stop offset=".871" stop-color="#e22a27"/><stop offset=".903" stop-color="#d62426"/><stop offset="1" stop-color="#7d1c23"/></linearGradient>
<linearGradient id="c126" gradientUnits="userSpaceOnUse" x1="0" y1="202" x2="0" y2="232"><stop offset="0" stop-color="#343667"/><stop offset=".1" stop-color="#32366c"/><stop offset=".2" stop-color="#213b91"/><stop offset=".333" stop-color="#2652a4"/><stop offset=".4" stop-color="#2f6db7"/><stop offset=".433" stop-color="#2cbaea"/><stop offset=".467" stop-color="#62becc"/><stop offset=".533" stop-color="#7dc19a"/><stop offset=".567" stop-color="#95c97e"/><stop offset=".6" stop-color="#b9d560"/><stop offset=".633" stop-color="#ece54a"/><stop offset=".667" stop-color="#f7cb43"/><stop offset=".833" stop-color="#e83f2a"/><stop offset=".867" stop-color="#e32b27"/><stop offset=".9" stop-color="#d82426"/><stop offset="1" stop-color="#7d1c23"/></linearGradient>
<linearGradient id="c127" gradientUnits="userSpaceOnUse" x1="0" y1="202" x2="0" y2="232"><stop offset="0" stop-color="#353667"/><stop offset=".1" stop-color="#333669"/><stop offset=".233" stop-color="#203f97"/><stop offset=".367" stop-color="#2959a9"/><stop offset=".4" stop-color="#2e69b4"/><stop offset=".433" stop-color="#28a8e0"/><stop offset=".467" stop-color="#5ebed2"/><stop offset=".567" stop-color="#8cc685"/><stop offset=".6" stop-color="#b1d367"/><stop offset=".633" stop-color="#e0e14e"/><stop offset=".667" stop-color="#f7d244"/><stop offset=".733" stop-color="#f39738"/><stop offset=".833" stop-color="#e8422a"/><stop offset=".867" stop-color="#e42c28"/><stop offset=".9" stop-color="#da2426"/><stop offset="1" stop-color="#7d1c23"/></linearGradient>
<linearGradient id="c128" gradientUnits="userSpaceOnUse" x1="0" y1="202" x2="0" y2="232"><stop offset="0" stop-color="#353667"/><stop offset=".1" stop-color="#343668"/><stop offset=".167" stop-color="#2a377e"/><stop offset=".2" stop-color="#22388e"/><stop offset=".3" stop-color="#21499f"/><stop offset=".367" stop-color="#2856a6"/><stop offset=".4" stop-color="#2d65b2"/><stop offset=".433" stop-color="#2c90d0"/><stop offset=".467" stop-color="#55bed9"/><stop offset=".533" stop-color="#77c0a6"/><stop offset=".567" stop-color="#84c38c"/><stop offset=".633" stop-color="#d4de52"/><stop offset=".667" stop-color="#f7da45"/><stop offset=".733" stop-color="#f39b39"/><stop offset=".867" stop-color="#e52d28"/><stop offset=".9" stop-color="#db2526"/><stop offset="1" stop-color="#7d1c23"/></linearGradient>
<linearGradient id="c129" gradientUnits="userSpaceOnUse" x1="0" y1="202" x2="0" y2="232"><stop offset="0" stop-color="#343667"/><stop offset=".1" stop-color="#343668"/><stop offset=".167" stop-color="#2b377b"/><stop offset=".2" stop-color="#23378d"/><stop offset=".3" stop-color="#21479f"/><stop offset=".367" stop-color="#2754a5"/><stop offset=".4" stop-color="#2c62af"/><stop offset=".433" stop-color="#2f79c0"/><stop offset=".467" stop-color="#44bce0"/><stop offset=".5" stop-color="#66bec4"/><stop offset=".567" stop-color="#81c291"/><stop offset=".633" stop-color="#c9db57"/><stop offset=".667" stop-color="#f6e145"/><stop offset=".7" stop-color="#f8bc42"/><stop offset=".8" stop-color="#ed672f"/><stop offset=".867" stop-color="#e62e28"/><stop offset=".9" stop-color="#dc2526"/><stop offset=".967" stop-color="#a01f24"/><stop offset="1" stop-color="#7d1c23"/></linearGradient>
<linearGradient id="c130" gradientUnits="userSpaceOnUse" x1="0" y1="203" x2="0" y2="232"><stop offset="0" stop-color="#343668"/><stop offset=".103" stop-color="#32366d"/><stop offset=".172" stop-color="#24378a"/><stop offset=".276" stop-color="#20469e"/><stop offset=".379" stop-color="#2b5fad"/><stop offset=".414" stop-color="#2f6eb9"/><stop offset=".448" stop-color="#34bbe6"/><stop offset=".483" stop-color="#63beca"/><stop offset=".552" stop-color="#7fc297"/><stop offset=".586" stop-color="#9acb7a"/><stop offset=".621" stop-color="#bfd85b"/><stop offset=".655" stop-color="#f6e846"/><stop offset=".724" stop-color="#f5a53c"/><stop offset=".862" stop-color="#e62f28"/><stop offset=".897" stop-color="#dc2626"/><stop offset=".966" stop-color="#a11f24"/><stop offset="1" stop-color="#7d1c23"/></linearGradient>
<linearGradient id="c131" gradientUnits="userSpaceOnUse" x1="0" y1="203" x2="0" y2="232"><stop offset="0" stop-color="#33366a"/><stop offset=".103" stop-color="#32366d"/><stop offset=".207" stop-color="#223a91"/><stop offset=".31" stop-color="#234ba1"/><stop offset=".379" stop-color="#2a5caa"/><stop offset=".414" stop-color="#2e6bb6"/><stop offset=".448" stop-color="#26b9eb"/><stop offset=".483" stop-color="#60bece"/><stop offset=".552" stop-color="#7cc19b"/><stop offset=".586" stop-color="#93c87f"/><stop offset=".621" stop-color="#b8d561"/><stop offset=".655" stop-color="#ece54a"/><stop offset=".69" stop-color="#f7c943"/><stop offset=".862" stop-color="#e63228"/><stop offset=".897" stop-color="#dd2727"/><stop offset=".966" stop-color="#a11f24"/><stop offset="1" stop-color="#7d1c23"/></linearGradient>
<linearGradient id="c132" gradientUnits="userSpaceOnUse" x1="0" y1="203" x2="0" y2="232"><stop offset="0" stop-color="#32366c"/><stop offset=".103" stop-color="#31366e"/><stop offset=".241" stop-color="#1f3f97"/><stop offset=".379" stop-color="#2959a8"/><stop offset=".414" stop-color="#2e68b4"/><stop offset=".448" stop-color="#29a6de"/><stop offset=".483" stop-color="#5ebed3"/><stop offset=".586" stop-color="#8cc685"/><stop offset=".621" stop-color="#b2d366"/><stop offset=".655" stop-color="#e3e24d"/><stop offset=".69" stop-color="#f7cf44"/><stop offset=".862" stop-color="#e73529"/><stop offset=".897" stop-color="#de2727"/><stop offset=".931" stop-color="#c52225"/><stop offset="1" stop-color="#7d1c23"/></linearGradient>
<linearGradient id="c133" gradientUnits="userSpaceOnUse" x1="0" y1="203" x2="0" y2="232"><stop offset="0" stop-color="#31366e"/><stop offset=".103" stop-color="#31366f"/><stop offset=".241" stop-color="#203e96"/><stop offset=".379" stop-color="#2857a7"/><stop offset=".414" stop-color="#2d66b2"/><stop offset=".448" stop-color="#2b93d2"/><stop offset=".483" stop-color="#58bed8"/><stop offset=".586" stop-color="#86c48b"/><stop offset=".621" stop-color="#abd16b"/><stop offset=".655" stop-color="#d9e051"/><stop offset=".69" stop-color="#f7d544"/><stop offset=".759" stop-color="#f39537"/><stop offset=".862" stop-color="#e73829"/><stop offset=".897" stop-color="#de2827"/><stop offset=".931" stop-color="#c62225"/><stop offset="1" stop-color="#7d1c23"/></linearGradient>
<linearGradient id="c134" gradientUnits="userSpaceOnUse" x1="0" y1="204" x2="0" y2="232"><stop offset="0" stop-color="#303671"/><stop offset=".107" stop-color="#2d3677"/><stop offset=".214" stop-color="#203d95"/><stop offset=".357" stop-color="#2855a6"/><stop offset=".393" stop-color="#2c63b0"/><stop offset=".429" stop-color="#2d83c7"/><stop offset=".464" stop-color="#4bbddd"/><stop offset=".5" stop-color="#68bec2"/><stop offset=".571" stop-color="#83c38f"/><stop offset=".607" stop-color="#a6cf70"/><stop offset=".643" stop-color="#d1dd54"/><stop offset=".679" stop-color="#f7db45"/><stop offset=".75" stop-color="#f39938"/><stop offset=".857" stop-color="#e73a29"/><stop offset=".893" stop-color="#df2827"/><stop offset=".929" stop-color="#c72225"/><stop offset="1" stop-color="#7d1c23"/></linearGradient>
<linearGradient id="c135" gradientUnits="userSpaceOnUse" x1="0" y1="204" x2="0" y2="232"><stop offset="0" stop-color="#2e3674"/><stop offset=".107" stop-color="#2c3779"/><stop offset=".25" stop-color="#1e429c"/><stop offset=".357" stop-color="#2754a5"/><stop offset=".429" stop-color="#3073bc"/><stop offset=".464" stop-color="#3fbce2"/><stop offset=".5" stop-color="#65bec6"/><stop offset=".571" stop-color="#81c293"/><stop offset=".607" stop-color="#a0cd75"/><stop offset=".643" stop-color="#c8da57"/><stop offset=".679" stop-color="#f6e045"/><stop offset=".714" stop-color="#f8ba42"/><stop offset=".821" stop-color="#ec5e2e"/><stop offset=".857" stop-color="#e83d2a"/><stop offset=".893" stop-color="#e02927"/><stop offset=".929" stop-color="#c92325"/><stop offset="1" stop-color="#7d1c23"/></linearGradient>
<linearGradient id="c136" gradientUnits="userSpaceOnUse" x1="0" y1="204" x2="0" y2="232"><stop offset="0" stop-color="#2c3678"/><stop offset=".107" stop-color="#2b377c"/><stop offset=".25" stop-color="#1e429c"/><stop offset=".357" stop-color="#2753a5"/><stop offset=".429" stop-color="#306eb9"/><stop offset=".464" stop-color="#34bbe6"/><stop offset=".5" stop-color="#63beca"/><stop offset=".571" stop-color="#7fc297"/><stop offset=".607" stop-color="#9acb79"/><stop offset=".643" stop-color="#c0d85a"/><stop offset=".679" stop-color="#f6e546"/><stop offset=".75" stop-color="#f4a03a"/><stop offset=".857" stop-color="#e83f2a"/><stop offset=".893" stop-color="#e02927"/><stop offset=".929" stop-color="#ca2325"/><stop offset="1" stop-color="#7d1c23"/></linearGradient>
<linearGradient id="c137" gradientUnits="userSpaceOnUse" x1="0" y1="204" x2="0" y2="232"><stop offset="0" stop-color="#2a377d"/><stop offset=".107" stop-color="#29377f"/><stop offset=".25" stop-color="#1e429c"/><stop offset=".393" stop-color="#2a5dac"/><stop offset=".429" stop-color="#2f6cb7"/><stop offset=".464" stop-color="#2abaea"/><stop offset=".5" stop-color="#61becd"/><stop offset=".571" stop-color="#7dc19a"/><stop offset=".607" stop-color="#95c97e"/><stop offset=".643" stop-color="#bbd65e"/><stop offset=".679" stop-color="#f2e747"/><stop offset=".714" stop-color="#f8c343"/><stop offset=".857" stop-color="#e8422a"/><stop offset=".893" stop-color="#e12a27"/><stop offset=".929" stop-color="#cb2326"/><stop offset="1" stop-color="#7d1c23"/></linearGradient>
<linearGradient id="c138" gradientUnits="userSpaceOnUse" x1="0" y1="204" x2="0" y2="232"><stop offset="0" stop-color="#283782"/><stop offset=".107" stop-color="#273783"/><stop offset=".286" stop-color="#20469e"/><stop offset=".393" stop-color="#2a5cab"/><stop offset=".429" stop-color="#2e6bb6"/><stop offset=".464" stop-color="#27b4e8"/><stop offset=".5" stop-color="#60bed0"/><stop offset=".571" stop-color="#7bc19d"/><stop offset=".607" stop-color="#91c782"/><stop offset=".643" stop-color="#b6d562"/><stop offset=".679" stop-color="#ebe54a"/><stop offset=".714" stop-color="#f7c843"/><stop offset=".857" stop-color="#e9442b"/><stop offset=".893" stop-color="#e22a27"/><stop offset=".929" stop-color="#cd2326"/><stop offset="1" stop-color="#7d1c23"/></linearGradient>
<linearGradient id="c139" gradientUnits="userSpaceOnUse" x1="0" y1="205" x2="0" y2="232"><stop offset="0" stop-color="#253787"/><stop offset=".148" stop-color="#223a90"/><stop offset=".259" stop-color="#20469e"/><stop offset=".37" stop-color="#295baa"/><stop offset=".407" stop-color="#2e69b5"/><stop offset=".444" stop-color="#28a9e0"/><stop offset=".481" stop-color="#5ebed3"/><stop offset=".593" stop-color="#8cc685"/><stop offset=".63" stop-color="#b2d366"/><stop offset=".667" stop-color="#e5e34c"/><stop offset=".704" stop-color="#f7cc44"/><stop offset=".852" stop-color="#e9462b"/><stop offset=".889" stop-color="#e22b27"/><stop offset=".926" stop-color="#ce2326"/><stop offset="1" stop-color="#7d1c23"/></linearGradient>
<linearGradient id="c140" gradientUnits="userSpaceOnUse" x1="0" y1="205" x2="0" y2="232"><stop offset="0" stop-color="#23378c"/><stop offset=".148" stop-color="#223a91"/><stop offset=".296" stop-color="#234ba1"/><stop offset=".37" stop-color="#295aa9"/><stop offset=".407" stop-color="#2e68b4"/><stop offset=".444" stop-color="#2a9fda"/><stop offset=".481" stop-color="#5cbed5"/><stop offset=".593" stop-color="#88c489"/><stop offset=".63" stop-color="#aed269"/><stop offset=".667" stop-color="#dfe14f"/><stop offset=".704" stop-color="#f7d044"/><stop offset=".889" stop-color="#e32b27"/><stop offset=".926" stop-color="#cf2326"/><stop offset="1" stop-color="#7d1c23"/></linearGradient>
<linearGradient id="c141" gradientUnits="userSpaceOnUse" x1="0" y1="205" x2="0" y2="232"><stop offset="0" stop-color="#22388e"/><stop offset=".185" stop-color="#203e96"/><stop offset=".37" stop-color="#2959a8"/><stop offset=".407" stop-color="#2d67b3"/><stop offset=".444" stop-color="#2b97d4"/><stop offset=".481" stop-color="#58bed8"/><stop offset=".593" stop-color="#84c38c"/><stop offset=".63" stop-color="#aad06c"/><stop offset=".667" stop-color="#d9df51"/><stop offset=".704" stop-color="#f7d444"/><stop offset=".889" stop-color="#e32c28"/><stop offset=".926" stop-color="#d02326"/><stop offset="1" stop-color="#7d1c23"/></linearGradient>
<linearGradient id="c142" gradientUnits="userSpaceOnUse" x1="0" y1="205" x2="0" y2="232"><stop offset="0" stop-color="#223a90"/><stop offset=".185" stop-color="#203f97"/><stop offset=".37" stop-color="#2958a8"/><stop offset=".407" stop-color="#2d66b2"/><stop offset=".444" stop-color="#2c90cf"/><stop offset=".481" stop-color="#52bdda"/><stop offset=".519" stop-color="#68bec1"/><stop offset=".593" stop-color="#83c38e"/><stop offset=".63" stop-color="#a7cf6f"/><stop offset=".667" stop-color="#d4de53"/><stop offset=".704" stop-color="#f7d745"/><stop offset=".889" stop-color="#e42c28"/><stop offset=".926" stop-color="#d12326"/><stop offset="1" stop-color="#7d1c23"/></linearGradient>
<linearGradient id="c143" gradientUnits="userSpaceOnUse" x1="0" y1="205" x2="0" y2="232"><stop offset="0" stop-color="#213b92"/><stop offset=".185" stop-color="#1f3f98"/><stop offset=".37" stop-color="#2958a7"/><stop offset=".407" stop-color="#2d65b2"/><stop offset=".444" stop-color="#2c8acc"/><stop offset=".481" stop-color="#4dbddc"/><stop offset=".519" stop-color="#67bec3"/><stop offset=".593" stop-color="#82c290"/><stop offset=".63" stop-color="#a4ce72"/><stop offset=".667" stop-color="#cfdc55"/><stop offset=".704" stop-color="#f7db45"/><stop offset=".778" stop-color="#f39537"/><stop offset=".889" stop-color="#e52d28"/><stop offset=".926" stop-color="#d22326"/><stop offset="1" stop-color="#7d1c23"/></linearGradient>
<linearGradient id="c144" gradientUnits="userSpaceOnUse" x1="0" y1="205" x2="0" y2="232"><stop offset="0" stop-color="#213c94"/><stop offset=".185" stop-color="#1f4099"/><stop offset=".37" stop-color="#2958a7"/><stop offset=".407" stop-color="#2d65b1"/><stop offset=".444" stop-color="#2d86c9"/><stop offset=".481" stop-color="#48bdde"/><stop offset=".519" stop-color="#66bec4"/><stop offset=".593" stop-color="#81c292"/><stop offset=".63" stop-color="#a1cd74"/><stop offset=".667" stop-color="#cadb56"/><stop offset=".704" stop-color="#f6de45"/><stop offset=".778" stop-color="#f39738"/><stop offset=".889" stop-color="#e52d28"/><stop offset=".926" stop-color="#d32326"/><stop offset="1" stop-color="#7d1c23"/></linearGradient>
<linearGradient id="c145" gradientUnits="userSpaceOnUse" x1="0" y1="206" x2="0" y2="232"><stop offset="0" stop-color="#203e96"/><stop offset=".231" stop-color="#21479f"/><stop offset=".346" stop-color="#2958a7"/><stop offset=".385" stop-color="#2d65b1"/><stop offset=".423" stop-color="#2e82c6"/><stop offset=".462" stop-color="#45bcdf"/><stop offset=".5" stop-color="#66bec6"/><stop offset=".577" stop-color="#80c294"/><stop offset=".615" stop-color="#9ecc76"/><stop offset=".654" stop-color="#c6da58"/><stop offset=".692" stop-color="#f6e045"/><stop offset=".731" stop-color="#f8b942"/><stop offset=".846" stop-color="#ea522c"/><stop offset=".885" stop-color="#e52e28"/><stop offset=".923" stop-color="#d42426"/><stop offset="1" stop-color="#7d1c23"/></linearGradient>
<linearGradient id="c146" gradientUnits="userSpaceOnUse" x1="0" y1="206" x2="0" y2="232"><stop offset="0" stop-color="#1f3f98"/><stop offset=".231" stop-color="#21489f"/><stop offset=".346" stop-color="#2958a7"/><stop offset=".385" stop-color="#2c65b1"/><stop offset=".423" stop-color="#2e80c5"/><stop offset=".462" stop-color="#43bce0"/><stop offset=".5" stop-color="#65bec7"/><stop offset=".577" stop-color="#7fc295"/><stop offset=".615" stop-color="#9ccb78"/><stop offset=".654" stop-color="#c2d959"/><stop offset=".692" stop-color="#f6e346"/><stop offset=".731" stop-color="#f8bb42"/><stop offset=".808" stop-color="#ef7a31"/><stop offset=".885" stop-color="#e62e28"/><stop offset=".923" stop-color="#d52426"/><stop offset="1" stop-color="#7d1c23"/></linearGradient>
<linearGradient id="c147" gradientUnits="userSpaceOnUse" x1="0" y1="206" x2="0" y2="232"><stop offset="0" stop-color="#1e419b"/><stop offset=".231" stop-color="#21499f"/><stop offset=".346" stop-color="#2958a8"/><stop offset=".385" stop-color="#2d65b1"/><stop offset=".423" stop-color="#2e80c5"/><stop offset=".462" stop-color="#41bce1"/><stop offset=".5" stop-color="#65bec7"/><stop offset=".577" stop-color="#7fc297"/><stop offset=".615" stop-color="#9acb7a"/><stop offset=".654" stop-color="#bfd85b"/><stop offset=".692" stop-color="#f6e546"/><stop offset=".769" stop-color="#f49d39"/><stop offset=".885" stop-color="#e62f28"/><stop offset=".923" stop-color="#d62426"/><stop offset="1" stop-color="#7d1c23"/></linearGradient>
<linearGradient id="c148" gradientUnits="userSpaceOnUse" x1="0" y1="206" x2="0" y2="232"><stop offset="0" stop-color="#1e439c"/><stop offset=".231" stop-color="#2249a0"/><stop offset=".346" stop-color="#2959a8"/><stop offset=".385" stop-color="#2d65b2"/><stop offset=".423" stop-color="#2e80c5"/><stop offset=".462" stop-color="#40bce1"/><stop offset=".5" stop-color="#64bec8"/><stop offset=".577" stop-color="#7ec298"/><stop offset=".615" stop-color="#98ca7b"/><stop offset=".654" stop-color="#bed75c"/><stop offset=".692" stop-color="#f6e746"/><stop offset=".769" stop-color="#f49e3a"/><stop offset=".846" stop-color="#eb572d"/><stop offset=".885" stop-color="#e63028"/><stop offset=".923" stop-color="#d72426"/><stop offset="1" stop-color="#7d1c23"/></linearGradient>
<linearGradient id="c149" gradientUnits="userSpaceOnUse" x1="0" y1="206" x2="0" y2="232"><stop offset="0" stop-color="#1f449d"/><stop offset=".231" stop-color="#224aa0"/><stop offset=".346" stop-color="#295aa9"/><stop offset=".385" stop-color="#2d66b2"/><stop offset=".423" stop-color="#2e82c6"/><stop offset=".462" stop-color="#40bce1"/><stop offset=".5" stop-color="#64bec8"/><stop offset=".577" stop-color="#7ec198"/><stop offset=".615" stop-color="#97ca7c"/><stop offset=".654" stop-color="#bcd75d"/><stop offset=".692" stop-color="#f5e847"/><stop offset=".769" stop-color="#f4a03a"/><stop offset=".846" stop-color="#eb582d"/><stop offset=".885" stop-color="#e63128"/><stop offset=".923" stop-color="#d82426"/><stop offset="1" stop-color="#7d1c23"/></linearGradient>
<linearGradient id="c150" gradientUnits="userSpaceOnUse" x1="0" y1="206" x2="0" y2="232"><stop offset="0" stop-color="#20459e"/><stop offset=".231" stop-color="#234ba1"/><stop offset=".346" stop-color="#295baa"/><stop offset=".385" stop-color="#2d66b3"/><stop offset=".423" stop-color="#2d85c8"/><stop offset=".462" stop-color="#41bce1"/><stop offset=".5" stop-color="#64bec8"/><stop offset=".577" stop-color="#7ec199"/><stop offset=".615" stop-color="#96c97d"/><stop offset=".654" stop-color="#bbd65e"/><stop offset=".692" stop-color="#f2e747"/><stop offset=".731" stop-color="#f8c243"/><stop offset=".808" stop-color="#f08132"/><stop offset=".885" stop-color="#e63228"/><stop offset=".923" stop-color="#d82426"/><stop offset="1" stop-color="#7d1c23"/></linearGradient>
<linearGradient id="c151" gradientUnits="userSpaceOnUse" x1="0" y1="207" x2="0" y2="232"><stop offset="0" stop-color="#21479f"/><stop offset=".24" stop-color="#2550a3"/><stop offset=".36" stop-color="#2d67b3"/><stop offset=".4" stop-color="#2d89cb"/><stop offset=".44" stop-color="#43bce0"/><stop offset=".48" stop-color="#64bec8"/><stop offset=".56" stop-color="#7dc199"/><stop offset=".6" stop-color="#95c97e"/><stop offset=".64" stop-color="#bad65f"/><stop offset=".68" stop-color="#f1e648"/><stop offset=".72" stop-color="#f8c343"/><stop offset=".8" stop-color="#f08232"/><stop offset=".88" stop-color="#e73329"/><stop offset=".92" stop-color="#d92426"/><stop offset="1" stop-color="#7d1c23"/></linearGradient>
<linearGradient id="c152" gradientUnits="userSpaceOnUse" x1="0" y1="207" x2="0" y2="232"><stop offset="0" stop-color="#21499f"/><stop offset=".24" stop-color="#2551a3"/><stop offset=".36" stop-color="#2e68b4"/><stop offset=".4" stop-color="#2c8ece"/><stop offset=".44" stop-color="#46bcdf"/><stop offset=".48" stop-color="#64bec8"/><stop offset=".56" stop-color="#7dc199"/><stop offset=".6" stop-color="#95c97e"/><stop offset=".64" stop-color="#b9d660"/><stop offset=".68" stop-color="#efe648"/><stop offset=".72" stop-color="#f8c443"/><stop offset=".8" stop-color="#f08332"/><stop offset=".88" stop-color="#e73329"/><stop offset=".92" stop-color="#da2426"/><stop offset="1" stop-color="#7d1c23"/></linearGradient>
<linearGradient id="c153" gradientUnits="userSpaceOnUse" x1="0" y1="207" x2="0" y2="232"><stop offset="0" stop-color="#224aa0"/><stop offset=".24" stop-color="#2652a4"/><stop offset=".36" stop-color="#2e6ab5"/><stop offset=".4" stop-color="#2b94d2"/><stop offset=".44" stop-color="#49bdde"/><stop offset=".48" stop-color="#65bec7"/><stop offset=".56" stop-color="#7dc199"/><stop offset=".6" stop-color="#94c97e"/><stop offset=".64" stop-color="#b9d560"/><stop offset=".68" stop-color="#eee649"/><stop offset=".72" stop-color="#f8c543"/><stop offset=".8" stop-color="#f08432"/><stop offset=".88" stop-color="#e73429"/><stop offset=".92" stop-color="#da2426"/><stop offset="1" stop-color="#7d1c23"/></linearGradient>
<linearGradient id="c154" gradientUnits="userSpaceOnUse" x1="0" y1="207" x2="0" y2="232"><stop offset="0" stop-color="#234ca1"/><stop offset=".24" stop-color="#2653a4"/><stop offset=".36" stop-color="#2e6bb6"/><stop offset=".4" stop-color="#2a9cd7"/><stop offset=".44" stop-color="#4dbddc"/><stop offset=".48" stop-color="#65bec6"/><stop offset=".56" stop-color="#7ec199"/><stop offset=".6" stop-color="#95c97e"/><stop offset=".64" stop-color="#b9d560"/><stop offset=".68" stop-color="#eee649"/><stop offset=".72" stop-color="#f7c643"/><stop offset=".8" stop-color="#f08432"/><stop offset=".88" stop-color="#e73529"/><stop offset=".92" stop-color="#da2426"/><stop offset="1" stop-color="#7d1c23"/></linearGradient>
<linearGradient id="c155" gradientUnits="userSpaceOnUse" x1="0" y1="207" x2="0" y2="232"><stop offset="0" stop-color="#244ea2"/><stop offset=".24" stop-color="#2754a5"/><stop offset=".36" stop-color="#2f6cb7"/><stop offset=".4" stop-color="#29a4dd"/><stop offset=".44" stop-color="#52bdda"/><stop offset=".52" stop-color="#72bfaf"/><stop offset=".56" stop-color="#7ec198"/><stop offset=".6" stop-color="#95c97e"/><stop offset=".64" stop-color="#b9d560"/><stop offset=".68" stop-color="#ede549"/><stop offset=".72" stop-color="#f7c643"/><stop offset=".8" stop-color="#f08532"/><stop offset=".88" stop-color="#e73529"/><stop offset=".92" stop-color="#da2426"/><stop offset="1" stop-color="#7d1c23"/></linearGradient>
<linearGradient id="c156" gradientUnits="userSpaceOnUse" x1="0" y1="207" x2="0" y2="232"><stop offset="0" stop-color="#254fa3"/><stop offset=".24" stop-color="#2855a6"/><stop offset=".36" stop-color="#2f6eb9"/><stop offset=".4" stop-color="#28ade3"/><stop offset=".44" stop-color="#58bed8"/><stop offset=".56" stop-color="#7ec297"/><stop offset=".6" stop-color="#96c97d"/><stop offset=".64" stop-color="#b9d660"/><stop offset=".68" stop-color="#eee649"/><stop offset=".72" stop-color="#f7c643"/><stop offset=".8" stop-color="#f08532"/><stop offset=".88" stop-color="#e73529"/><stop offset=".92" stop-color="#da2426"/><stop offset="1" stop-color="#7d1c23"/></linearGradient>
<linearGradient id="c157" gradientUnits="userSpaceOnUse" x1="0" y1="207" x2="0" y2="232"><stop offset="0" stop-color="#2651a4"/><stop offset=".24" stop-color="#2857a7"/><stop offset=".36" stop-color="#3070ba"/><stop offset=".4" stop-color="#26b8ea"/><stop offset=".44" stop-color="#5cbed5"/><stop offset=".56" stop-color="#7fc297"/><stop offset=".6" stop-color="#97ca7c"/><stop offset=".64" stop-color="#bad65f"/><stop offset=".68" stop-color="#eee649"/><stop offset=".72" stop-color="#f7c643"/><stop offset=".8" stop-color="#f08532"/><stop offset=".88" stop-color="#e73629"/><stop offset=".92" stop-color="#da2426"/><stop offset="1" stop-color="#7d1c23"/></linearGradient>
<linearGradient id="c158" gradientUnits="userSpaceOnUse" x1="0" y1="208" x2="0" y2="232"><stop offset="0" stop-color="#2753a5"/><stop offset=".208" stop-color="#295aa9"/><stop offset=".292" stop-color="#2e69b4"/><stop offset=".333" stop-color="#2e7dc3"/><stop offset=".375" stop-color="#2cbae9"/><stop offset=".417" stop-color="#5ebed3"/><stop offset=".542" stop-color="#7fc295"/><stop offset=".583" stop-color="#98ca7b"/><stop offset=".625" stop-color="#bad65f"/><stop offset=".667" stop-color="#efe649"/><stop offset=".708" stop-color="#f7c643"/><stop offset=".792" stop-color="#f08532"/><stop offset=".875" stop-color="#e73629"/><stop offset=".917" stop-color="#da2426"/><stop offset="1" stop-color="#7d1c23"/></linearGradient>
<linearGradient id="c159" gradientUnits="userSpaceOnUse" x1="0" y1="208" x2="0" y2="232"><stop offset="0" stop-color="#2855a6"/><stop offset=".167" stop-color="#2959a8"/><stop offset=".292" stop-color="#2e6bb6"/><stop offset=".333" stop-color="#2c8bcc"/><stop offset=".375" stop-color="#35bbe6"/><stop offset=".417" stop-color="#5fbed1"/><stop offset=".542" stop-color="#80c294"/><stop offset=".583" stop-color="#99ca7a"/><stop offset=".625" stop-color="#bcd65e"/><stop offset=".667" stop-color="#f0e648"/><stop offset=".708" stop-color="#f8c543"/><stop offset=".792" stop-color="#f08532"/><stop offset=".875" stop-color="#e73629"/><stop offset=".917" stop-color="#db2426"/><stop offset="1" stop-color="#7d1c23"/></linearGradient>
<linearGradient id="c160" gradientUnits="userSpaceOnUse" x1="0" y1="208" x2="0" y2="232"><stop offset="0" stop-color="#2958a8"/><stop offset=".208" stop-color="#2b60ae"/><stop offset=".292" stop-color="#2f6eb8"/><stop offset=".333" stop-color="#2a9ad6"/><stop offset=".375" stop-color="#3fbce2"/><stop offset=".417" stop-color="#61bece"/><stop offset=".542" stop-color="#81c293"/><stop offset=".625" stop-color="#bdd75d"/><stop offset=".667" stop-color="#f2e748"/><stop offset=".708" stop-color="#f8c543"/><stop offset=".792" stop-color="#f08532"/><stop offset=".875" stop-color="#e73629"/><stop offset=".917" stop-color="#db2426"/><stop offset="1" stop-color="#7d1c23"/></linearGradient>
<linearGradient id="c161" gradientUnits="userSpaceOnUse" x1="0" y1="208" x2="0" y2="232"><stop offset="0" stop-color="#2a5cab"/><stop offset=".208" stop-color="#2c64b0"/><stop offset=".292" stop-color="#3072bb"/><stop offset=".333" stop-color="#28aae1"/><stop offset=".375" stop-color="#49bdde"/><stop offset=".417" stop-color="#62becc"/><stop offset=".542" stop-color="#82c291"/><stop offset=".625" stop-color="#bed75b"/><stop offset=".667" stop-color="#f4e747"/><stop offset=".75" stop-color="#f5a33b"/><stop offset=".792" stop-color="#f08532"/><stop offset=".875" stop-color="#e73629"/><stop offset=".917" stop-color="#db2426"/><stop offset="1" stop-color="#7d1c23"/></linearGradient>
<linearGradient id="c162" gradientUnits="userSpaceOnUse" x1="0" y1="208" x2="0" y2="232"><stop offset="0" stop-color="#2b60ae"/><stop offset=".208" stop-color="#2d67b3"/><stop offset=".25" stop-color="#2f6cb7"/><stop offset=".292" stop-color="#2d84c8"/><stop offset=".333" stop-color="#26baec"/><stop offset=".375" stop-color="#54bdd9"/><stop offset=".458" stop-color="#6ebeb7"/><stop offset=".542" stop-color="#82c38f"/><stop offset=".625" stop-color="#c0d85a"/><stop offset=".667" stop-color="#f6e846"/><stop offset=".792" stop-color="#f08432"/><stop offset=".875" stop-color="#e73629"/><stop offset=".917" stop-color="#da2426"/><stop offset="1" stop-color="#7d1c23"/></linearGradient>
<linearGradient id="c163" gradientUnits="userSpaceOnUse" x1="0" y1="208" x2="0" y2="232"><stop offset="0" stop-color="#2c64b1"/><stop offset=".208" stop-color="#2e6ab6"/><stop offset=".25" stop-color="#306fba"/><stop offset=".292" stop-color="#2b97d5"/><stop offset=".333" stop-color="#33bbe7"/><stop offset=".375" stop-color="#5dbed5"/><stop offset=".542" stop-color="#83c38d"/><stop offset=".625" stop-color="#c4d959"/><stop offset=".667" stop-color="#f6e646"/><stop offset=".75" stop-color="#f4a23b"/><stop offset=".792" stop-color="#f08332"/><stop offset=".875" stop-color="#e73529"/><stop offset=".917" stop-color="#da2426"/><stop offset="1" stop-color="#7d1c23"/></linearGradient>
<linearGradient id="c164" gradientUnits="userSpaceOnUse" x1="0" y1="208" x2="0" y2="232"><stop offset="0" stop-color="#2e69b4"/><stop offset=".208" stop-color="#2f6eb8"/><stop offset=".25" stop-color="#2e82c6"/><stop offset=".292" stop-color="#28abe2"/><stop offset=".333" stop-color="#40bce1"/><stop offset=".375" stop-color="#5fbed1"/><stop offset=".542" stop-color="#86c48b"/><stop offset=".625" stop-color="#c7da57"/><stop offset=".667" stop-color="#f6e446"/><stop offset=".75" stop-color="#f4a13b"/><stop offset=".792" stop-color="#f08332"/><stop offset=".875" stop-color="#e73529"/><stop offset=".917" stop-color="#da2426"/><stop offset="1" stop-color="#7d1c23"/></linearGradient>
<linearGradient id="c165" gradientUnits="userSpaceOnUse" x1="0" y1="209" x2="0" y2="232"><stop offset="0" stop-color="#2f6db7"/><stop offset=".13" stop-color="#306eb9"/><stop offset=".174" stop-color="#2f7ac1"/><stop offset=".261" stop-color="#2abaea"/><stop offset=".304" stop-color="#4ebddc"/><stop offset=".348" stop-color="#61becd"/><stop offset=".522" stop-color="#89c588"/><stop offset=".609" stop-color="#cbdb56"/><stop offset=".652" stop-color="#f6e246"/><stop offset=".783" stop-color="#f08232"/><stop offset=".87" stop-color="#e73429"/><stop offset=".913" stop-color="#da2426"/><stop offset="1" stop-color="#7d1c23"/></linearGradient>
<linearGradient id="c166" gradientUnits="userSpaceOnUse" x1="0" y1="209" x2="0" y2="232"><stop offset="0" stop-color="#2f77be"/><stop offset=".087" stop-color="#2f77bf"/><stop offset=".13" stop-color="#2e80c5"/><stop offset=".174" stop-color="#2b93d1"/><stop offset=".217" stop-color="#27afe5"/><stop offset=".261" stop-color="#3abbe4"/><stop offset=".304" stop-color="#5cbed6"/><stop offset=".478" stop-color="#7dc199"/><stop offset=".522" stop-color="#8dc685"/><stop offset=".609" stop-color="#cfdc54"/><stop offset=".652" stop-color="#f6e045"/><stop offset=".783" stop-color="#f08132"/><stop offset=".87" stop-color="#e73429"/><stop offset=".913" stop-color="#da2426"/><stop offset="1" stop-color="#7d1c23"/></linearGradient>
<linearGradient id="c167" gradientUnits="userSpaceOnUse" x1="0" y1="209" x2="0" y2="232"><stop offset="0" stop-color="#2b93d2"/><stop offset=".087" stop-color="#2b93d2"/><stop offset=".13" stop-color="#2a9ad7"/><stop offset=".174" stop-color="#28ace2"/><stop offset=".217" stop-color="#2fbbe8"/><stop offset=".304" stop-color="#5fbed2"/><stop offset=".478" stop-color="#7fc296"/><stop offset=".522" stop-color="#91c781"/><stop offset=".565" stop-color="#aed269"/><stop offset=".609" stop-color="#d4de53"/><stop offset=".652" stop-color="#f6dd45"/><stop offset=".783" stop-color="#ef7f31"/><stop offset=".87" stop-color="#e73329"/><stop offset=".913" stop-color="#da2426"/><stop offset="1" stop-color="#7d1c23"/></linearGradient>
<linearGradient id="c168" gradientUnits="userSpaceOnUse" x1="0" y1="209" x2="0" y2="232"><stop offset="0" stop-color="#27afe5"/><stop offset=".087" stop-color="#27afe5"/><stop offset=".13" stop-color="#27b5e9"/><stop offset=".174" stop-color="#2ebbe9"/><stop offset=".261" stop-color="#5abed7"/><stop offset=".435" stop-color="#78c0a4"/><stop offset=".478" stop-color="#81c293"/><stop offset=".522" stop-color="#95c97e"/><stop offset=".565" stop-color="#b1d366"/><stop offset=".609" stop-color="#d8df51"/><stop offset=".652" stop-color="#f7db45"/><stop offset=".783" stop-color="#ef7e31"/><stop offset=".87" stop-color="#e73329"/><stop offset=".913" stop-color="#da2426"/><stop offset="1" stop-color="#7d1c23"/></linearGradient>
<linearGradient id="c169" gradientUnits="userSpaceOnUse" x1="0" y1="209" x2="0" y2="232"><stop offset="0" stop-color="#33bbe7"/><stop offset=".13" stop-color="#37bbe5"/><stop offset=".261" stop-color="#5fbed1"/><stop offset=".435" stop-color="#7ac0a0"/><stop offset=".478" stop-color="#82c390"/><stop offset=".565" stop-color="#b5d463"/><stop offset=".609" stop-color="#dde14f"/><stop offset=".652" stop-color="#f7d845"/><stop offset=".783" stop-color="#ef7c31"/><stop offset=".87" stop-color="#e63228"/><stop offset=".913" stop-color="#d92426"/><stop offset="1" stop-color="#7d1c23"/></linearGradient>
<linearGradient id="c170" gradientUnits="userSpaceOnUse" x1="0" y1="209" x2="0" y2="232"><stop offset="0" stop-color="#48bdde"/><stop offset=".13" stop-color="#4bbddd"/><stop offset=".261" stop-color="#62becc"/><stop offset=".435" stop-color="#7cc19c"/><stop offset=".478" stop-color="#84c38c"/><stop offset=".565" stop-color="#b9d660"/><stop offset=".609" stop-color="#e3e24d"/><stop offset=".652" stop-color="#f7d544"/><stop offset=".783" stop-color="#ef7b31"/><stop offset=".87" stop-color="#e63128"/><stop offset=".913" stop-color="#d92426"/><stop offset="1" stop-color="#7d1c23"/></linearGradient>
<linearGradient id="c171" gradientUnits="userSpaceOnUse" x1="0" y1="209" x2="0" y2="232"><stop offset="0" stop-color="#5cbed6"/><stop offset=".174" stop-color="#5ebed2"/><stop offset=".348" stop-color="#70beb3"/><stop offset=".478" stop-color="#89c588"/><stop offset=".565" stop-color="#bdd75c"/><stop offset=".609" stop-color="#e8e44b"/><stop offset=".652" stop-color="#f7d244"/><stop offset=".783" stop-color="#ef7931"/><stop offset=".87" stop-color="#e63028"/><stop offset=".913" stop-color="#d82426"/><stop offset="1" stop-color="#7d1c23"/></linearGradient>
<linearGradient id="c172" gradientUnits="userSpaceOnUse" x1="0" y1="209" x2="0" y2="232"><stop offset="0" stop-color="#60becf"/><stop offset=".217" stop-color="#64bec8"/><stop offset=".391" stop-color="#79c0a2"/><stop offset=".478" stop-color="#8ec783"/><stop offset=".565" stop-color="#c2d959"/><stop offset=".609" stop-color="#eee649"/><stop offset=".652" stop-color="#f7ce44"/><stop offset=".783" stop-color="#ef7731"/><stop offset=".87" stop-color="#e62f28"/><stop offset=".913" stop-color="#d72426"/><stop offset="1" stop-color="#7d1c23"/></linearGradient>
<linearGradient id="c173" gradientUnits="userSpaceOnUse" x1="0" y1="210" x2="0" y2="232"><stop offset="0" stop-color="#64bec8"/><stop offset=".182" stop-color="#68bec2"/><stop offset=".364" stop-color="#7bc19d"/><stop offset=".409" stop-color="#82c290"/><stop offset=".5" stop-color="#acd16b"/><stop offset=".545" stop-color="#c9db57"/><stop offset=".591" stop-color="#f4e747"/><stop offset=".682" stop-color="#f6ae3e"/><stop offset=".773" stop-color="#ee7530"/><stop offset=".864" stop-color="#e62e28"/><stop offset=".909" stop-color="#d72426"/><stop offset="1" stop-color="#7d1c23"/></linearGradient>
<linearGradient id="c174" gradientUnits="userSpaceOnUse" x1="0" y1="210" x2="0" y2="232"><stop offset="0" stop-color="#68bec1"/><stop offset=".182" stop-color="#6cbebc"/><stop offset=".364" stop-color="#7ec199"/><stop offset=".409" stop-color="#84c38c"/><stop offset=".5" stop-color="#b1d366"/><stop offset=".591" stop-color="#f6e546"/><stop offset=".773" stop-color="#ee7330"/><stop offset=".864" stop-color="#e62e28"/><stop offset=".909" stop-color="#d62426"/><stop offset="1" stop-color="#7d1c23"/></linearGradient>
<linearGradient id="c175" gradientUnits="userSpaceOnUse" x1="0" y1="210" x2="0" y2="232"><stop offset="0" stop-color="#6cbebb"/><stop offset=".182" stop-color="#6fbeb5"/><stop offset=".364" stop-color="#80c294"/><stop offset=".409" stop-color="#8bc586"/><stop offset=".5" stop-color="#b6d562"/><stop offset=".545" stop-color="#d7df51"/><stop offset=".591" stop-color="#f6e145"/><stop offset=".773" stop-color="#ee7130"/><stop offset=".864" stop-color="#e52d28"/><stop offset=".909" stop-color="#d52426"/><stop offset="1" stop-color="#7d1c23"/></linearGradient>
<linearGradient id="c176" gradientUnits="userSpaceOnUse" x1="0" y1="210" x2="0" y2="232"><stop offset="0" stop-color="#70beb4"/><stop offset=".182" stop-color="#72bfaf"/><stop offset=".364" stop-color="#82c38f"/><stop offset=".455" stop-color="#a6cf70"/><stop offset=".5" stop-color="#bcd65e"/><stop offset=".545" stop-color="#dfe14f"/><stop offset=".591" stop-color="#f7dc45"/><stop offset=".773" stop-color="#ee6f30"/><stop offset=".864" stop-color="#e52d28"/><stop offset=".909" stop-color="#d42426"/><stop offset="1" stop-color="#7d1c23"/></linearGradient>
<linearGradient id="c177" gradientUnits="userSpaceOnUse" x1="0" y1="210" x2="0" y2="232"><stop offset="0" stop-color="#74bfad"/><stop offset=".182" stop-color="#76bfa9"/><stop offset=".364" stop-color="#86c48a"/><stop offset=".5" stop-color="#c2d959"/><stop offset=".545" stop-color="#e6e34c"/><stop offset=".591" stop-color="#f7d845"/><stop offset=".773" stop-color="#ed6d2f"/><stop offset=".864" stop-color="#e42d28"/><stop offset=".909" stop-color="#d32326"/><stop offset="1" stop-color="#7d1c23"/></linearGradient>
<linearGradient id="c178" gradientUnits="userSpaceOnUse" x1="0" y1="210" x2="0" y2="232"><stop offset="0" stop-color="#77c0a6"/><stop offset=".182" stop-color="#79c0a2"/><stop offset=".318" stop-color="#82c38f"/><stop offset=".409" stop-color="#9fcc76"/><stop offset=".5" stop-color="#cbdb56"/><stop offset=".545" stop-color="#eee649"/><stop offset=".591" stop-color="#f7d344"/><stop offset=".727" stop-color="#f18933"/><stop offset=".864" stop-color="#e42c28"/><stop offset=".909" stop-color="#d22326"/><stop offset="1" stop-color="#7d1c23"/></linearGradient>
<linearGradient id="c179" gradientUnits="userSpaceOnUse" x1="0" y1="210" x2="0" y2="232"><stop offset="0" stop-color="#7bc19f"/><stop offset=".227" stop-color="#7ec298"/><stop offset=".318" stop-color="#87c489"/><stop offset=".455" stop-color="#b8d561"/><stop offset=".545" stop-color="#f6e846"/><stop offset=".682" stop-color="#f49e3a"/><stop offset=".773" stop-color="#ed682f"/><stop offset=".864" stop-color="#e42c28"/><stop offset=".909" stop-color="#d22326"/><stop offset="1" stop-color="#7d1c23"/></linearGradient>
<linearGradient id="c180" gradientUnits="userSpaceOnUse" x1="0" y1="210" x2="0" y2="232"><stop offset="0" stop-color="#7ec198"/><stop offset=".227" stop-color="#81c292"/><stop offset=".273" stop-color="#84c38c"/><stop offset=".409" stop-color="#add16a"/><stop offset=".455" stop-color="#bed75b"/><stop offset=".545" stop-color="#f6e245"/><stop offset=".727" stop-color="#f08432"/><stop offset=".864" stop-color="#e32c28"/><stop offset=".909" stop-color="#d12326"/><stop offset="1" stop-color="#7d1c23"/></linearGradient>
<linearGradient id="c181" gradientUnits="userSpaceOnUse" x1="0" y1="211" x2="0" y2="232"><stop offset="0" stop-color="#81c291"/><stop offset=".19" stop-color="#85c38b"/><stop offset=".333" stop-color="#a5ce71"/><stop offset=".429" stop-color="#c8da57"/><stop offset=".476" stop-color="#e6e34c"/><stop offset=".524" stop-color="#f6dd45"/><stop offset=".714" stop-color="#f08132"/><stop offset=".857" stop-color="#e32b27"/><stop offset=".905" stop-color="#d02326"/><stop offset="1" stop-color="#7d1c23"/></linearGradient>
<linearGradient id="c182" gradientUnits="userSpaceOnUse" x1="0" y1="211" x2="0" y2="232"><stop offset="0" stop-color="#86c48a"/><stop offset=".19" stop-color="#8ec784"/><stop offset=".333" stop-color="#acd16b"/><stop offset=".381" stop-color="#bbd65e"/><stop offset=".476" stop-color="#efe649"/><stop offset=".524" stop-color="#f7d745"/><stop offset=".714" stop-color="#ef7e31"/><stop offset=".857" stop-color="#e22b27"/><stop offset=".905" stop-color="#cf2326"/><stop offset="1" stop-color="#7d1c23"/></linearGradient>
<linearGradient id="c183" gradientUnits="userSpaceOnUse" x1="0" y1="211" x2="0" y2="232"><stop offset="0" stop-color="#91c782"/><stop offset=".19" stop-color="#97ca7c"/><stop offset=".333" stop-color="#b4d464"/><stop offset=".381" stop-color="#c3d959"/><stop offset=".476" stop-color="#f6e646"/><stop offset=".619" stop-color="#f5a63c"/><stop offset=".714" stop-color="#ef7a31"/><stop offset=".81" stop-color="#e8402a"/><stop offset=".857" stop-color="#e22a27"/><stop offset=".905" stop-color="#ce2326"/><stop offset="1" stop-color="#7d1c23"/></linearGradient>
<linearGradient id="c184" gradientUnits="userSpaceOnUse" x1="0" y1="211" x2="0" y2="232"><stop offset="0" stop-color="#9bcb79"/><stop offset=".19" stop-color="#a1cd74"/><stop offset=".333" stop-color="#bcd65e"/><stop offset=".429" stop-color="#e7e34c"/><stop offset=".476" stop-color="#f6e045"/><stop offset=".667" stop-color="#f28f35"/><stop offset=".81" stop-color="#e83e2a"/><stop offset=".857" stop-color="#e12a27"/><stop offset=".905" stop-color="#cc2326"/><stop offset="1" stop-color="#7d1c23"/></linearGradient>
<linearGradient id="c185" gradientUnits="userSpaceOnUse" x1="0" y1="211" x2="0" y2="232"><stop offset="0" stop-color="#a5ce71"/><stop offset=".19" stop-color="#aad06d"/><stop offset=".333" stop-color="#c5da58"/><stop offset=".429" stop-color="#f1e748"/><stop offset=".524" stop-color="#f8c543"/><stop offset=".714" stop-color="#ee7430"/><stop offset=".81" stop-color="#e83c2a"/><stop offset=".857" stop-color="#e02927"/><stop offset=".905" stop-color="#cb2326"/><stop offset="1" stop-color="#7d1c23"/></linearGradient>
<linearGradient id="c186" gradientUnits="userSpaceOnUse" x1="0" y1="211" x2="0" y2="232"><stop offset="0" stop-color="#aed269"/><stop offset=".19" stop-color="#b3d365"/><stop offset=".286" stop-color="#c1d85a"/><stop offset=".429" stop-color="#f6e446"/><stop offset=".619" stop-color="#f39b39"/><stop offset=".714" stop-color="#ee7030"/><stop offset=".81" stop-color="#e73a29"/><stop offset=".857" stop-color="#e02927"/><stop offset=".905" stop-color="#ca2325"/><stop offset="1" stop-color="#7d1c23"/></linearGradient>
<linearGradient id="c187" gradientUnits="userSpaceOnUse" x1="0" y1="211" x2="0" y2="232"><stop offset="0" stop-color="#b8d561"/><stop offset=".19" stop-color="#bcd75d"/><stop offset=".286" stop-color="#cedc55"/><stop offset=".381" stop-color="#f0e648"/><stop offset=".476" stop-color="#f7cc44"/><stop offset=".667" stop-color="#f08532"/><stop offset=".81" stop-color="#e73829"/><stop offset=".857" stop-color="#df2827"/><stop offset=".905" stop-color="#c92325"/><stop offset="1" stop-color="#7d1c23"/></linearGradient>
<linearGradient id="c188" gradientUnits="userSpaceOnUse" x1="0" y1="211" x2="0" y2="232"><stop offset="0" stop-color="#c3d959"/><stop offset=".19" stop-color="#c8da57"/><stop offset=".381" stop-color="#f6e446"/><stop offset=".619" stop-color="#f29437"/><stop offset=".714" stop-color="#ed6a2f"/><stop offset=".81" stop-color="#e73629"/><stop offset=".857" stop-color="#df2827"/><stop offset=".905" stop-color="#c82225"/><stop offset="1" stop-color="#7d1c23"/></linearGradient>
<linearGradient id="c189" gradientUnits="userSpaceOnUse" x1="0" y1="212" x2="0" y2="232"><stop offset="0" stop-color="#d2dd53"/><stop offset=".15" stop-color="#d6df52"/><stop offset=".3" stop-color="#f6e846"/><stop offset=".55" stop-color="#f4a13a"/><stop offset=".7" stop-color="#ed662f"/><stop offset=".8" stop-color="#e73329"/><stop offset=".85" stop-color="#de2727"/><stop offset=".9" stop-color="#c72225"/><stop offset="1" stop-color="#7d1c23"/></linearGradient>
<linearGradient id="c190" gradientUnits="userSpaceOnUse" x1="0" y1="212" x2="0" y2="232"><stop offset="0" stop-color="#e1e24e"/><stop offset=".15" stop-color="#e5e34c"/><stop offset=".25" stop-color="#f5e846"/><stop offset=".4" stop-color="#f7c743"/><stop offset=".65" stop-color="#ef7931"/><stop offset=".8" stop-color="#e63128"/><stop offset=".85" stop-color="#de2727"/><stop offset=".9" stop-color="#c62225"/><stop offset="1" stop-color="#7d1c23"/></linearGradient>
<linearGradient id="c191" gradientUnits="userSpaceOnUse" x1="0" y1="212" x2="0" y2="232"><stop offset="0" stop-color="#efe648"/><stop offset=".2" stop-color="#f6e646"/><stop offset=".35" stop-color="#f7cc44"/><stop offset=".6" stop-color="#f18933"/><stop offset=".8" stop-color="#e62f28"/><stop offset=".85" stop-color="#dd2727"/><stop offset=".9" stop-color="#c42225"/><stop offset="1" stop-color="#7d1c23"/></linearGradient>
<linearGradient id="c192" gradientUnits="userSpaceOnUse" x1="0" y1="212" x2="0" y2="232"><stop offset="0" stop-color="#f6e246"/><stop offset=".2" stop-color="#f6dd45"/><stop offset=".4" stop-color="#f8b942"/><stop offset=".6" stop-color="#f08532"/><stop offset=".8" stop-color="#e52e28"/><stop offset=".85" stop-color="#dc2626"/><stop offset=".95" stop-color="#a21f24"/><stop offset="1" stop-color="#7d1c23"/></linearGradient>
<linearGradient id="c193" gradientUnits="userSpaceOnUse" x1="0" y1="212" x2="0" y2="232"><stop offset="0" stop-color="#f7d945"/><stop offset=".2" stop-color="#f7d444"/><stop offset=".4" stop-color="#f7b340"/><stop offset=".6" stop-color="#f08032"/><stop offset=".8" stop-color="#e52d28"/><stop offset=".85" stop-color="#dc2626"/><stop offset=".95" stop-color="#a11f24"/><stop offset="1" stop-color="#7d1c23"/></linearGradient>
<linearGradient id="c194" gradientUnits="userSpaceOnUse" x1="0" y1="212" x2="0" y2="232"><stop offset="0" stop-color="#f7cf44"/><stop offset=".2" stop-color="#f7cb43"/><stop offset=".45" stop-color="#f5a33b"/><stop offset=".6" stop-color="#ef7c31"/><stop offset=".8" stop-color="#e42c28"/><stop offset=".85" stop-color="#db2526"/><stop offset=".95" stop-color="#a11f24"/><stop offset="1" stop-color="#7d1c23"/></linearGradient>
<linearGradient id="c195" gradientUnits="userSpaceOnUse" x1="0" y1="212" x2="0" y2="232"><stop offset="0" stop-color="#f8c543"/><stop offset=".2" stop-color="#f8c243"/><stop offset=".45" stop-color="#f49e3a"/><stop offset=".6" stop-color="#ee7730"/><stop offset=".8" stop-color="#e32c28"/><stop offset=".85" stop-color="#db2526"/><stop offset=".95" stop-color="#a01f24"/><stop offset="1" stop-color="#7d1c23"/></linearGradient>
<linearGradient id="c196" gradientUnits="userSpaceOnUse" x1="0" y1="212" x2="0" y2="232"><stop offset="0" stop-color="#f8bc42"/><stop offset=".25" stop-color="#f7b641"/><stop offset=".45" stop-color="#f39938"/><stop offset=".6" stop-color="#ee7230"/><stop offset=".8" stop-color="#e22b27"/><stop offset=".85" stop-color="#da2426"/><stop offset="1" stop-color="#7d1c23"/></linearGradient>
<linearGradient id="c197" gradientUnits="userSpaceOnUse" x1="0" y1="213" x2="0" y2="232"><stop offset="0" stop-color="#f7b440"/><stop offset=".263" stop-color="#f6aa3d"/><stop offset=".474" stop-color="#f18a34"/><stop offset=".684" stop-color="#e94a2b"/><stop offset=".789" stop-color="#e12a27"/><stop offset=".842" stop-color="#d82426"/><stop offset="1" stop-color="#7d1c23"/></linearGradient>
<linearGradient id="c198" gradientUnits="userSpaceOnUse" x1="0" y1="213" x2="0" y2="232"><stop offset="0" stop-color="#f6ad3e"/><stop offset=".263" stop-color="#f5a43b"/><stop offset=".474" stop-color="#f08532"/><stop offset=".684" stop-color="#e9462b"/><stop offset=".737" stop-color="#e73329"/><stop offset=".842" stop-color="#d62426"/><stop offset="1" stop-color="#7d1c23"/></linearGradient>
<linearGradient id="c199" gradientUnits="userSpaceOnUse" x1="0" y1="213" x2="0" y2="232"><stop offset="0" stop-color="#f5a63c"/><stop offset=".263" stop-color="#f49e3a"/><stop offset=".474" stop-color="#ef7f31"/><stop offset=".684" stop-color="#e8432a"/><stop offset=".737" stop-color="#e63028"/><stop offset=".842" stop-color="#d42426"/><stop offset="1" stop-color="#7d1c23"/></linearGradient>
<linearGradient id="c200" gradientUnits="userSpaceOnUse" x1="0" y1="213" x2="0" y2="232"><stop offset="0" stop-color="#f49f3a"/><stop offset=".263" stop-color="#f39838"/><stop offset=".474" stop-color="#ef7a31"/><stop offset=".737" stop-color="#e62e28"/><stop offset=".842" stop-color="#d22326"/><stop offset="1" stop-color="#7d1c23"/></linearGradient>
<linearGradient id="c201" gradientUnits="userSpaceOnUse" x1="0" y1="213" x2="0" y2="232"><stop offset="0" stop-color="#f39838"/><stop offset=".263" stop-color="#f29236"/><stop offset=".421" stop-color="#ef7e31"/><stop offset=".684" stop-color="#e83c2a"/><stop offset=".737" stop-color="#e52d28"/><stop offset=".842" stop-color="#d12326"/><stop offset="1" stop-color="#7d1c23"/></linearGradient>
<linearGradient id="c202" gradientUnits="userSpaceOnUse" x1="0" y1="213" x2="0" y2="232"><stop offset="0" stop-color="#f29236"/><stop offset=".263" stop-color="#f18c34"/><stop offset=".421" stop-color="#ef7831"/><stop offset=".737" stop-color="#e42c28"/><stop offset=".789" stop-color="#dd2727"/><stop offset=".842" stop-color="#cf2326"/><stop offset="1" stop-color="#7d1c23"/></linearGradient>
<linearGradient id="c203" gradientUnits="userSpaceOnUse" x1="0" y1="213" x2="0" y2="232"><stop offset="0" stop-color="#f18c34"/><stop offset=".263" stop-color="#f08633"/><stop offset=".474" stop-color="#ed692f"/><stop offset=".737" stop-color="#e32b27"/><stop offset=".789" stop-color="#dd2626"/><stop offset=".895" stop-color="#b52125"/><stop offset="1" stop-color="#7d1c23"/></linearGradient>
<linearGradient id="c204" gradientUnits="userSpaceOnUse" x1="0" y1="213" x2="0" y2="232"><stop offset="0" stop-color="#f08532"/><stop offset=".263" stop-color="#ef8031"/><stop offset=".474" stop-color="#ec632e"/><stop offset=".684" stop-color="#e63228"/><stop offset=".789" stop-color="#dc2526"/><stop offset=".895" stop-color="#b42125"/><stop offset="1" stop-color="#7d1c23"/></linearGradient>
<linearGradient id="c205" gradientUnits="userSpaceOnUse" x1="0" y1="214" x2="0" y2="232"><stop offset="0" stop-color="#ef7e31"/><stop offset=".278" stop-color="#ee7430"/><stop offset=".556" stop-color="#e9492b"/><stop offset=".667" stop-color="#e62e28"/><stop offset=".778" stop-color="#db2526"/><stop offset=".944" stop-color="#9a1e24"/><stop offset="1" stop-color="#7d1c23"/></linearGradient>
<linearGradient id="c206" gradientUnits="userSpaceOnUse" x1="0" y1="214" x2="0" y2="232"><stop offset="0" stop-color="#ee7730"/><stop offset=".278" stop-color="#ed6e2f"/><stop offset=".556" stop-color="#e9442b"/><stop offset=".667" stop-color="#e52d28"/><stop offset=".778" stop-color="#da2426"/><stop offset=".944" stop-color="#991e24"/><stop offset="1" stop-color="#7d1c23"/></linearGradient>
<linearGradient id="c207" gradientUnits="userSpaceOnUse" x1="0" y1="214" x2="0" y2="232"><stop offset="0" stop-color="#ee6f30"/><stop offset=".278" stop-color="#ed672f"/><stop offset=".556" stop-color="#e8402a"/><stop offset=".722" stop-color="#df2827"/><stop offset=".778" stop-color="#d82426"/><stop offset=".944" stop-color="#981e24"/><stop offset="1" stop-color="#7d1c23"/></linearGradient>
<linearGradient id="c208" gradientUnits="userSpaceOnUse" x1="0" y1="214" x2="0" y2="232"><stop offset="0" stop-color="#ed682f"/><stop offset=".278" stop-color="#ec612e"/><stop offset=".556" stop-color="#e83c2a"/><stop offset=".667" stop-color="#e32b27"/><stop offset=".778" stop-color="#d62426"/><stop offset=".944" stop-color="#981e24"/><stop offset="1" stop-color="#7d1c23"/></linearGradient>
<linearGradient id="c209" gradientUnits="userSpaceOnUse" x1="0" y1="214" x2="0" y2="232"><stop offset="0" stop-color="#ec622e"/><stop offset=".278" stop-color="#eb5b2d"/><stop offset=".556" stop-color="#e73829"/><stop offset=".667" stop-color="#e22a27"/><stop offset=".778" stop-color="#d42326"/><stop offset=".944" stop-color="#971e24"/><stop offset="1" stop-color="#7d1c23"/></linearGradient>
<linearGradient id="c210" gradientUnits="userSpaceOnUse" x1="0" y1="214" x2="0" y2="232"><stop offset="0" stop-color="#eb5b2d"/><stop offset=".278" stop-color="#eb552d"/><stop offset=".667" stop-color="#e12927"/><stop offset=".778" stop-color="#d12326"/><stop offset=".944" stop-color="#971e24"/><stop offset="1" stop-color="#7d1c23"/></linearGradient>
<linearGradient id="c211" gradientUnits="userSpaceOnUse" x1="0" y1="214" x2="0" y2="232"><stop offset="0" stop-color="#ea552c"/><stop offset=".278" stop-color="#ea4f2c"/><stop offset=".667" stop-color="#df2927"/><stop offset=".778" stop-color="#cf2326"/><stop offset=".944" stop-color="#961e24"/><stop offset="1" stop-color="#7d1c23"/></linearGradient>
<linearGradient id="c212" gradientUnits="userSpaceOnUse" x1="0" y1="214" x2="0" y2="232"><stop offset="0" stop-color="#ea4e2c"/><stop offset=".333" stop-color="#e9462b"/><stop offset=".611" stop-color="#e22b27"/><stop offset=".722" stop-color="#da2426"/><stop offset=".889" stop-color="#aa2024"/><stop offset="1" stop-color="#7d1c23"/></linearGradient>
<linearGradient id="c213" gradientUnits="userSpaceOnUse" x1="0" y1="215" x2="0" y2="232"><stop offset="0" stop-color="#e9482b"/><stop offset=".294" stop-color="#e8412a"/><stop offset=".647" stop-color="#dd2727"/><stop offset=".706" stop-color="#d82426"/><stop offset=".882" stop-color="#a92024"/><stop offset="1" stop-color="#7d1c23"/></linearGradient>
<linearGradient id="c214" gradientUnits="userSpaceOnUse" x1="0" y1="215" x2="0" y2="232"><stop offset="0" stop-color="#e8432a"/><stop offset=".294" stop-color="#e83c2a"/><stop offset=".647" stop-color="#dc2626"/><stop offset=".765" stop-color="#c82225"/><stop offset=".941" stop-color="#941e24"/><stop offset="1" stop-color="#7d1c23"/></linearGradient>
<linearGradient id="c215" gradientUnits="userSpaceOnUse" x1="0" y1="215" x2="0" y2="232"><stop offset="0" stop-color="#e83d2a"/><stop offset=".353" stop-color="#e73329"/><stop offset=".647" stop-color="#db2526"/><stop offset=".824" stop-color="#b82125"/><stop offset="1" stop-color="#7d1c23"/></linearGradient>
<linearGradient id="c216" gradientUnits="userSpaceOnUse" x1="0" y1="215" x2="0" y2="232"><stop offset="0" stop-color="#e73829"/><stop offset=".529" stop-color="#e02927"/><stop offset=".647" stop-color="#da2426"/><stop offset=".824" stop-color="#b62125"/><stop offset="1" stop-color="#7d1c23"/></linearGradient>
<linearGradient id="c217" gradientUnits="userSpaceOnUse" x1="0" y1="215" x2="0" y2="232"><stop offset="0" stop-color="#e73329"/><stop offset=".529" stop-color="#df2827"/><stop offset=".647" stop-color="#d82426"/><stop offset=".882" stop-color="#a51f24"/><stop offset="1" stop-color="#7d1c23"/></linearGradient>
<linearGradient id="c218" gradientUnits="userSpaceOnUse" x1="0" y1="215" x2="0" y2="232"><stop offset="0" stop-color="#e62e28"/><stop offset=".588" stop-color="#db2526"/><stop offset=".765" stop-color="#c02225"/><stop offset=".941" stop-color="#921e24"/><stop offset="1" stop-color="#7d1c23"/></linearGradient>
<linearGradient id="c219" gradientUnits="userSpaceOnUse" x1="0" y1="215" x2="0" y2="232"><stop offset="0" stop-color="#e42c28"/><stop offset=".588" stop-color="#da2426"/><stop offset=".824" stop-color="#b12125"/><stop offset="1" stop-color="#7d1c23"/></linearGradient>
<linearGradient id="c220" gradientUnits="userSpaceOnUse" x1="0" y1="215" x2="0" y2="232"><stop offset="0" stop-color="#e32b27"/><stop offset=".529" stop-color="#dc2526"/><stop offset=".706" stop-color="#c72225"/><stop offset=".882" stop-color="#a21f24"/><stop offset="1" stop-color="#7d1c23"/></linearGradient>
<linearGradient id="c221" gradientUnits="userSpaceOnUse" x1="0" y1="216" x2="0" y2="232"><stop offset="0" stop-color="#e12a27"/><stop offset=".5" stop-color="#da2426"/><stop offset=".75" stop-color="#ba2125"/><stop offset=".938" stop-color="#901e24"/><stop offset="1" stop-color="#7d1c23"/></linearGradient>
<linearGradient id="c222" gradientUnits="userSpaceOnUse" x1="0" y1="216" x2="0" y2="232"><stop offset="0" stop-color="#e02927"/><stop offset=".5" stop-color="#d82426"/><stop offset=".812" stop-color="#ad2025"/><stop offset="1" stop-color="#7d1c23"/></linearGradient>
<linearGradient id="c223" gradientUnits="userSpaceOnUse" x1="0" y1="216" x2="0" y2="232"><stop offset="0" stop-color="#de2727"/><stop offset=".5" stop-color="#d52426"/><stop offset=".812" stop-color="#ac2025"/><stop offset="1" stop-color="#7d1c23"/></linearGradient>
<linearGradient id="c224" gradientUnits="userSpaceOnUse" x1="0" y1="216" x2="0" y2="232"><stop offset="0" stop-color="#dd2626"/><stop offset=".438" stop-color="#d72426"/><stop offset=".75" stop-color="#b52125"/><stop offset=".938" stop-color="#8f1e24"/><stop offset="1" stop-color="#7d1c23"/></linearGradient>
<linearGradient id="c225" gradientUnits="userSpaceOnUse" x1="0" y1="216" x2="0" y2="232"><stop offset="0" stop-color="#db2526"/><stop offset=".375" stop-color="#d72426"/><stop offset=".688" stop-color="#bc2125"/><stop offset=".938" stop-color="#8e1d24"/><stop offset="1" stop-color="#7d1c23"/></linearGradient>
<linearGradient id="c226" gradientUnits="userSpaceOnUse" x1="0" y1="216" x2="0" y2="232"><stop offset="0" stop-color="#da2426"/><stop offset=".438" stop-color="#d02326"/><stop offset=".75" stop-color="#b22125"/><stop offset=".938" stop-color="#8e1d24"/><stop offset="1" stop-color="#7d1c23"/></linearGradient>
<linearGradient id="c227" gradientUnits="userSpaceOnUse" x1="0" y1="216" x2="0" y2="232"><stop offset="0" stop-color="#d72426"/><stop offset=".438" stop-color="#cd2326"/><stop offset=".75" stop-color="#b02025"/><stop offset=".938" stop-color="#8d1d24"/><stop offset="1" stop-color="#7d1c23"/></linearGradient>
<linearGradient id="c228" gradientUnits="userSpaceOnUse" x1="0" y1="217" x2="0" y2="232"><stop offset="0" stop-color="#d32326"/><stop offset=".467" stop-color="#c72225"/><stop offset=".8" stop-color="#a51f24"/><stop offset="1" stop-color="#7d1c23"/></linearGradient>
<linearGradient id="c229" gradientUnits="userSpaceOnUse" x1="0" y1="217" x2="0" y2="232"><stop offset="0" stop-color="#d02326"/><stop offset=".467" stop-color="#c42225"/><stop offset=".8" stop-color="#a41f24"/><stop offset="1" stop-color="#7d1c23"/></linearGradient>
<linearGradient id="c230" gradientUnits="userSpaceOnUse" x1="0" y1="217" x2="0" y2="232"><stop offset="0" stop-color="#cc2326"/><stop offset=".467" stop-color="#c22225"/><stop offset=".8" stop-color="#a31f24"/><stop offset="1" stop-color="#7d1c23"/></linearGradient>
<linearGradient id="c231" gradientUnits="userSpaceOnUse" x1="0" y1="217" x2="0" y2="232"><stop offset="0" stop-color="#c92325"/><stop offset=".467" stop-color="#bf2225"/><stop offset=".8" stop-color="#a21f24"/><stop offset="1" stop-color="#7d1c23"/></linearGradient>
<linearGradient id="c232" gradientUnits="userSpaceOnUse" x1="0" y1="217" x2="0" y2="232"><stop offset="0" stop-color="#c62225"/><stop offset=".467" stop-color="#bd2125"/><stop offset=".8" stop-color="#a01f24"/><stop offset="1" stop-color="#7d1c23"/></linearGradient>
<linearGradient id="c233" gradientUnits="userSpaceOnUse" x1="0" y1="217" x2="0" y2="232"><stop offset="0" stop-color="#c32225"/><stop offset=".467" stop-color="#bb2125"/><stop offset=".8" stop-color="#9f1f24"/><stop offset="1" stop-color="#7d1c23"/></linearGradient>
<linearGradient id="c234" gradientUnits="userSpaceOnUse" x1="0" y1="217" x2="0" y2="232"><stop offset="0" stop-color="#c02225"/><stop offset=".467" stop-color="#b82125"/><stop offset=".8" stop-color="#9e1f24"/><stop offset="1" stop-color="#7d1c23"/></linearGradient>
<linearGradient id="c235" gradientUnits="userSpaceOnUse" x1="0" y1="217" x2="0" y2="232"><stop offset="0" stop-color="#be2225"/><stop offset=".533" stop-color="#b32125"/><stop offset=".867" stop-color="#951e24"/><stop offset="1" stop-color="#7d1c23"/></linearGradient>
<linearGradient id="c236" gradientUnits="userSpaceOnUse" x1="0" y1="218" x2="0" y2="232"><stop offset="0" stop-color="#bb2125"/><stop offset=".5" stop-color="#b12025"/><stop offset=".857" stop-color="#941e24"/><stop offset="1" stop-color="#7d1c23"/></linearGradient>
<linearGradient id="c237" gradientUnits="userSpaceOnUse" x1="0" y1="218" x2="0" y2="232"><stop offset="0" stop-color="#b92125"/><stop offset=".5" stop-color="#af2025"/><stop offset=".857" stop-color="#931e24"/><stop offset="1" stop-color="#7d1c23"/></linearGradient>
<linearGradient id="c238" gradientUnits="userSpaceOnUse" x1="0" y1="218" x2="0" y2="232"><stop offset="0" stop-color="#b62125"/><stop offset=".571" stop-color="#aa2024"/><stop offset=".857" stop-color="#921e24"/><stop offset="1" stop-color="#7d1c23"/></linearGradient>
<linearGradient id="c239" gradientUnits="userSpaceOnUse" x1="0" y1="218" x2="0" y2="232"><stop offset="0" stop-color="#b42125"/><stop offset=".571" stop-color="#a92024"/><stop offset=".857" stop-color="#921e24"/><stop offset="1" stop-color="#7d1c23"/></linearGradient>
<linearGradient id="c240" gradientUnits="userSpaceOnUse" x1="0" y1="218" x2="0" y2="232"><stop offset="0" stop-color="#b22125"/><stop offset=".571" stop-color="#a72024"/><stop offset=".929" stop-color="#881d23"/><stop offset="1" stop-color="#7d1c23"/></linearGradient>
<linearGradient id="c241" gradientUnits="userSpaceOnUse" x1="0" y1="218" x2="0" y2="232"><stop offset="0" stop-color="#b02025"/><stop offset=".571" stop-color="#a61f24"/><stop offset=".929" stop-color="#881d23"/><stop offset="1" stop-color="#7d1c23"/></linearGradient>
<linearGradient id="c242" gradientUnits="userSpaceOnUse" x1="0" y1="218" x2="0" y2="232"><stop offset="0" stop-color="#ae2025"/><stop offset=".571" stop-color="#a41f24"/><stop offset=".929" stop-color="#881d23"/><stop offset="1" stop-color="#7d1c23"/></linearGradient>
<linearGradient id="c243" gradientUnits="userSpaceOnUse" x1="0" y1="218" x2="0" y2="232"><stop offset="0" stop-color="#ac2025"/><stop offset=".571" stop-color="#a31f24"/><stop offset=".929" stop-color="#871d23"/><stop offset="1" stop-color="#7d1c23"/></linearGradient>
<linearGradient id="c244" gradientUnits="userSpaceOnUse" x1="0" y1="219" x2="0" y2="232"><stop offset="0" stop-color="#aa2024"/><stop offset=".615" stop-color="#9e1f24"/><stop offset=".923" stop-color="#871d23"/><stop offset="1" stop-color="#7d1c23"/></linearGradient>
<linearGradient id="c245" gradientUnits="userSpaceOnUse" x1="0" y1="219" x2="0" y2="232"><stop offset="0" stop-color="#a82024"/><stop offset=".615" stop-color="#9d1f24"/><stop offset=".923" stop-color="#871d23"/><stop offset="1" stop-color="#7d1c23"/></linearGradient>
<linearGradient id="c246" gradientUnits="userSpaceOnUse" x1="0" y1="219" x2="0" y2="232"><stop offset="0" stop-color="#a72024"/><stop offset=".615" stop-color="#9c1f24"/><stop offset=".923" stop-color="#861d23"/><stop offset="1" stop-color="#7d1c23"/></linearGradient>
<linearGradient id="c247" gradientUnits="userSpaceOnUse" x1="0" y1="219" x2="0" y2="232"><stop offset="0" stop-color="#a51f24"/><stop offset=".615" stop-color="#9b1f24"/><stop offset=".923" stop-color="#861d23"/><stop offset="1" stop-color="#7d1c23"/></linearGradient>
<linearGradient id="c248" gradientUnits="userSpaceOnUse" x1="0" y1="219" x2="0" y2="232"><stop offset="0" stop-color="#a41f24"/><stop offset=".615" stop-color="#9a1f24"/><stop offset=".923" stop-color="#861d23"/><stop offset="1" stop-color="#7d1c23"/></linearGradient>
<linearGradient id="c249" gradientUnits="userSpaceOnUse" x1="0" y1="219" x2="0" y2="232"><stop offset="0" stop-color="#a11f24"/><stop offset=".615" stop-color="#991e24"/><stop offset="1" stop-color="#7d1c23"/></linearGradient>
<linearGradient id="c250" gradientUnits="userSpaceOnUse" x1="0" y1="219" x2="0" y2="232"><stop offset="0" stop-color="#9f1f24"/><stop offset=".692" stop-color="#941e24"/><stop offset="1" stop-color="#7d1c23"/></linearGradient>
<linearGradient id="c251" gradientUnits="userSpaceOnUse" x1="0" y1="220" x2="0" y2="232"><stop offset="0" stop-color="#9c1f24"/><stop offset=".667" stop-color="#921e24"/><stop offset="1" stop-color="#7d1c23"/></linearGradient>
<linearGradient id="c252" gradientUnits="userSpaceOnUse" x1="0" y1="220" x2="0" y2="232"><stop offset="0" stop-color="#9a1e24"/><stop offset=".667" stop-color="#911e24"/><stop offset="1" stop-color="#7d1c23"/></linearGradient>
<linearGradient id="c253" gradientUnits="userSpaceOnUse" x1="0" y1="220" x2="0" y2="232"><stop offset="0" stop-color="#981e24"/><stop offset=".75" stop-color="#8d1d24"/><stop offset="1" stop-color="#7d1c23"/></linearGradient>
<linearGradient id="c254" gradientUnits="userSpaceOnUse" x1="0" y1="220" x2="0" y2="232"><stop offset="0" stop-color="#961e24"/><stop offset=".75" stop-color="#8c1d23"/><stop offset="1" stop-color="#7d1c23"/></linearGradient>
<linearGradient id="c255" gradientUnits="userSpaceOnUse" x1="0" y1="221" x2="0" y2="232"><stop offset="0" stop-color="#941e24"/><stop offset=".727" stop-color="#8b1d23"/><stop offset="1" stop-color="#7d1c23"/></linearGradient>
<linearGradient id="c256" gradientUnits="userSpaceOnUse" x1="0" y1="221" x2="0" y2="232"><stop offset="0" stop-color="#921e24"/><stop offset=".818" stop-color="#871d23"/><stop offset="1" stop-color="#7d1c23"/></linearGradient>
<linearGradient id="c257" gradientUnits="userSpaceOnUse" x1="0" y1="221" x2="0" y2="232"><stop offset="0" stop-color="#911e24"/><stop offset=".818" stop-color="#861d23"/><stop offset="1" stop-color="#7d1c23"/></linearGradient>
<linearGradient id="c258" gradientUnits="userSpaceOnUse" x1="0" y1="221" x2="0" y2="232"><stop offset="0" stop-color="#8f1e24"/><stop offset=".818" stop-color="#851d23"/><stop offset="1" stop-color="#7d1c23"/></linearGradient>
<linearGradient id="c259" gradientUnits="userSpaceOnUse" x1="0" y1="222" x2="0" y2="232"><stop offset="0" stop-color="#8e1d24"/><stop offset=".8" stop-color="#851d23"/><stop offset="1" stop-color="#7d1c23"/></linearGradient>
<linearGradient id="c260" gradientUnits="userSpaceOnUse" x1="0" y1="222" x2="0" y2="232"><stop offset="0" stop-color="#8d1d24"/><stop offset=".9" stop-color="#811c23"/><stop offset="1" stop-color="#7d1c23"/></linearGradient>
<linearGradient id="c261" gradientUnits="userSpaceOnUse" x1="0" y1="222" x2="0" y2="232"><stop offset="0" stop-color="#8c1d23"/><stop offset=".9" stop-color="#811c23"/><stop offset="1" stop-color="#7d1c23"/></linearGradient>
<linearGradient id="c262" gradientUnits="userSpaceOnUse" x1="0" y1="222" x2="0" y2="232"><stop offset="0" stop-color="#8a1d23"/><stop offset=".9" stop-color="#811c23"/><stop offset="1" stop-color="#7d1c23"/></linearGradient>
<linearGradient id="c263" gradientUnits="userSpaceOnUse" x1="0" y1="223" x2="0" y2="232"><stop offset="0" stop-color="#891d23"/><stop offset=".889" stop-color="#801c23"/><stop offset="1" stop-color="#7d1c23"/></linearGradient>
<linearGradient id="c264" gradientUnits="userSpaceOnUse" x1="0" y1="223" x2="0" y2="232"><stop offset="0" stop-color="#881d23"/><stop offset="1" stop-color="#7d1c23"/></linearGradient>
<linearGradient id="c265" gradientUnits="userSpaceOnUse" x1="0" y1="223" x2="0" y2="232"><stop offset="0" stop-color="#881d23"/><stop offset="1" stop-color="#7d1c23"/></linearGradient>
<linearGradient id="c266" gradientUnits="userSpaceOnUse" x1="0" y1="223" x2="0" y2="232"><stop offset="0" stop-color="#871d23"/><stop offset="1" stop-color="#7d1c23"/></linearGradient>
<linearGradient id="c267" gradientUnits="userSpaceOnUse" x1="0" y1="224" x2="0" y2="232"><stop offset="0" stop-color="#861d23"/><stop offset="1" stop-color="#7d1c23"/></linearGradient>
<linearGradient id="c268" gradientUnits="userSpaceOnUse" x1="0" y1="224" x2="0" y2="232"><stop offset="0" stop-color="#851d23"/><stop offset="1" stop-color="#7d1c23"/></linearGradient>
<linearGradient id="c269" gradientUnits="userSpaceOnUse" x1="0" y1="224" x2="0" y2="232"><stop offset="0" stop-color="#851d23"/><stop offset="1" stop-color="#7d1c23"/></linearGradient>
<linearGradient id="c270" gradientUnits="userSpaceOnUse" x1="0" y1="224" x2="0" y2="232"><stop offset="0" stop-color="#841d23"/><stop offset="1" stop-color="#7d1c23"/></linearGradient>
<linearGradient id="c271" gradientUnits="userSpaceOnUse" x1="0" y1="225" x2="0" y2="232"><stop offset="0" stop-color="#831d23"/><stop offset="1" stop-color="#7d1c23"/></linearGradient>
<linearGradient id="c272" gradientUnits="userSpaceOnUse" x1="0" y1="225" x2="0" y2="232"><stop offset="0" stop-color="#831c23"/><stop offset="1" stop-color="#7d1c23"/></linearGradient>
<linearGradient id="c273" gradientUnits="userSpaceOnUse" x1="0" y1="225" x2="0" y2="232"><stop offset="0" stop-color="#821c23"/><stop offset="1" stop-color="#7d1c23"/></linearGradient>
<linearGradient id="c274" gradientUnits="userSpaceOnUse" x1="0" y1="225" x2="0" y2="232"><stop offset="0" stop-color="#821c23"/><stop offset="1" stop-color="#7d1c23"/></linearGradient>
<linearGradient id="c275" gradientUnits="userSpaceOnUse" x1="0" y1="226" x2="0" y2="232"><stop offset="0" stop-color="#811c23"/><stop offset="1" stop-color="#7d1c23"/></linearGradient>
<linearGradient id="c276" gradientUnits="userSpaceOnUse" x1="0" y1="226" x2="0" y2="232"><stop offset="0" stop-color="#811c23"/><stop offset="1" stop-color="#7d1c23"/></linearGradient>
<linearGradient id="c277" gradientUnits="userSpaceOnUse" x1="0" y1="226" x2="0" y2="232"><stop offset="0" stop-color="#811c23"/><stop offset="1" stop-color="#7d1c23"/></linearGradient>
<linearGradient id="c278" gradientUnits="userSpaceOnUse" x1="0" y1="226" x2="0" y2="232"><stop offset="0" stop-color="#801c23"/><stop offset="1" stop-color="#7d1c23"/></linearGradient>
<linearGradient id="c279" gradientUnits="userSpaceOnUse" x1="0" y1="227" x2="0" y2="232"><stop offset="0" stop-color="#801c23"/><stop offset="1" stop-color="#7d1c23"/></linearGradient>
<linearGradient id="c280" gradientUnits="userSpaceOnUse" x1="0" y1="227" x2="0" y2="232"><stop offset="0" stop-color="#7f1c23"/><stop offset="1" stop-color="#7d1c23"/></linearGradient>
<linearGradient id="c281" gradientUnits="userSpaceOnUse" x1="0" y1="227" x2="0" y2="232"><stop offset="0" stop-color="#7f1c23"/><stop offset="1" stop-color="#7d1c23"/></linearGradient>
</defs>

<!-- ============ PANEL A ============ -->
<text x="17" y="31" font-size="28" fill="#111">A</text>
<text class="j" x="61.6" y="29.3" font-size="14.4" letter-spacing=".3">アクトミオシンの単位構造</text>
<rect x="44.9" y="35.2" width="206.1" height="99.4" fill="none" stroke="#1a1a1a" stroke-width="1.4"/>
<text class="j" x="54.6" y="50.6" font-size="13.3">力の双極子</text>
<text class="j" x="151.2" y="51.8" font-size="13.3" letter-spacing=".5">トルクの双極子</text>

<!-- gray force arrows -->
<g fill="#6e6e6e" stroke="none">
<rect x="101" y="57.5" width="36.8" height="1.8"/>
<path d="M96.5,58.4 L104.8,54.8 L102.4,58.4 L104.8,62 Z"/>
<rect x="147.6" y="128.4" width="35.8" height="1.8"/>
<path d="M187.6,129.3 L179.3,125.7 L181.7,129.3 L179.3,132.9 Z"/>
</g>

<!-- filaments -->
<g fill="#ec1c24" stroke="#6a0c10" stroke-width="0.55"><circle cx="93.00" cy="69.56" r="2.8"/><circle cx="97.60" cy="68.80" r="2.8"/><circle cx="134.40" cy="76.20" r="2.8"/><circle cx="139.00" cy="75.44" r="2.8"/><circle cx="143.60" cy="74.09" r="2.8"/><circle cx="148.20" cy="72.43" r="2.8"/><circle cx="152.80" cy="70.77" r="2.8"/><circle cx="157.40" cy="69.47" r="2.8"/><circle cx="162.00" cy="68.77" r="2.8"/><circle cx="104.50" cy="75.94" r="2.8"/><circle cx="109.10" cy="74.88" r="2.8"/><circle cx="113.70" cy="73.35" r="2.8"/><circle cx="118.30" cy="71.65" r="2.8"/><circle cx="122.90" cy="70.12" r="2.8"/><circle cx="127.50" cy="69.06" r="2.8"/><circle cx="164.30" cy="76.30" r="2.8"/><circle cx="168.90" cy="75.87" r="2.8"/><circle cx="173.50" cy="74.76" r="2.8"/><circle cx="178.10" cy="73.20" r="2.8"/><circle cx="182.70" cy="71.50" r="2.8"/><circle cx="187.30" cy="70.00" r="2.8"/><circle cx="102.20" cy="68.79" r="2.8"/><circle cx="106.80" cy="69.52" r="2.8"/><circle cx="111.40" cy="70.84" r="2.8"/><circle cx="116.00" cy="72.50" r="2.8"/><circle cx="120.60" cy="74.16" r="2.8"/><circle cx="125.20" cy="75.48" r="2.8"/><circle cx="129.80" cy="76.21" r="2.8"/><circle cx="166.60" cy="68.82" r="2.8"/><circle cx="171.20" cy="69.61" r="2.8"/><circle cx="175.80" cy="70.98" r="2.8"/><circle cx="180.40" cy="72.65" r="2.8"/><circle cx="185.00" cy="74.29" r="2.8"/><circle cx="189.60" cy="75.57" r="2.8"/><circle cx="95.30" cy="75.90" r="2.8"/><circle cx="99.90" cy="76.30" r="2.8"/><circle cx="132.10" cy="68.70" r="2.8"/><circle cx="136.70" cy="69.10" r="2.8"/><circle cx="141.30" cy="70.18" r="2.8"/><circle cx="145.90" cy="71.72" r="2.8"/><circle cx="150.50" cy="73.42" r="2.8"/><circle cx="155.10" cy="74.94" r="2.8"/><circle cx="159.70" cy="75.97" r="2.8"/><circle cx="93.50" cy="119.06" r="2.8"/><circle cx="98.10" cy="118.44" r="2.8"/><circle cx="102.70" cy="117.19" r="2.8"/><circle cx="107.30" cy="115.56" r="2.8"/><circle cx="111.90" cy="113.88" r="2.8"/><circle cx="116.50" cy="112.48" r="2.8"/><circle cx="121.10" cy="111.65" r="2.8"/><circle cx="157.90" cy="119.03" r="2.8"/><circle cx="162.50" cy="118.35" r="2.8"/><circle cx="167.10" cy="117.06" r="2.8"/><circle cx="171.70" cy="115.41" r="2.8"/><circle cx="176.30" cy="113.74" r="2.8"/><circle cx="180.90" cy="112.39" r="2.8"/><circle cx="185.50" cy="111.61" r="2.8"/><circle cx="128.00" cy="118.81" r="2.8"/><circle cx="132.60" cy="117.82" r="2.8"/><circle cx="137.20" cy="116.33" r="2.8"/><circle cx="141.80" cy="114.63" r="2.8"/><circle cx="146.40" cy="113.07" r="2.8"/><circle cx="151.00" cy="111.95" r="2.8"/><circle cx="155.60" cy="111.50" r="2.8"/><circle cx="125.70" cy="111.55" r="2.8"/><circle cx="130.30" cy="112.20" r="2.8"/><circle cx="134.90" cy="113.48" r="2.8"/><circle cx="139.50" cy="115.11" r="2.8"/><circle cx="144.10" cy="116.79" r="2.8"/><circle cx="148.70" cy="118.17" r="2.8"/><circle cx="153.30" cy="118.97" r="2.8"/><circle cx="190.10" cy="111.58" r="2.8"/><circle cx="95.80" cy="111.76" r="2.8"/><circle cx="100.40" cy="112.72" r="2.8"/><circle cx="105.00" cy="114.20" r="2.8"/><circle cx="109.60" cy="115.89" r="2.8"/><circle cx="114.20" cy="117.47" r="2.8"/><circle cx="118.80" cy="118.62" r="2.8"/><circle cx="123.40" cy="119.09" r="2.8"/><circle cx="160.20" cy="111.82" r="2.8"/><circle cx="164.80" cy="112.83" r="2.8"/><circle cx="169.40" cy="114.34" r="2.8"/><circle cx="174.00" cy="116.04" r="2.8"/><circle cx="178.60" cy="117.59" r="2.8"/><circle cx="183.20" cy="118.69" r="2.8"/><circle cx="187.80" cy="119.10" r="2.8"/></g>

<!-- myosin -->
<g stroke="#1d2a20" stroke-width="0.8">
<line x1="148.1" y1="88" x2="132.1" y2="97.8" stroke="#1d2a20" stroke-width="4"/>
<line x1="148.1" y1="88" x2="132.1" y2="97.8" stroke="#2fb56f" stroke-width="2.8"/>
<line x1="148.1" y1="88" x2="132.1" y2="97.8" stroke="#1d2a20" stroke-width="0.7"/>
<ellipse cx="146.5" cy="80.8" rx="5.9" ry="2.2" transform="rotate(62 146.5 80.8)" fill="#2fb56f"/>
<ellipse cx="156.7" cy="89.6" rx="6.6" ry="2.3" transform="rotate(11 156.7 89.6)" fill="#2fb56f"/>
<ellipse cx="124.6" cy="97.6" rx="6.5" ry="2.3" transform="rotate(9 124.6 97.6)" fill="#2fb56f"/>
<ellipse cx="134.4" cy="107.3" rx="6.2" ry="2.2" transform="rotate(61 134.4 107.3)" fill="#2fb56f"/>
</g>

<!-- torque arrows -->
<g fill="none" stroke="#111" stroke-width="1.7" stroke-linecap="round">
<path d="M171.2,86.6 C185.5,84 185.5,64.5 174.5,61.2"/>
<path d="M112,101 C98.5,103.5 98.5,123.5 109,127.8"/>
</g>
<g fill="#111">
<path d="M168.2,60.6 L176.5,57 L174.4,61.3 L175.6,65 Z"/>
<path d="M115,128.3 L106.8,124.6 L108.8,128 L107.6,132 Z"/>
</g>

<!-- funnel lines -->
<g fill="none" stroke="#111" stroke-width="1.3">
<path d="M92.5,135 C98.5,150 124.5,179 133.6,194"/>
<path d="M190.2,135 C184.2,150 158.2,179 149.2,194"/>
</g>

<!-- cell -->
<circle cx="141.2" cy="254.8" r="88.3" fill="none" stroke="#111" stroke-width="1.3"/>
<g fill="none" stroke="#8a2230" stroke-width="1.35">
<circle cx="140.9" cy="254.5" r="56.4"/>
<circle cx="140.9" cy="254.5" r="62.1"/>
<circle cx="140.9" cy="254.5" r="68"/>
<circle cx="140.9" cy="254.5" r="73.8"/>
</g>
<circle cx="141" cy="254.9" r="24.5" fill="url(#nuc)" stroke="#5a5a5a" stroke-width="0.6"/>
<text x="133" y="259.8" font-size="15" fill="#111">核</text>

<!-- gray arrowheads -->
<g fill="#5c5c5c" stroke="#444" stroke-width="0.3">
<path d="M128.5,201 L153.7,201 L141.1,209.3 Z M138.2,197.8 h6 v3.2 h-6 Z"/>
<path d="M128.4,310.5 L153.9,310.5 L140.8,302.8 Z M137.7,310.5 h6.2 v3.4 h-6.2 Z"/>
<path d="M84.9,243.4 L84.9,267.3 L93.2,255.4 Z M81.8,252.1 h3.1 v6.7 h-3.1 Z"/>
<path d="M195.8,242.9 L195.8,267.8 L187.4,255.3 Z M195.8,252.7 h2.8 v6.1 h-2.8 Z"/>
</g>

<!-- magenta arrows -->
<g id="ma">
<path d="M154.1,206.5 A50,50 0 0 1 183.5,229" fill="none" stroke="#e5007d" stroke-width="2.6"/>
<path d="M189,243.6 L178,226.6 L184.2,229.2 L189.4,224.8 Z" fill="#e5007d"/>
</g>
<use href="#ma" transform="rotate(180 141.1 255)"/>

<!-- pointer -->
<line x1="91.9" y1="343.3" x2="102.5" y2="325" stroke="#111" stroke-width="1.2"/>
<path d="M104.4,321.3 L104.6,327.3 L100.3,324.8 Z" fill="#111"/>

<text class="j" x="22.2" y="357.5" font-size="14.4" letter-spacing=".3">アクトミオシンリング</text>
<text class="j" x="79.6" y="386.6" font-size="14.4" letter-spacing=".3">細胞を上から見た図</text>

<!-- ============ PANEL B ============ -->
<g><rect x="306" y="20" width="2.5" height="92" fill="#353666"/>
<rect x="308" y="20" width="2.5" height="92" fill="#353666"/>
<rect x="310" y="20" width="2.5" height="92" fill="#353666"/>
<rect x="312" y="20" width="2.5" height="92" fill="#353666"/>
<rect x="314" y="20" width="2.5" height="92" fill="#353666"/>
<rect x="316" y="20" width="2.5" height="92" fill="#353666"/>
<rect x="318" y="20" width="2.5" height="92" fill="#353666"/>
<rect x="320" y="20" width="2.5" height="92" fill="#353666"/>
<rect x="322" y="21" width="2.5" height="91" fill="#353666"/>
<rect x="324" y="21" width="2.5" height="91" fill="#353666"/>
<rect x="326" y="21" width="2.5" height="91" fill="#353666"/>
<rect x="328" y="21" width="2.5" height="91" fill="#353666"/>
<rect x="330" y="21" width="2.5" height="91" fill="#353666"/>
<rect x="332" y="22" width="2.5" height="90" fill="#353666"/>
<rect x="334" y="22" width="2.5" height="90" fill="#353666"/>
<rect x="336" y="22" width="2.5" height="90" fill="#353666"/>
<rect x="338" y="23" width="2.5" height="89" fill="#353666"/>
<rect x="340" y="23" width="2.5" height="89" fill="#353666"/>
<rect x="342" y="24" width="2.5" height="88" fill="#353666"/>
<rect x="344" y="24" width="2.5" height="88" fill="#353666"/>
<rect x="346" y="25" width="2.5" height="87" fill="#353666"/>
<rect x="348" y="25" width="2.5" height="87" fill="#353666"/>
<rect x="350" y="26" width="2.5" height="86" fill="#353666"/>
<rect x="352" y="26" width="2.5" height="86" fill="#353666"/>
<rect x="354" y="27" width="2.5" height="85" fill="#353666"/>
<rect x="356" y="28" width="2.5" height="84" fill="#353666"/>
<rect x="358" y="28" width="2.5" height="84" fill="#353666"/>
<rect x="360" y="29" width="2.5" height="83" fill="#353666"/>
<rect x="362" y="30" width="2.5" height="82" fill="#353666"/>
<rect x="364" y="31" width="2.5" height="81" fill="#353666"/>
<rect x="366" y="32" width="2.5" height="80" fill="#353666"/>
<rect x="368" y="33" width="2.5" height="79" fill="#353666"/>
<rect x="370" y="34" width="2.5" height="78" fill="#353666"/>
<rect x="372" y="35" width="2.5" height="77" fill="#353666"/>
<rect x="374" y="36" width="2.5" height="76" fill="#353666"/>
<rect x="376" y="37" width="2.5" height="75" fill="#353666"/>
<rect x="378" y="38" width="2.5" height="74" fill="#353666"/>
<rect x="380" y="39" width="2.5" height="73" fill="#353666"/>
<rect x="382" y="40" width="2.5" height="72" fill="#353666"/>
<rect x="384" y="41" width="2.5" height="71" fill="#353666"/>
<rect x="386" y="42" width="2.5" height="70" fill="#353666"/>
<rect x="388" y="43" width="2.5" height="69" fill="#353666"/>
<rect x="390" y="44" width="2.5" height="68" fill="#353666"/>
<rect x="392" y="45" width="2.5" height="67" fill="#353666"/>
<rect x="394" y="46" width="2.5" height="66" fill="#353666"/>
<rect x="396" y="47" width="2.5" height="65" fill="#353666"/>
<rect x="398" y="48" width="2.5" height="64" fill="#353666"/>
<rect x="400" y="49" width="2.5" height="63" fill="#353666"/>
<rect x="402" y="50" width="2.5" height="62" fill="#353666"/>
<rect x="404" y="51" width="2.5" height="61" fill="#353666"/>
<rect x="406" y="52" width="2.5" height="60" fill="#353666"/>
<rect x="408" y="53" width="2.5" height="59" fill="#353666"/>
<rect x="410" y="54" width="2.5" height="58" fill="#353666"/>
<rect x="412" y="55" width="2.5" height="57" fill="#353666"/>
<rect x="414" y="56" width="2.5" height="56" fill="#353666"/>
<rect x="416" y="57" width="1.5" height="55" fill="#353666"/>
<rect x="417" y="57" width="1.5" height="55" fill="url(#b56)"/>
<rect x="418" y="58" width="1.5" height="54" fill="url(#b57)"/>
<rect x="419" y="58" width="1.5" height="54" fill="url(#b58)"/>
<rect x="420" y="59" width="1.5" height="53" fill="url(#b59)"/>
<rect x="421" y="59" width="1.5" height="53" fill="url(#b60)"/>
<rect x="422" y="60" width="1.5" height="52" fill="url(#b61)"/>
<rect x="423" y="60" width="1.5" height="52" fill="url(#b62)"/>
<rect x="424" y="61" width="1.5" height="51" fill="url(#b63)"/>
<rect x="425" y="61" width="1.5" height="51" fill="url(#b64)"/>
<rect x="426" y="62" width="1.5" height="50" fill="url(#b65)"/>
<rect x="427" y="62" width="1.5" height="50" fill="url(#b66)"/>
<rect x="428" y="63" width="1.5" height="49" fill="url(#b67)"/>
<rect x="429" y="63" width="1.5" height="49" fill="url(#b68)"/>
<rect x="430" y="64" width="1.5" height="48" fill="url(#b69)"/>
<rect x="431" y="64" width="1.5" height="48" fill="url(#b70)"/>
<rect x="432" y="65" width="1.5" height="47" fill="url(#b71)"/>
<rect x="433" y="66" width="1.5" height="46" fill="url(#b72)"/>
<rect x="434" y="66" width="1.5" height="46" fill="url(#b73)"/>
<rect x="435" y="67" width="1.5" height="45" fill="url(#b74)"/>
<rect x="436" y="67" width="1.5" height="45" fill="url(#b75)"/>
<rect x="437" y="68" width="1.5" height="44" fill="url(#b76)"/>
<rect x="438" y="68" width="1.5" height="44" fill="url(#b77)"/>
<rect x="439" y="68" width="1.5" height="44" fill="url(#b78)"/>
<rect x="440" y="69" width="1.5" height="43" fill="url(#b79)"/>
<rect x="441" y="69" width="1.5" height="43" fill="url(#b80)"/>
<rect x="442" y="70" width="1.5" height="42" fill="url(#b81)"/>
<rect x="443" y="70" width="1.5" height="42" fill="url(#b82)"/>
<rect x="444" y="71" width="1.5" height="41" fill="url(#b83)"/>
<rect x="445" y="71" width="1.5" height="41" fill="url(#b84)"/>
<rect x="446" y="72" width="1.5" height="40" fill="url(#b85)"/>
<rect x="447" y="72" width="1.5" height="40" fill="url(#b86)"/>
<rect x="448" y="72" width="1.5" height="40" fill="url(#b87)"/>
<rect x="449" y="73" width="1.5" height="39" fill="url(#b88)"/>
<rect x="450" y="73" width="1.5" height="39" fill="url(#b89)"/>
<rect x="451" y="74" width="1.5" height="38" fill="url(#b90)"/>
<rect x="452" y="74" width="1.5" height="38" fill="url(#b91)"/>
<rect x="453" y="74" width="1.5" height="38" fill="url(#b92)"/>
<rect x="454" y="75" width="1.5" height="37" fill="url(#b93)"/>
<rect x="455" y="75" width="1.5" height="37" fill="url(#b94)"/>
<rect x="456" y="76" width="1.5" height="36" fill="url(#b95)"/>
<rect x="457" y="76" width="1.5" height="36" fill="url(#b96)"/>
<rect x="458" y="76" width="1.5" height="36" fill="url(#b97)"/>
<rect x="459" y="77" width="1.5" height="35" fill="url(#b98)"/>
<rect x="460" y="77" width="1.5" height="35" fill="url(#b99)"/>
<rect x="461" y="77" width="1.5" height="35" fill="url(#b100)"/>
<rect x="462" y="78" width="1.5" height="34" fill="url(#b101)"/>
<rect x="463" y="78" width="1.5" height="34" fill="url(#b102)"/>
<rect x="464" y="78" width="1.5" height="34" fill="url(#b103)"/>
<rect x="465" y="78" width="1.5" height="34" fill="url(#b104)"/>
<rect x="466" y="79" width="1.5" height="33" fill="url(#b105)"/>
<rect x="467" y="79" width="1.5" height="33" fill="url(#b106)"/>
<rect x="468" y="79" width="1.5" height="33" fill="url(#b107)"/>
<rect x="469" y="80" width="1.5" height="32" fill="url(#b108)"/>
<rect x="470" y="80" width="1.5" height="32" fill="url(#b109)"/>
<rect x="471" y="80" width="1.5" height="32" fill="url(#b110)"/>
<rect x="472" y="80" width="1.5" height="32" fill="url(#b111)"/>
<rect x="473" y="81" width="1.5" height="31" fill="url(#b112)"/>
<rect x="474" y="81" width="1.5" height="31" fill="url(#b113)"/>
<rect x="475" y="81" width="1.5" height="31" fill="url(#b114)"/>
<rect x="476" y="81" width="1.5" height="31" fill="url(#b115)"/>
<rect x="477" y="82" width="1.5" height="30" fill="url(#b116)"/>
<rect x="478" y="82" width="1.5" height="30" fill="url(#b117)"/>
<rect x="479" y="82" width="1.5" height="30" fill="url(#b118)"/>
<rect x="480" y="82" width="1.5" height="30" fill="url(#b119)"/>
<rect x="481" y="83" width="1.5" height="29" fill="url(#b120)"/>
<rect x="482" y="83" width="1.5" height="29" fill="url(#b121)"/>
<rect x="483" y="83" width="1.5" height="29" fill="url(#b122)"/>
<rect x="484" y="83" width="1.5" height="29" fill="url(#b123)"/>
<rect x="485" y="84" width="1.5" height="28" fill="url(#b124)"/>
<rect x="486" y="84" width="1.5" height="28" fill="url(#b125)"/>
<rect x="487" y="84" width="1.5" height="28" fill="url(#b126)"/>
<rect x="488" y="84" width="1.5" height="28" fill="url(#b127)"/>
<rect x="489" y="84" width="1.5" height="28" fill="url(#b128)"/>
<rect x="490" y="85" width="1.5" height="27" fill="url(#b129)"/>
<rect x="491" y="85" width="1.5" height="27" fill="url(#b130)"/>
<rect x="492" y="85" width="1.5" height="27" fill="url(#b131)"/>
<rect x="493" y="85" width="1.5" height="27" fill="url(#b132)"/>
<rect x="494" y="85" width="1.5" height="27" fill="url(#b133)"/>
<rect x="495" y="85" width="1.5" height="27" fill="url(#b134)"/>
<rect x="496" y="86" width="1.5" height="26" fill="url(#b135)"/>
<rect x="497" y="86" width="1.5" height="26" fill="url(#b136)"/>
<rect x="498" y="86" width="1.5" height="26" fill="url(#b137)"/>
<rect x="499" y="86" width="1.5" height="26" fill="url(#b138)"/>
<rect x="500" y="86" width="1.5" height="26" fill="url(#b139)"/>
<rect x="501" y="86" width="1.5" height="26" fill="url(#b140)"/>
<rect x="502" y="87" width="1.5" height="25" fill="url(#b141)"/>
<rect x="503" y="87" width="1.5" height="25" fill="url(#b142)"/>
<rect x="504" y="87" width="1.5" height="25" fill="url(#b143)"/>
<rect x="505" y="87" width="1.5" height="25" fill="url(#b144)"/>
<rect x="506" y="87" width="1.5" height="25" fill="url(#b145)"/>
<rect x="507" y="87" width="1.5" height="25" fill="url(#b146)"/>
<rect x="508" y="87" width="1.5" height="25" fill="url(#b147)"/>
<rect x="509" y="88" width="1.5" height="24" fill="url(#b148)"/>
<rect x="510" y="88" width="1.5" height="24" fill="url(#b149)"/>
<rect x="511" y="88" width="1.5" height="24" fill="url(#b150)"/>
<rect x="512" y="88" width="1.5" height="24" fill="url(#b151)"/>
<rect x="513" y="88" width="1.5" height="24" fill="url(#b152)"/>
<rect x="514" y="88" width="1.5" height="24" fill="url(#b153)"/>
<rect x="515" y="88" width="1.5" height="24" fill="url(#b154)"/>
<rect x="516" y="89" width="1.5" height="23" fill="url(#b155)"/>
<rect x="517" y="89" width="1.5" height="23" fill="url(#b156)"/>
<rect x="518" y="89" width="1.5" height="23" fill="url(#b157)"/>
<rect x="519" y="89" width="1.5" height="23" fill="url(#b158)"/>
<rect x="520" y="89" width="1.5" height="23" fill="url(#b159)"/>
<rect x="521" y="89" width="1.5" height="23" fill="url(#b160)"/>
<rect x="522" y="89" width="1.5" height="23" fill="url(#b161)"/>
<rect x="523" y="89" width="1.5" height="23" fill="url(#b162)"/>
<rect x="524" y="90" width="1.5" height="22" fill="url(#b163)"/>
<rect x="525" y="90" width="1.5" height="22" fill="url(#b164)"/>
<rect x="526" y="90" width="1.5" height="22" fill="url(#b165)"/>
<rect x="527" y="90" width="1.5" height="22" fill="url(#b166)"/>
<rect x="528" y="90" width="1.5" height="22" fill="url(#b167)"/>
<rect x="529" y="90" width="1.5" height="22" fill="url(#b168)"/>
<rect x="530" y="90" width="1.5" height="22" fill="url(#b169)"/>
<rect x="531" y="90" width="1.5" height="22" fill="url(#b170)"/>
<rect x="532" y="91" width="1.5" height="21" fill="url(#b171)"/>
<rect x="533" y="91" width="1.5" height="21" fill="url(#b172)"/>
<rect x="534" y="91" width="1.5" height="21" fill="url(#b173)"/>
<rect x="535" y="91" width="1.5" height="21" fill="url(#b174)"/>
<rect x="536" y="91" width="1.5" height="21" fill="url(#b175)"/>
<rect x="537" y="91" width="1.5" height="21" fill="url(#b176)"/>
<rect x="538" y="91" width="1.5" height="21" fill="url(#b177)"/>
<rect x="539" y="91" width="1.5" height="21" fill="url(#b178)"/>
<rect x="540" y="92" width="1.5" height="20" fill="url(#b179)"/>
<rect x="541" y="92" width="1.5" height="20" fill="url(#b180)"/>
<rect x="542" y="92" width="1.5" height="20" fill="url(#b181)"/>
<rect x="543" y="92" width="1.5" height="20" fill="url(#b182)"/>
<rect x="544" y="92" width="1.5" height="20" fill="url(#b183)"/>
<rect x="545" y="92" width="1.5" height="20" fill="url(#b184)"/>
<rect x="546" y="92" width="1.5" height="20" fill="url(#b185)"/>
<rect x="547" y="92" width="1.5" height="20" fill="url(#b186)"/>
<rect x="548" y="93" width="1.5" height="19" fill="url(#b187)"/>
<rect x="549" y="93" width="1.5" height="19" fill="url(#b188)"/>
<rect x="550" y="93" width="1.5" height="19" fill="url(#b189)"/>
<rect x="551" y="93" width="1.5" height="19" fill="url(#b190)"/>
<rect x="552" y="93" width="1.5" height="19" fill="url(#b191)"/>
<rect x="553" y="93" width="1.5" height="19" fill="url(#b192)"/>
<rect x="554" y="93" width="1.5" height="19" fill="url(#b193)"/>
<rect x="555" y="93" width="1.5" height="19" fill="url(#b194)"/>
<rect x="556" y="94" width="1.5" height="18" fill="url(#b195)"/>
<rect x="557" y="94" width="1.5" height="18" fill="url(#b196)"/>
<rect x="558" y="94" width="1.5" height="18" fill="url(#b197)"/>
<rect x="559" y="94" width="1.5" height="18" fill="url(#b198)"/>
<rect x="560" y="94" width="1.5" height="18" fill="url(#b199)"/>
<rect x="561" y="94" width="1.5" height="18" fill="url(#b200)"/>
<rect x="562" y="94" width="1.5" height="18" fill="url(#b201)"/>
<rect x="563" y="94" width="1.5" height="18" fill="url(#b202)"/>
<rect x="564" y="95" width="1.5" height="17" fill="url(#b203)"/>
<rect x="565" y="95" width="1.5" height="17" fill="url(#b204)"/>
<rect x="566" y="95" width="1.5" height="17" fill="url(#b205)"/>
<rect x="567" y="95" width="1.5" height="17" fill="url(#b206)"/>
<rect x="568" y="95" width="1.5" height="17" fill="url(#b207)"/>
<rect x="569" y="95" width="1.5" height="17" fill="url(#b208)"/>
<rect x="570" y="95" width="1.5" height="17" fill="url(#b209)"/>
<rect x="571" y="95" width="1.5" height="17" fill="url(#b210)"/>
<rect x="572" y="96" width="1.5" height="16" fill="url(#b211)"/>
<rect x="573" y="96" width="1.5" height="16" fill="url(#b212)"/>
<rect x="574" y="96" width="1.5" height="16" fill="url(#b213)"/>
<rect x="575" y="96" width="1.5" height="16" fill="url(#b214)"/>
<rect x="576" y="96" width="1.5" height="16" fill="url(#b215)"/>
<rect x="577" y="96" width="1.5" height="16" fill="url(#b216)"/>
<rect x="578" y="96" width="1.5" height="16" fill="url(#b217)"/>
<rect x="579" y="97" width="1.5" height="15" fill="url(#b218)"/>
<rect x="580" y="97" width="1.5" height="15" fill="url(#b219)"/>
<rect x="581" y="97" width="1.5" height="15" fill="url(#b220)"/>
<rect x="582" y="97" width="1.5" height="15" fill="url(#b221)"/>
<rect x="583" y="97" width="1.5" height="15" fill="url(#b222)"/>
<rect x="584" y="97" width="1.5" height="15" fill="url(#b223)"/>
<rect x="585" y="97" width="1.5" height="15" fill="url(#b224)"/>
<rect x="586" y="97" width="1.5" height="15" fill="url(#b225)"/>
<rect x="587" y="98" width="1.5" height="14" fill="url(#b226)"/>
<rect x="588" y="98" width="1.5" height="14" fill="url(#b227)"/>
<rect x="589" y="98" width="1.5" height="14" fill="url(#b228)"/>
<rect x="590" y="98" width="1.5" height="14" fill="url(#b229)"/>
<rect x="591" y="98" width="1.5" height="14" fill="url(#b230)"/>
<rect x="592" y="98" width="1.5" height="14" fill="url(#b231)"/>
<rect x="593" y="98" width="1.5" height="14" fill="url(#b232)"/>
<rect x="594" y="98" width="1.5" height="14" fill="url(#b233)"/>
<rect x="595" y="99" width="1.5" height="13" fill="url(#b234)"/>
<rect x="596" y="99" width="1.5" height="13" fill="url(#b235)"/>
<rect x="597" y="99" width="1.5" height="13" fill="url(#b236)"/>
<rect x="598" y="99" width="1.5" height="13" fill="url(#b237)"/>
<rect x="599" y="99" width="1.5" height="13" fill="url(#b238)"/>
<rect x="600" y="99" width="2.5" height="13" fill="url(#b239)"/>
<rect x="602" y="99" width="2.5" height="13" fill="url(#b240)"/>
<rect x="604" y="100" width="2.5" height="12" fill="url(#b241)"/>
<rect x="606" y="100" width="2.5" height="12" fill="url(#b242)"/>
<rect x="608" y="100" width="2.5" height="12" fill="url(#b243)"/>
<rect x="610" y="100" width="2.5" height="12" fill="url(#b244)"/>
<rect x="612" y="101" width="2.5" height="11" fill="url(#b245)"/>
<rect x="614" y="101" width="2.5" height="11" fill="url(#b246)"/>
<rect x="616" y="101" width="2.5" height="11" fill="url(#b247)"/>
<rect x="618" y="101" width="2.5" height="11" fill="url(#b248)"/>
<rect x="620" y="102" width="2.5" height="10" fill="url(#b249)"/>
<rect x="622" y="102" width="2.5" height="10" fill="url(#b250)"/>
<rect x="624" y="102" width="2.5" height="10" fill="url(#b251)"/>
<rect x="626" y="102" width="2.5" height="10" fill="url(#b252)"/>
<rect x="628" y="103" width="2.5" height="9" fill="url(#b253)"/>
<rect x="630" y="103" width="2.5" height="9" fill="url(#b254)"/>
<rect x="632" y="103" width="2.5" height="9" fill="url(#b255)"/>
<rect x="634" y="103" width="2.5" height="9" fill="url(#b256)"/>
<rect x="636" y="104" width="2.5" height="8" fill="url(#b257)"/>
<rect x="638" y="104" width="2.5" height="8" fill="url(#b258)"/>
<rect x="640" y="104" width="2.5" height="8" fill="url(#b259)"/>
<rect x="642" y="104" width="2.5" height="8" fill="url(#b260)"/>
<rect x="644" y="105" width="2.5" height="7" fill="url(#b261)"/>
<rect x="646" y="105" width="2.5" height="7" fill="url(#b262)"/>
<rect x="648" y="105" width="2.5" height="7" fill="url(#b263)"/>
<rect x="650" y="105" width="2.5" height="7" fill="url(#b264)"/>
<rect x="652" y="106" width="2.5" height="6" fill="url(#b265)"/>
<rect x="654" y="106" width="2.5" height="6" fill="url(#b266)"/>
<rect x="656" y="106" width="2.5" height="6" fill="url(#b267)"/>
<rect x="658" y="106" width="2.5" height="6" fill="url(#b268)"/>
<rect x="660" y="107" width="2.5" height="5" fill="url(#b269)"/>
<rect x="662" y="107" width="2.5" height="5" fill="url(#b270)"/>
<rect x="664" y="107" width="2.5" height="5" fill="url(#b271)"/>
<rect x="666" y="107" width="2.5" height="5" fill="url(#b272)"/>
<rect x="668" y="108" width="2.5" height="4" fill="url(#b273)"/>
<rect x="670" y="108" width="2.5" height="4" fill="url(#b274)"/>
<rect x="672" y="108" width="2.5" height="4" fill="url(#b275)"/>
<rect x="674" y="108" width="2.5" height="4" fill="url(#b276)"/>
<rect x="676" y="108" width="2.5" height="4" fill="url(#b277)"/>
<rect x="678" y="109" width="2.5" height="3" fill="#303670"/>
<rect x="680" y="109" width="2.5" height="3" fill="#31366f"/>
<rect x="682" y="109" width="2.5" height="3" fill="#32366d"/>
<rect x="684" y="109" width="2.5" height="3" fill="#32366c"/>
<rect x="686" y="110" width="2.5" height="2" fill="#33366a"/>
<rect x="688" y="110" width="2.5" height="2" fill="#343668"/>
<rect x="690" y="110" width="2.5" height="2" fill="#353667"/></g>
<path d="M304.0,12.0 L304.0,22.23 L306.0,22.23 L308.0,22.20 L310.0,22.19 L312.0,22.20 L314.0,22.23 L316.0,22.28 L318.0,22.35 L320.0,22.44 L322.0,22.56 L324.0,22.70 L326.0,22.87 L328.0,23.06 L330.0,23.29 L332.0,23.54 L334.0,23.83 L336.0,24.15 L338.0,24.50 L340.0,24.89 L342.0,25.31 L344.0,25.77 L346.0,26.27 L348.0,26.81 L350.0,27.39 L352.0,28.01 L354.0,28.67 L356.0,29.38 L358.0,30.11 L360.0,30.89 L362.0,31.69 L364.0,32.53 L366.0,33.40 L368.0,34.30 L370.0,35.22 L372.0,36.16 L374.0,37.13 L376.0,38.12 L378.0,39.12 L380.0,40.15 L382.0,41.18 L384.0,42.23 L386.0,43.30 L388.0,44.36 L390.0,45.44 L392.0,46.52 L394.0,47.60 L396.0,48.67 L398.0,49.74 L400.0,50.80 L402.0,51.85 L404.0,52.89 L406.0,53.91 L408.0,54.92 L410.0,55.90 L412.0,56.86 L414.0,57.80 L416.0,58.75 L418.0,59.69 L420.0,60.65 L422.0,61.64 L424.0,62.65 L426.0,63.66 L428.0,64.69 L430.0,65.72 L432.0,66.75 L434.0,67.77 L436.0,68.78 L438.0,69.76 L440.0,70.72 L442.0,71.65 L444.0,72.55 L446.0,73.42 L448.0,74.26 L450.0,75.07 L452.0,75.86 L454.0,76.62 L456.0,77.35 L458.0,78.06 L460.0,78.74 L462.0,79.39 L464.0,80.03 L466.0,80.64 L468.0,81.23 L470.0,81.79 L472.0,82.34 L474.0,82.87 L476.0,83.38 L478.0,83.86 L480.0,84.34 L482.0,84.79 L484.0,85.23 L486.0,85.65 L488.0,86.05 L490.0,86.44 L492.0,86.82 L494.0,87.19 L496.0,87.54 L498.0,87.88 L500.0,88.21 L502.0,88.53 L504.0,88.84 L506.0,89.14 L508.0,89.43 L510.0,89.71 L512.0,89.99 L514.0,90.26 L516.0,90.53 L518.0,90.79 L520.0,91.04 L522.0,91.30 L524.0,91.55 L526.0,91.80 L528.0,92.04 L530.0,92.29 L532.0,92.53 L534.0,92.78 L536.0,93.03 L538.0,93.28 L540.0,93.53 L542.0,93.77 L544.0,94.02 L546.0,94.27 L548.0,94.52 L550.0,94.78 L552.0,95.03 L554.0,95.28 L556.0,95.53 L558.0,95.78 L560.0,96.04 L562.0,96.29 L564.0,96.54 L566.0,96.80 L568.0,97.05 L570.0,97.30 L572.0,97.56 L574.0,97.81 L576.0,98.06 L578.0,98.32 L580.0,98.57 L582.0,98.83 L584.0,99.08 L586.0,99.33 L588.0,99.59 L590.0,99.84 L592.0,100.10 L594.0,100.35 L596.0,100.60 L598.0,100.86 L600.0,101.11 L602.0,101.36 L604.0,101.61 L606.0,101.87 L608.0,102.12 L610.0,102.37 L612.0,102.62 L614.0,102.87 L616.0,103.12 L618.0,103.37 L620.0,103.62 L622.0,103.87 L624.0,104.12 L626.0,104.37 L628.0,104.61 L630.0,104.86 L632.0,105.10 L634.0,105.35 L636.0,105.59 L638.0,105.84 L640.0,106.08 L642.0,106.32 L644.0,106.56 L646.0,106.80 L648.0,107.04 L650.0,107.28 L652.0,107.52 L654.0,107.76 L656.0,107.99 L658.0,108.23 L660.0,108.46 L662.0,108.69 L664.0,108.93 L666.0,109.16 L668.0,109.39 L670.0,109.61 L672.0,109.84 L674.0,110.07 L676.0,110.29 L678.0,110.52 L680.0,110.74 L682.0,110.96 L684.0,111.18 L686.0,111.40 L688.0,111.61 L690.0,111.83 L691.6,112.00 L694.6,112.30 L694.6,12.0 Z" fill="#fff"/>
<text class="j" x="425" y="22.6" font-size="14.4" letter-spacing=".3">アクトミオシンの分布</text>
<g stroke="#555" stroke-width="0.8" opacity="0.7"><path d="M361.3,112 v-3 M416.4,112 v-3 M471.5,112 v-3 M526.6,112 v-3 M581.7,112 v-3.5 M636.8,112 v-3 M691.6,112.2 v-4 M306.5,68.2 h3.5"/></g>
<text x="310.4" y="52.2" font-size="29" fill="#fff">B</text>
<g fill="#333" font-size="11.5">
<text x="295.2" y="28.4">8</text><text x="295.2" y="72.6">4</text><text x="295.2" y="116.6">0</text>
</g>
<g fill="#111" font-size="14">
<text class="j" x="273.3" y="55.7">高</text><text class="j" x="273.3" y="68.5">さ</text>
<text x="264" y="84.6" font-size="15">(<tspan font-style="italic">μ</tspan>m)</text>
</g>
<g fill="none" stroke="#eee" stroke-width="1.1"><circle cx="316.5" cy="102.4" r="6.6"/><path d="M311.8,97.7 L321.2,107.1 M321.2,97.7 L311.8,107.1"/></g>
<text x="326" y="106" font-size="14.4" fill="#fff"><tspan font-style="italic">φ</tspan>:<tspan class="w" dx="0.5">角度方向</tspan></text>
<text x="553" y="61.6" font-size="24" font-style="italic" fill="#111">S</text>
<rect x="582.8" y="46.3" width="90.4" height="15.4" fill="url(#cb)" stroke="#222" stroke-width="0.7"/>
<g fill="#333" font-size="10.3" text-anchor="middle">
<text x="583.8" y="41.7">0</text><text x="627.4" y="41.7">0.5</text><text x="672" y="41.7">1</text>
</g>

<!-- ============ PANEL C ============ -->
<g><rect x="306" y="140" width="2.5" height="92" fill="url(#c0)"/>
<rect x="308" y="140" width="2.5" height="92" fill="url(#c1)"/>
<rect x="310" y="140" width="2.5" height="92" fill="url(#c2)"/>
<rect x="312" y="140" width="2.5" height="92" fill="url(#c3)"/>
<rect x="314" y="140" width="2.5" height="92" fill="url(#c4)"/>
<rect x="316" y="140" width="2.5" height="92" fill="url(#c5)"/>
<rect x="318" y="140" width="2.5" height="92" fill="url(#c6)"/>
<rect x="320" y="140" width="2.5" height="92" fill="url(#c7)"/>
<rect x="322" y="141" width="2.5" height="91" fill="url(#c8)"/>
<rect x="324" y="141" width="2.5" height="91" fill="url(#c9)"/>
<rect x="326" y="141" width="2.5" height="91" fill="url(#c10)"/>
<rect x="328" y="141" width="2.5" height="91" fill="url(#c11)"/>
<rect x="330" y="141" width="2.5" height="91" fill="url(#c12)"/>
<rect x="332" y="142" width="2.5" height="90" fill="url(#c13)"/>
<rect x="334" y="142" width="2.5" height="90" fill="url(#c14)"/>
<rect x="336" y="142" width="2.5" height="90" fill="url(#c15)"/>
<rect x="338" y="143" width="2.5" height="89" fill="url(#c16)"/>
<rect x="340" y="143" width="2.5" height="89" fill="url(#c17)"/>
<rect x="342" y="144" width="2.5" height="88" fill="url(#c18)"/>
<rect x="344" y="144" width="2.5" height="88" fill="url(#c19)"/>
<rect x="346" y="145" width="2.5" height="87" fill="url(#c20)"/>
<rect x="348" y="145" width="2.5" height="87" fill="url(#c21)"/>
<rect x="350" y="146" width="2.5" height="86" fill="url(#c22)"/>
<rect x="352" y="146" width="2.5" height="86" fill="url(#c23)"/>
<rect x="354" y="147" width="2.5" height="85" fill="url(#c24)"/>
<rect x="356" y="148" width="2.5" height="84" fill="url(#c25)"/>
<rect x="358" y="148" width="2.5" height="84" fill="url(#c26)"/>
<rect x="360" y="149" width="2.5" height="83" fill="url(#c27)"/>
<rect x="362" y="150" width="2.5" height="82" fill="url(#c28)"/>
<rect x="364" y="151" width="2.5" height="81" fill="url(#c29)"/>
<rect x="366" y="152" width="2.5" height="80" fill="url(#c30)"/>
<rect x="368" y="153" width="2.5" height="79" fill="url(#c31)"/>
<rect x="370" y="154" width="2.5" height="78" fill="url(#c32)"/>
<rect x="372" y="155" width="2.5" height="77" fill="url(#c33)"/>
<rect x="374" y="156" width="2.5" height="76" fill="url(#c34)"/>
<rect x="376" y="157" width="2.5" height="75" fill="url(#c35)"/>
<rect x="378" y="158" width="2.5" height="74" fill="url(#c36)"/>
<rect x="380" y="159" width="2.5" height="73" fill="url(#c37)"/>
<rect x="382" y="160" width="2.5" height="72" fill="url(#c38)"/>
<rect x="384" y="161" width="2.5" height="71" fill="url(#c39)"/>
<rect x="386" y="162" width="2.5" height="70" fill="url(#c40)"/>
<rect x="388" y="163" width="2.5" height="69" fill="url(#c41)"/>
<rect x="390" y="164" width="2.5" height="68" fill="url(#c42)"/>
<rect x="392" y="165" width="2.5" height="67" fill="url(#c43)"/>
<rect x="394" y="166" width="2.5" height="66" fill="url(#c44)"/>
<rect x="396" y="167" width="1.5" height="65" fill="url(#c45)"/>
<rect x="397" y="167" width="1.5" height="65" fill="url(#c46)"/>
<rect x="398" y="168" width="1.5" height="64" fill="url(#c47)"/>
<rect x="399" y="169" width="1.5" height="63" fill="url(#c48)"/>
<rect x="400" y="169" width="1.5" height="63" fill="url(#c49)"/>
<rect x="401" y="170" width="1.5" height="62" fill="url(#c50)"/>
<rect x="402" y="170" width="1.5" height="62" fill="url(#c51)"/>
<rect x="403" y="171" width="1.5" height="61" fill="url(#c52)"/>
<rect x="404" y="171" width="1.5" height="61" fill="url(#c53)"/>
<rect x="405" y="172" width="1.5" height="60" fill="url(#c54)"/>
<rect x="406" y="172" width="1.5" height="60" fill="url(#c55)"/>
<rect x="407" y="173" width="1.5" height="59" fill="url(#c56)"/>
<rect x="408" y="173" width="1.5" height="59" fill="url(#c57)"/>
<rect x="409" y="174" width="1.5" height="58" fill="url(#c58)"/>
<rect x="410" y="174" width="1.5" height="58" fill="url(#c59)"/>
<rect x="411" y="175" width="1.5" height="57" fill="url(#c60)"/>
<rect x="412" y="175" width="1.5" height="57" fill="url(#c61)"/>
<rect x="413" y="176" width="1.5" height="56" fill="url(#c62)"/>
<rect x="414" y="176" width="1.5" height="56" fill="url(#c63)"/>
<rect x="415" y="177" width="1.5" height="55" fill="url(#c64)"/>
<rect x="416" y="177" width="1.5" height="55" fill="url(#c65)"/>
<rect x="417" y="177" width="1.5" height="55" fill="url(#c66)"/>
<rect x="418" y="178" width="1.5" height="54" fill="url(#c67)"/>
<rect x="419" y="178" width="1.5" height="54" fill="url(#c68)"/>
<rect x="420" y="179" width="1.5" height="53" fill="url(#c69)"/>
<rect x="421" y="179" width="1.5" height="53" fill="url(#c70)"/>
<rect x="422" y="180" width="1.5" height="52" fill="url(#c71)"/>
<rect x="423" y="180" width="1.5" height="52" fill="url(#c72)"/>
<rect x="424" y="181" width="1.5" height="51" fill="url(#c73)"/>
<rect x="425" y="181" width="1.5" height="51" fill="url(#c74)"/>
<rect x="426" y="182" width="1.5" height="50" fill="url(#c75)"/>
<rect x="427" y="182" width="1.5" height="50" fill="url(#c76)"/>
<rect x="428" y="183" width="1.5" height="49" fill="url(#c77)"/>
<rect x="429" y="183" width="1.5" height="49" fill="url(#c78)"/>
<rect x="430" y="184" width="1.5" height="48" fill="url(#c79)"/>
<rect x="431" y="184" width="1.5" height="48" fill="url(#c80)"/>
<rect x="432" y="185" width="1.5" height="47" fill="url(#c81)"/>
<rect x="433" y="186" width="1.5" height="46" fill="url(#c82)"/>
<rect x="434" y="186" width="1.5" height="46" fill="url(#c83)"/>
<rect x="435" y="187" width="1.5" height="45" fill="url(#c84)"/>
<rect x="436" y="187" width="1.5" height="45" fill="url(#c85)"/>
<rect x="437" y="188" width="1.5" height="44" fill="url(#c86)"/>
<rect x="438" y="188" width="1.5" height="44" fill="url(#c87)"/>
<rect x="439" y="188" width="1.5" height="44" fill="url(#c88)"/>
<rect x="440" y="189" width="1.5" height="43" fill="url(#c89)"/>
<rect x="441" y="189" width="1.5" height="43" fill="url(#c90)"/>
<rect x="442" y="190" width="1.5" height="42" fill="url(#c91)"/>
<rect x="443" y="190" width="1.5" height="42" fill="url(#c92)"/>
<rect x="444" y="191" width="1.5" height="41" fill="url(#c93)"/>
<rect x="445" y="191" width="1.5" height="41" fill="url(#c94)"/>
<rect x="446" y="192" width="1.5" height="40" fill="url(#c95)"/>
<rect x="447" y="192" width="1.5" height="40" fill="url(#c96)"/>
<rect x="448" y="192" width="1.5" height="40" fill="url(#c97)"/>
<rect x="449" y="193" width="1.5" height="39" fill="url(#c98)"/>
<rect x="450" y="193" width="1.5" height="39" fill="url(#c99)"/>
<rect x="451" y="194" width="1.5" height="38" fill="url(#c100)"/>
<rect x="452" y="194" width="1.5" height="38" fill="url(#c101)"/>
<rect x="453" y="194" width="1.5" height="38" fill="url(#c102)"/>
<rect x="454" y="195" width="1.5" height="37" fill="url(#c103)"/>
<rect x="455" y="195" width="1.5" height="37" fill="url(#c104)"/>
<rect x="456" y="196" width="1.5" height="36" fill="url(#c105)"/>
<rect x="457" y="196" width="1.5" height="36" fill="url(#c106)"/>
<rect x="458" y="196" width="1.5" height="36" fill="url(#c107)"/>
<rect x="459" y="197" width="1.5" height="35" fill="url(#c108)"/>
<rect x="460" y="197" width="1.5" height="35" fill="url(#c109)"/>
<rect x="461" y="197" width="1.5" height="35" fill="url(#c110)"/>
<rect x="462" y="198" width="1.5" height="34" fill="url(#c111)"/>
<rect x="463" y="198" width="1.5" height="34" fill="url(#c112)"/>
<rect x="464" y="198" width="1.5" height="34" fill="url(#c113)"/>
<rect x="465" y="198" width="1.5" height="34" fill="url(#c114)"/>
<rect x="466" y="199" width="1.5" height="33" fill="url(#c115)"/>
<rect x="467" y="199" width="1.5" height="33" fill="url(#c116)"/>
<rect x="468" y="199" width="1.5" height="33" fill="url(#c117)"/>
<rect x="469" y="200" width="1.5" height="32" fill="url(#c118)"/>
<rect x="470" y="200" width="1.5" height="32" fill="url(#c119)"/>
<rect x="471" y="200" width="1.5" height="32" fill="url(#c120)"/>
<rect x="472" y="200" width="1.5" height="32" fill="url(#c121)"/>
<rect x="473" y="201" width="1.5" height="31" fill="url(#c122)"/>
<rect x="474" y="201" width="1.5" height="31" fill="url(#c123)"/>
<rect x="475" y="201" width="1.5" height="31" fill="url(#c124)"/>
<rect x="476" y="201" width="1.5" height="31" fill="url(#c125)"/>
<rect x="477" y="202" width="1.5" height="30" fill="url(#c126)"/>
<rect x="478" y="202" width="1.5" height="30" fill="url(#c127)"/>
<rect x="479" y="202" width="1.5" height="30" fill="url(#c128)"/>
<rect x="480" y="202" width="1.5" height="30" fill="url(#c129)"/>
<rect x="481" y="203" width="1.5" height="29" fill="url(#c130)"/>
<rect x="482" y="203" width="1.5" height="29" fill="url(#c131)"/>
<rect x="483" y="203" width="1.5" height="29" fill="url(#c132)"/>
<rect x="484" y="203" width="1.5" height="29" fill="url(#c133)"/>
<rect x="485" y="204" width="1.5" height="28" fill="url(#c134)"/>
<rect x="486" y="204" width="1.5" height="28" fill="url(#c135)"/>
<rect x="487" y="204" width="1.5" height="28" fill="url(#c136)"/>
<rect x="488" y="204" width="1.5" height="28" fill="url(#c137)"/>
<rect x="489" y="204" width="1.5" height="28" fill="url(#c138)"/>
<rect x="490" y="205" width="1.5" height="27" fill="url(#c139)"/>
<rect x="491" y="205" width="1.5" height="27" fill="url(#c140)"/>
<rect x="492" y="205" width="1.5" height="27" fill="url(#c141)"/>
<rect x="493" y="205" width="1.5" height="27" fill="url(#c142)"/>
<rect x="494" y="205" width="1.5" height="27" fill="url(#c143)"/>
<rect x="495" y="205" width="1.5" height="27" fill="url(#c144)"/>
<rect x="496" y="206" width="1.5" height="26" fill="url(#c145)"/>
<rect x="497" y="206" width="1.5" height="26" fill="url(#c146)"/>
<rect x="498" y="206" width="1.5" height="26" fill="url(#c147)"/>
<rect x="499" y="206" width="1.5" height="26" fill="url(#c148)"/>
<rect x="500" y="206" width="1.5" height="26" fill="url(#c149)"/>
<rect x="501" y="206" width="1.5" height="26" fill="url(#c150)"/>
<rect x="502" y="207" width="1.5" height="25" fill="url(#c151)"/>
<rect x="503" y="207" width="1.5" height="25" fill="url(#c152)"/>
<rect x="504" y="207" width="1.5" height="25" fill="url(#c153)"/>
<rect x="505" y="207" width="1.5" height="25" fill="url(#c154)"/>
<rect x="506" y="207" width="1.5" height="25" fill="url(#c155)"/>
<rect x="507" y="207" width="1.5" height="25" fill="url(#c156)"/>
<rect x="508" y="207" width="1.5" height="25" fill="url(#c157)"/>
<rect x="509" y="208" width="1.5" height="24" fill="url(#c158)"/>
<rect x="510" y="208" width="1.5" height="24" fill="url(#c159)"/>
<rect x="511" y="208" width="1.5" height="24" fill="url(#c160)"/>
<rect x="512" y="208" width="1.5" height="24" fill="url(#c161)"/>
<rect x="513" y="208" width="1.5" height="24" fill="url(#c162)"/>
<rect x="514" y="208" width="1.5" height="24" fill="url(#c163)"/>
<rect x="515" y="208" width="1.5" height="24" fill="url(#c164)"/>
<rect x="516" y="209" width="1.5" height="23" fill="url(#c165)"/>
<rect x="517" y="209" width="1.5" height="23" fill="url(#c166)"/>
<rect x="518" y="209" width="1.5" height="23" fill="url(#c167)"/>
<rect x="519" y="209" width="1.5" height="23" fill="url(#c168)"/>
<rect x="520" y="209" width="1.5" height="23" fill="url(#c169)"/>
<rect x="521" y="209" width="1.5" height="23" fill="url(#c170)"/>
<rect x="522" y="209" width="1.5" height="23" fill="url(#c171)"/>
<rect x="523" y="209" width="1.5" height="23" fill="url(#c172)"/>
<rect x="524" y="210" width="1.5" height="22" fill="url(#c173)"/>
<rect x="525" y="210" width="1.5" height="22" fill="url(#c174)"/>
<rect x="526" y="210" width="1.5" height="22" fill="url(#c175)"/>
<rect x="527" y="210" width="1.5" height="22" fill="url(#c176)"/>
<rect x="528" y="210" width="1.5" height="22" fill="url(#c177)"/>
<rect x="529" y="210" width="1.5" height="22" fill="url(#c178)"/>
<rect x="530" y="210" width="1.5" height="22" fill="url(#c179)"/>
<rect x="531" y="210" width="1.5" height="22" fill="url(#c180)"/>
<rect x="532" y="211" width="1.5" height="21" fill="url(#c181)"/>
<rect x="533" y="211" width="1.5" height="21" fill="url(#c182)"/>
<rect x="534" y="211" width="1.5" height="21" fill="url(#c183)"/>
<rect x="535" y="211" width="1.5" height="21" fill="url(#c184)"/>
<rect x="536" y="211" width="1.5" height="21" fill="url(#c185)"/>
<rect x="537" y="211" width="1.5" height="21" fill="url(#c186)"/>
<rect x="538" y="211" width="1.5" height="21" fill="url(#c187)"/>
<rect x="539" y="211" width="1.5" height="21" fill="url(#c188)"/>
<rect x="540" y="212" width="1.5" height="20" fill="url(#c189)"/>
<rect x="541" y="212" width="1.5" height="20" fill="url(#c190)"/>
<rect x="542" y="212" width="1.5" height="20" fill="url(#c191)"/>
<rect x="543" y="212" width="1.5" height="20" fill="url(#c192)"/>
<rect x="544" y="212" width="1.5" height="20" fill="url(#c193)"/>
<rect x="545" y="212" width="1.5" height="20" fill="url(#c194)"/>
<rect x="546" y="212" width="1.5" height="20" fill="url(#c195)"/>
<rect x="547" y="212" width="1.5" height="20" fill="url(#c196)"/>
<rect x="548" y="213" width="1.5" height="19" fill="url(#c197)"/>
<rect x="549" y="213" width="1.5" height="19" fill="url(#c198)"/>
<rect x="550" y="213" width="1.5" height="19" fill="url(#c199)"/>
<rect x="551" y="213" width="1.5" height="19" fill="url(#c200)"/>
<rect x="552" y="213" width="1.5" height="19" fill="url(#c201)"/>
<rect x="553" y="213" width="1.5" height="19" fill="url(#c202)"/>
<rect x="554" y="213" width="1.5" height="19" fill="url(#c203)"/>
<rect x="555" y="213" width="1.5" height="19" fill="url(#c204)"/>
<rect x="556" y="214" width="1.5" height="18" fill="url(#c205)"/>
<rect x="557" y="214" width="1.5" height="18" fill="url(#c206)"/>
<rect x="558" y="214" width="1.5" height="18" fill="url(#c207)"/>
<rect x="559" y="214" width="1.5" height="18" fill="url(#c208)"/>
<rect x="560" y="214" width="1.5" height="18" fill="url(#c209)"/>
<rect x="561" y="214" width="1.5" height="18" fill="url(#c210)"/>
<rect x="562" y="214" width="1.5" height="18" fill="url(#c211)"/>
<rect x="563" y="214" width="1.5" height="18" fill="url(#c212)"/>
<rect x="564" y="215" width="1.5" height="17" fill="url(#c213)"/>
<rect x="565" y="215" width="1.5" height="17" fill="url(#c214)"/>
<rect x="566" y="215" width="1.5" height="17" fill="url(#c215)"/>
<rect x="567" y="215" width="1.5" height="17" fill="url(#c216)"/>
<rect x="568" y="215" width="1.5" height="17" fill="url(#c217)"/>
<rect x="569" y="215" width="1.5" height="17" fill="url(#c218)"/>
<rect x="570" y="215" width="1.5" height="17" fill="url(#c219)"/>
<rect x="571" y="215" width="1.5" height="17" fill="url(#c220)"/>
<rect x="572" y="216" width="1.5" height="16" fill="url(#c221)"/>
<rect x="573" y="216" width="1.5" height="16" fill="url(#c222)"/>
<rect x="574" y="216" width="1.5" height="16" fill="url(#c223)"/>
<rect x="575" y="216" width="1.5" height="16" fill="url(#c224)"/>
<rect x="576" y="216" width="1.5" height="16" fill="url(#c225)"/>
<rect x="577" y="216" width="1.5" height="16" fill="url(#c226)"/>
<rect x="578" y="216" width="1.5" height="16" fill="url(#c227)"/>
<rect x="579" y="217" width="1.5" height="15" fill="url(#c228)"/>
<rect x="580" y="217" width="1.5" height="15" fill="url(#c229)"/>
<rect x="581" y="217" width="1.5" height="15" fill="url(#c230)"/>
<rect x="582" y="217" width="1.5" height="15" fill="url(#c231)"/>
<rect x="583" y="217" width="1.5" height="15" fill="url(#c232)"/>
<rect x="584" y="217" width="1.5" height="15" fill="url(#c233)"/>
<rect x="585" y="217" width="1.5" height="15" fill="url(#c234)"/>
<rect x="586" y="217" width="1.5" height="15" fill="url(#c235)"/>
<rect x="587" y="218" width="1.5" height="14" fill="url(#c236)"/>
<rect x="588" y="218" width="1.5" height="14" fill="url(#c237)"/>
<rect x="589" y="218" width="1.5" height="14" fill="url(#c238)"/>
<rect x="590" y="218" width="1.5" height="14" fill="url(#c239)"/>
<rect x="591" y="218" width="1.5" height="14" fill="url(#c240)"/>
<rect x="592" y="218" width="1.5" height="14" fill="url(#c241)"/>
<rect x="593" y="218" width="1.5" height="14" fill="url(#c242)"/>
<rect x="594" y="218" width="1.5" height="14" fill="url(#c243)"/>
<rect x="595" y="219" width="1.5" height="13" fill="url(#c244)"/>
<rect x="596" y="219" width="1.5" height="13" fill="url(#c245)"/>
<rect x="597" y="219" width="1.5" height="13" fill="url(#c246)"/>
<rect x="598" y="219" width="1.5" height="13" fill="url(#c247)"/>
<rect x="599" y="219" width="1.5" height="13" fill="url(#c248)"/>
<rect x="600" y="219" width="2.5" height="13" fill="url(#c249)"/>
<rect x="602" y="219" width="2.5" height="13" fill="url(#c250)"/>
<rect x="604" y="220" width="2.5" height="12" fill="url(#c251)"/>
<rect x="606" y="220" width="2.5" height="12" fill="url(#c252)"/>
<rect x="608" y="220" width="2.5" height="12" fill="url(#c253)"/>
<rect x="610" y="220" width="2.5" height="12" fill="url(#c254)"/>
<rect x="612" y="221" width="2.5" height="11" fill="url(#c255)"/>
<rect x="614" y="221" width="2.5" height="11" fill="url(#c256)"/>
<rect x="616" y="221" width="2.5" height="11" fill="url(#c257)"/>
<rect x="618" y="221" width="2.5" height="11" fill="url(#c258)"/>
<rect x="620" y="222" width="2.5" height="10" fill="url(#c259)"/>
<rect x="622" y="222" width="2.5" height="10" fill="url(#c260)"/>
<rect x="624" y="222" width="2.5" height="10" fill="url(#c261)"/>
<rect x="626" y="222" width="2.5" height="10" fill="url(#c262)"/>
<rect x="628" y="223" width="2.5" height="9" fill="url(#c263)"/>
<rect x="630" y="223" width="2.5" height="9" fill="url(#c264)"/>
<rect x="632" y="223" width="2.5" height="9" fill="url(#c265)"/>
<rect x="634" y="223" width="2.5" height="9" fill="url(#c266)"/>
<rect x="636" y="224" width="2.5" height="8" fill="url(#c267)"/>
<rect x="638" y="224" width="2.5" height="8" fill="url(#c268)"/>
<rect x="640" y="224" width="2.5" height="8" fill="url(#c269)"/>
<rect x="642" y="224" width="2.5" height="8" fill="url(#c270)"/>
<rect x="644" y="225" width="2.5" height="7" fill="url(#c271)"/>
<rect x="646" y="225" width="2.5" height="7" fill="url(#c272)"/>
<rect x="648" y="225" width="2.5" height="7" fill="url(#c273)"/>
<rect x="650" y="225" width="2.5" height="7" fill="url(#c274)"/>
<rect x="652" y="226" width="2.5" height="6" fill="url(#c275)"/>
<rect x="654" y="226" width="2.5" height="6" fill="url(#c276)"/>
<rect x="656" y="226" width="2.5" height="6" fill="url(#c277)"/>
<rect x="658" y="226" width="2.5" height="6" fill="url(#c278)"/>
<rect x="660" y="227" width="2.5" height="5" fill="url(#c279)"/>
<rect x="662" y="227" width="2.5" height="5" fill="url(#c280)"/>
<rect x="664" y="227" width="2.5" height="5" fill="url(#c281)"/>
<rect x="666" y="227" width="2.5" height="5" fill="#7f1c23"/>
<rect x="668" y="228" width="2.5" height="4" fill="#7f1c23"/>
<rect x="670" y="228" width="2.5" height="4" fill="#7e1c23"/>
<rect x="672" y="228" width="2.5" height="4" fill="#7e1c23"/>
<rect x="674" y="228" width="2.5" height="4" fill="#7e1c23"/>
<rect x="676" y="228" width="2.5" height="4" fill="#7e1c23"/>
<rect x="678" y="229" width="2.5" height="3" fill="#7e1c23"/>
<rect x="680" y="229" width="2.5" height="3" fill="#7e1c23"/>
<rect x="682" y="229" width="2.5" height="3" fill="#7d1c23"/>
<rect x="684" y="229" width="2.5" height="3" fill="#7d1c23"/>
<rect x="686" y="230" width="2.5" height="2" fill="#7d1c23"/>
<rect x="688" y="230" width="2.5" height="2" fill="#7d1c23"/>
<rect x="690" y="230" width="2.5" height="2" fill="#7d1c23"/></g>
<path d="M304.0,132.0 L304.0,142.23 L306.0,142.23 L308.0,142.20 L310.0,142.19 L312.0,142.20 L314.0,142.23 L316.0,142.28 L318.0,142.35 L320.0,142.44 L322.0,142.56 L324.0,142.70 L326.0,142.87 L328.0,143.06 L330.0,143.29 L332.0,143.54 L334.0,143.83 L336.0,144.15 L338.0,144.50 L340.0,144.89 L342.0,145.31 L344.0,145.77 L346.0,146.27 L348.0,146.81 L350.0,147.39 L352.0,148.01 L354.0,148.67 L356.0,149.38 L358.0,150.11 L360.0,150.89 L362.0,151.69 L364.0,152.53 L366.0,153.40 L368.0,154.30 L370.0,155.22 L372.0,156.16 L374.0,157.13 L376.0,158.12 L378.0,159.12 L380.0,160.15 L382.0,161.18 L384.0,162.23 L386.0,163.30 L388.0,164.36 L390.0,165.44 L392.0,166.52 L394.0,167.60 L396.0,168.67 L398.0,169.74 L400.0,170.80 L402.0,171.85 L404.0,172.89 L406.0,173.91 L408.0,174.92 L410.0,175.90 L412.0,176.86 L414.0,177.80 L416.0,178.75 L418.0,179.69 L420.0,180.65 L422.0,181.64 L424.0,182.65 L426.0,183.66 L428.0,184.69 L430.0,185.72 L432.0,186.75 L434.0,187.77 L436.0,188.78 L438.0,189.76 L440.0,190.72 L442.0,191.65 L444.0,192.55 L446.0,193.42 L448.0,194.26 L450.0,195.07 L452.0,195.86 L454.0,196.62 L456.0,197.35 L458.0,198.06 L460.0,198.74 L462.0,199.39 L464.0,200.03 L466.0,200.64 L468.0,201.23 L470.0,201.79 L472.0,202.34 L474.0,202.87 L476.0,203.38 L478.0,203.86 L480.0,204.34 L482.0,204.79 L484.0,205.23 L486.0,205.65 L488.0,206.05 L490.0,206.44 L492.0,206.82 L494.0,207.19 L496.0,207.54 L498.0,207.88 L500.0,208.21 L502.0,208.53 L504.0,208.84 L506.0,209.14 L508.0,209.43 L510.0,209.71 L512.0,209.99 L514.0,210.26 L516.0,210.53 L518.0,210.79 L520.0,211.04 L522.0,211.30 L524.0,211.55 L526.0,211.80 L528.0,212.04 L530.0,212.29 L532.0,212.53 L534.0,212.78 L536.0,213.03 L538.0,213.28 L540.0,213.53 L542.0,213.77 L544.0,214.02 L546.0,214.27 L548.0,214.52 L550.0,214.78 L552.0,215.03 L554.0,215.28 L556.0,215.53 L558.0,215.78 L560.0,216.04 L562.0,216.29 L564.0,216.54 L566.0,216.80 L568.0,217.05 L570.0,217.30 L572.0,217.56 L574.0,217.81 L576.0,218.06 L578.0,218.32 L580.0,218.57 L582.0,218.83 L584.0,219.08 L586.0,219.33 L588.0,219.59 L590.0,219.84 L592.0,220.10 L594.0,220.35 L596.0,220.60 L598.0,220.86 L600.0,221.11 L602.0,221.36 L604.0,221.61 L606.0,221.87 L608.0,222.12 L610.0,222.37 L612.0,222.62 L614.0,222.87 L616.0,223.12 L618.0,223.37 L620.0,223.62 L622.0,223.87 L624.0,224.12 L626.0,224.37 L628.0,224.61 L630.0,224.86 L632.0,225.10 L634.0,225.35 L636.0,225.59 L638.0,225.84 L640.0,226.08 L642.0,226.32 L644.0,226.56 L646.0,226.80 L648.0,227.04 L650.0,227.28 L652.0,227.52 L654.0,227.76 L656.0,227.99 L658.0,228.23 L660.0,228.46 L662.0,228.69 L664.0,228.93 L666.0,229.16 L668.0,229.39 L670.0,229.61 L672.0,229.84 L674.0,230.07 L676.0,230.29 L678.0,230.52 L680.0,230.74 L682.0,230.96 L684.0,231.18 L686.0,231.40 L688.0,231.61 L690.0,231.83 L691.6,232.00 L694.6,232.30 L694.6,132.0 Z" fill="#fff"/>
<text class="j" x="420" y="139.6" font-size="14.4" letter-spacing=".1">速度場の角度方向<tspan font-style="italic" stroke-width="0">φ</tspan>成分</text>
<g stroke="#555" stroke-width="0.8" opacity="0.7"><path d="M361.3,232 v-3 M416.4,232 v-3 M471.5,232 v-3 M526.6,232 v-3 M581.7,232 v-3.5 M636.8,232 v-3 M691.6,232.2 v-4 M306.5,188.3 h3.5"/></g>
<text x="310.5" y="170.5" font-size="29" fill="#fff">C</text>
<g fill="#333" font-size="11.5">
<text x="295.2" y="148.5">8</text><text x="295.2" y="192.7">4</text><text x="295.2" y="236.8">0</text>
</g>
<g fill="#111" font-size="14">
<text class="j" x="273.3" y="175.7">高</text><text class="j" x="273.3" y="188.5">さ</text>
<text x="264" y="204.6" font-size="15">(<tspan font-style="italic">μ</tspan>m)</text>
</g>
<g fill="none" stroke="#eee" stroke-width="1.1"><circle cx="316.3" cy="221.6" r="6.6"/><path d="M311.6,216.9 L321,226.3 M321,216.9 L311.6,226.3"/></g>
<text x="326" y="226" font-size="14.4" fill="#fff"><tspan font-style="italic">φ</tspan>:<tspan class="w" dx="0.5">角度方向</tspan></text>
<text class="j" x="413" y="171.2" font-size="13">時計回りの回転流</text>
<line x1="470" y1="178.9" x2="476.6" y2="196.5" stroke="#111" stroke-width="1.2"/>
<path d="M477.8,200.2 L474.4,195.6 L478.7,194.5 Z" fill="#111"/>
<text x="555" y="182.6" font-size="19.5" font-style="italic" fill="#111" stroke="#111" stroke-width="0.6">V</text>
<text x="566" y="191" font-size="13" font-style="italic" fill="#111">φ</text>
<rect x="583.8" y="168.8" width="91.2" height="15.4" fill="url(#cb)" stroke="#222" stroke-width="0.7"/>
<g fill="#333" font-size="9">
<text x="585.5" y="167.6">-2</text><text x="629" y="167.6">-1</text><text x="672.3" y="167.6">0</text>
<text x="679.6" y="170.5" font-size="10.5">×10</text><text x="698.3" y="166.2" font-size="9">-4</text>
</g>

<!-- ============ PANEL D ============ -->
<path d="M415.1,349.6v1.2M415.1,346.6v1.2M415.1,343.6v1.2M415.1,340.6v1.2M415.1,337.6v1.2M415.1,334.6v1.2M415.1,331.6v1.2M415.1,328.6v1.2M415.1,325.6v1.2M415.1,322.6v1.2M415.1,319.6v1.2M415.1,316.6v1.2M415.1,313.6v1.2M415.1,310.6v1.2M415.1,307.6v1.2M415.1,304.6v1.2M415.1,301.6v1.2M415.1,298.6v1.2M425.0,349.6v1.2M425.0,346.6v1.2M425.0,343.6v1.2M425.0,340.6v1.2M425.0,337.6v1.2M425.0,334.6v1.2M425.0,331.6v1.2M425.0,328.6v1.2M425.0,325.6v1.2M425.0,322.6v1.2M425.0,319.6v1.2M425.0,316.6v1.2M425.0,313.6v1.2M425.0,310.6v1.2M425.0,307.6v1.2M425.0,304.6v1.2M434.8,349.6v1.2M434.8,346.6v1.2M434.8,343.6v1.2M434.8,340.6v1.2M434.8,337.6v1.2M434.8,334.6v1.2M434.8,331.6v1.2M434.8,328.6v1.2M434.8,325.6v1.2M434.8,322.6v1.2M434.8,319.6v1.2M434.8,316.6v1.2M434.8,313.6v1.2M434.8,310.6v1.2M444.7,349.6v1.2M444.7,346.6v1.2M444.7,343.6v1.2M444.7,340.6v1.2M444.7,325.6v1.2M444.7,322.6v1.2M444.7,319.6v1.2M454.6,349.6v1.2M563.1,349.6v1.2M563.1,343.6v1.2M563.1,340.6v1.2M573.0,349.6v1.2M573.0,346.6v1.2M573.0,343.6v1.2M573.0,340.6v1.2M582.9,349.6v1.2M582.9,346.6v1.2M582.9,343.6v1.2M582.9,340.6v1.2M592.8,349.6v1.2M592.8,346.6v1.2M592.8,343.6v1.2M592.8,340.6v1.2M602.6,349.6v1.2M602.6,346.6v1.2M602.6,343.6v1.2M612.5,349.6v1.2M612.5,346.6v1.2M612.5,343.6v1.2M622.4,349.6v1.2M622.4,346.6v1.2M632.2,349.6v1.2M632.2,346.6v1.2M642.1,349.6v1.2M642.1,346.6v1.2M652.0,349.6v1.2M661.8,349.6v1.2" stroke="#aaa" stroke-width="0.8" fill="none"/><path d="M316.4,349.6v1.2M316.4,346.6v1.2M316.4,343.6v1.2M316.4,340.6v1.2M316.4,337.6v1.2M316.4,334.6v1.2M316.4,331.6v1.2M316.4,328.6v1.2M316.4,325.6v1.2M316.4,322.6v1.2M316.4,319.6v1.2M316.4,316.6v1.2M316.4,313.6v1.2M316.4,310.6v1.2M316.4,307.6v1.2M316.4,304.6v1.2M316.4,301.6v1.2M316.4,298.6v1.2M316.4,295.6v1.2M316.4,292.6v1.2M316.4,289.6v1.2M316.4,286.6v1.2M316.4,283.6v1.2M316.4,280.6v1.2M316.4,277.6v1.2M316.4,274.6v1.2M316.4,271.6v1.2M316.4,268.6v1.2M316.4,265.6v1.2M316.4,262.6v1.2M326.3,349.6v1.2M326.3,346.6v1.2M326.3,343.6v1.2M326.3,340.6v1.2M326.3,337.6v1.2M326.3,334.6v1.2M326.3,331.6v1.2M326.3,328.6v1.2M326.3,325.6v1.2M326.3,322.6v1.2M326.3,319.6v1.2M326.3,316.6v1.2M326.3,313.6v1.2M326.3,310.6v1.2M326.3,307.6v1.2M326.3,304.6v1.2M326.3,301.6v1.2M326.3,298.6v1.2M326.3,295.6v1.2M326.3,292.6v1.2M326.3,289.6v1.2M326.3,286.6v1.2M326.3,283.6v1.2M326.3,280.6v1.2M326.3,277.6v1.2M326.3,274.6v1.2M326.3,271.6v1.2M326.3,268.6v1.2M326.3,265.6v1.2M336.1,349.6v1.2M336.1,346.6v1.2M336.1,343.6v1.2M336.1,340.6v1.2M336.1,337.6v1.2M336.1,334.6v1.2M336.1,331.6v1.2M336.1,328.6v1.2M336.1,325.6v1.2M336.1,322.6v1.2M336.1,319.6v1.2M336.1,316.6v1.2M336.1,313.6v1.2M336.1,310.6v1.2M336.1,307.6v1.2M336.1,304.6v1.2M336.1,301.6v1.2M336.1,298.6v1.2M336.1,295.6v1.2M336.1,292.6v1.2M336.1,289.6v1.2M336.1,286.6v1.2M336.1,283.6v1.2M336.1,280.6v1.2M336.1,277.6v1.2M336.1,274.6v1.2M336.1,271.6v1.2M336.1,268.6v1.2M336.1,265.6v1.2M346.0,349.6v1.2M346.0,346.6v1.2M346.0,343.6v1.2M346.0,340.6v1.2M346.0,337.6v1.2M346.0,334.6v1.2M346.0,331.6v1.2M346.0,328.6v1.2M346.0,325.6v1.2M346.0,322.6v1.2M346.0,319.6v1.2M346.0,316.6v1.2M346.0,313.6v1.2M346.0,310.6v1.2M346.0,307.6v1.2M346.0,304.6v1.2M346.0,301.6v1.2M346.0,298.6v1.2M346.0,295.6v1.2M346.0,292.6v1.2M346.0,289.6v1.2M346.0,286.6v1.2M346.0,283.6v1.2M346.0,280.6v1.2M346.0,277.6v1.2M346.0,274.6v1.2M346.0,271.6v1.2M346.0,268.6v1.2M355.9,349.6v1.2M355.9,346.6v1.2M355.9,343.6v1.2M355.9,340.6v1.2M355.9,337.6v1.2M355.9,334.6v1.2M355.9,331.6v1.2M355.9,328.6v1.2M355.9,325.6v1.2M355.9,322.6v1.2M355.9,319.6v1.2M355.9,316.6v1.2M355.9,313.6v1.2M355.9,310.6v1.2M355.9,307.6v1.2M355.9,304.6v1.2M355.9,301.6v1.2M355.9,298.6v1.2M355.9,295.6v1.2M355.9,292.6v1.2M355.9,289.6v1.2M355.9,286.6v1.2M355.9,283.6v1.2M355.9,280.6v1.2M355.9,277.6v1.2M355.9,274.6v1.2M355.9,271.6v1.2M365.8,349.6v1.2M365.8,346.6v1.2M365.8,343.6v1.2M365.8,340.6v1.2M365.8,337.6v1.2M365.8,334.6v1.2M365.8,331.6v1.2M365.8,328.6v1.2M365.8,325.6v1.2M365.8,322.6v1.2M365.8,319.6v1.2M365.8,316.6v1.2M365.8,313.6v1.2M365.8,310.6v1.2M365.8,307.6v1.2M365.8,304.6v1.2M365.8,301.6v1.2M365.8,298.6v1.2M365.8,295.6v1.2M365.8,292.6v1.2M365.8,289.6v1.2M365.8,286.6v1.2M365.8,283.6v1.2M365.8,280.6v1.2M365.8,277.6v1.2M365.8,274.6v1.2M375.6,349.6v1.2M375.6,346.6v1.2M375.6,343.6v1.2M375.6,340.6v1.2M375.6,337.6v1.2M375.6,334.6v1.2M375.6,331.6v1.2M375.6,328.6v1.2M375.6,325.6v1.2M375.6,322.6v1.2M375.6,319.6v1.2M375.6,316.6v1.2M375.6,313.6v1.2M375.6,310.6v1.2M375.6,307.6v1.2M375.6,304.6v1.2M375.6,301.6v1.2M375.6,298.6v1.2M375.6,295.6v1.2M375.6,292.6v1.2M375.6,289.6v1.2M375.6,286.6v1.2M375.6,283.6v1.2M375.6,280.6v1.2M385.5,349.6v1.2M385.5,346.6v1.2M385.5,343.6v1.2M385.5,340.6v1.2M385.5,337.6v1.2M385.5,334.6v1.2M385.5,331.6v1.2M385.5,328.6v1.2M385.5,325.6v1.2M385.5,322.6v1.2M385.5,319.6v1.2M385.5,316.6v1.2M385.5,313.6v1.2M385.5,310.6v1.2M385.5,307.6v1.2M385.5,304.6v1.2M385.5,301.6v1.2M385.5,298.6v1.2M385.5,295.6v1.2M385.5,292.6v1.2M385.5,289.6v1.2M385.5,286.6v1.2M385.5,283.6v1.2M395.4,349.6v1.2M395.4,346.6v1.2M395.4,343.6v1.2M395.4,340.6v1.2M395.4,337.6v1.2M395.4,334.6v1.2M395.4,331.6v1.2M395.4,328.6v1.2M395.4,325.6v1.2M395.4,322.6v1.2M395.4,319.6v1.2M395.4,316.6v1.2M395.4,313.6v1.2M395.4,310.6v1.2M395.4,307.6v1.2M395.4,304.6v1.2M395.4,301.6v1.2M395.4,298.6v1.2M395.4,295.6v1.2M395.4,292.6v1.2M395.4,289.6v1.2M405.2,349.6v1.2M405.2,346.6v1.2M405.2,343.6v1.2M405.2,340.6v1.2M405.2,337.6v1.2M405.2,334.6v1.2M405.2,331.6v1.2M405.2,328.6v1.2M405.2,325.6v1.2M405.2,322.6v1.2M405.2,319.6v1.2M405.2,316.6v1.2M405.2,313.6v1.2M405.2,310.6v1.2M405.2,307.6v1.2M405.2,304.6v1.2M405.2,301.6v1.2M405.2,298.6v1.2M405.2,295.6v1.2" stroke="#ccc" stroke-width="0.8" fill="none"/><path d="M444.3,337.7L445.2,338.7M444.3,334.6L445.1,335.8M444.4,331.5L445.0,332.9M444.6,328.5L444.8,329.9M445.5,317.3L443.9,317.1M445.6,314.6L443.8,313.8M453.9,347.0L455.2,347.4M453.8,343.8L455.4,344.6M453.7,340.6L455.4,341.8M453.8,337.4L455.4,339.0M453.9,334.2L455.2,336.2M454.3,331.2L454.9,333.2M454.7,328.3L454.5,330.1M455.2,325.6L454.0,326.8M455.7,323.0L453.4,323.4M463.7,350.1L465.2,350.3M463.3,346.9L465.6,347.5M463.6,334.0L465.3,336.4M464.4,331.1L464.5,333.3M465.3,328.4L463.6,330.0M473.2,350.1L475.5,350.3M473.7,334.0L475.0,336.4M475.1,331.3L473.6,333.1M484.2,334.4L484.2,336.0M495.2,335.1L493.0,335.3M503.2,338.4L504.7,338.0M513.9,339.0L513.7,337.4M524.5,339.3L522.8,337.1M532.6,342.1L534.5,340.3M542.3,350.3L544.5,350.1M543.1,342.1L543.7,340.3M552.5,350.3L554.0,350.1M552.2,347.4L554.4,347.0M552.4,344.7L554.1,343.7M553.4,341.9L553.2,340.5M562.5,347.4L563.8,347.0M564.2,338.6L562.1,337.8" stroke="#888" stroke-width="0.7" fill="none"/><path d="M445.2,338.7L442.6,337.7L444.4,336.0ZM445.1,335.8L442.7,334.4L444.8,333.0ZM445.0,332.9L442.9,331.1L445.2,330.1ZM444.8,329.9L443.2,327.7L445.6,327.2ZM443.9,317.1L446.6,316.2L446.2,318.7ZM443.8,313.8L446.6,313.7L445.5,316.0ZM455.2,347.4L452.5,347.9L453.2,345.5ZM455.4,344.6L452.6,344.6L453.7,342.4ZM455.4,341.8L452.7,341.4L454.1,339.4ZM455.4,339.0L452.7,338.1L454.5,336.4ZM455.2,336.2L452.8,334.8L454.9,333.4ZM454.9,333.2L452.9,331.2L455.3,330.4ZM454.5,330.1L453.5,327.5L456.0,327.8ZM454.0,326.8L454.8,324.2L456.6,325.9ZM453.4,323.4L455.7,321.7L456.1,324.2ZM465.2,350.3L462.6,351.3L462.8,348.8ZM465.6,347.5L462.9,348.1L463.5,345.7ZM465.3,336.4L462.8,335.0L464.9,333.6ZM464.5,333.3L463.1,330.9L465.6,330.8ZM463.6,330.0L464.6,327.4L466.3,329.2ZM475.5,350.3L472.9,351.4L473.1,348.9ZM475.0,336.4L472.7,334.8L474.9,333.6ZM473.6,333.1L474.2,330.4L476.1,332.0ZM484.2,336.0L482.9,333.5L485.4,333.4ZM493.0,335.3L495.4,333.9L495.5,336.4ZM504.7,338.0L502.7,339.9L501.9,337.5ZM513.7,337.4L515.2,339.7L512.8,340.0ZM522.8,337.1L525.3,338.3L523.3,339.8ZM534.5,340.3L533.6,342.9L531.8,341.1ZM544.5,350.1L542.1,351.5L542.0,349.0ZM543.7,340.3L544.0,343.1L541.7,342.2ZM554.0,350.1L551.6,351.6L551.4,349.1ZM554.4,347.0L552.2,348.7L551.6,346.3ZM554.1,343.7L552.6,346.0L551.3,343.9ZM553.2,340.5L554.8,342.9L552.3,343.2ZM563.8,347.0L561.7,348.9L561.0,346.5ZM562.1,337.8L564.8,337.5L564.0,339.8Z" fill="#888"/><path d="M456.1,320.5L453.0,319.9M463.0,343.6L465.9,344.8M463.0,340.3L465.9,342.1M463.2,337.1L465.7,339.3M466.3,326.0L462.6,326.4M467.1,323.8L461.8,322.6M472.5,346.9L476.2,347.5M472.1,343.5L476.5,344.9M472.2,340.2L476.5,342.2M472.7,337.0L476.0,339.4M476.7,329.0L471.9,329.4M478.2,326.9L470.5,325.5M482.6,350.1L485.8,350.3M481.6,346.9L486.8,347.5M481.2,343.6L487.2,344.8M481.4,340.3L486.9,342.1M482.4,337.2L486.0,339.2M486.4,332.0L481.9,332.4M488.1,329.8L480.2,328.6M488.1,327.2L480.3,325.2M492.1,350.1L496.1,350.3M490.9,347.0L497.2,347.4M490.5,343.8L497.6,344.6M491.0,340.7L497.1,341.7M492.6,337.8L495.5,338.6M498.0,332.8L490.1,331.6M498.0,330.0L490.2,328.4M501.7,350.2L506.1,350.2M500.5,347.1L507.4,347.3M500.2,344.1L507.7,344.3M501.0,341.2L506.8,341.2M506.4,335.9L501.5,334.5M507.8,333.1L500.0,331.3M511.6,350.2L516.0,350.2M510.4,347.3L517.2,347.1M510.3,344.5L517.3,343.9M511.4,341.7L516.2,340.7M517.3,336.4L510.3,334.0M517.7,333.1L509.9,331.3M521.8,350.3L525.6,350.1M520.7,347.4L526.6,347.0M520.7,344.7L526.6,343.7M522.0,342.0L525.4,340.4M527.5,336.5L519.9,333.9M532.0,350.3L535.1,350.1M531.2,347.5L535.9,346.9M531.3,344.8L535.8,343.6M534.9,339.4L532.1,337.0M537.4,336.3L529.7,334.1M541.7,347.5L545.1,346.9M541.9,344.8L544.9,343.6M545.0,339.2L541.8,337.2M546.7,336.0L540.1,334.4M554.7,338.9L551.8,337.5M446.0,314.7L443.4,313.6M446.0,317.0L443.4,315.9M456.6,318.9L452.6,317.4M456.6,321.2L452.6,319.7M467.2,322.3L461.7,320.6M467.2,324.6L461.7,322.9M477.8,325.1L470.9,323.4M477.8,327.4L470.9,325.7M488.1,327.4L480.3,325.7M488.1,329.7L480.3,328.0M497.9,329.2L490.2,327.8M497.9,331.5L490.2,330.1M507.3,330.6L500.5,329.6M507.3,332.9L500.5,331.9M516.5,331.9L511.1,331.2M516.5,334.2L511.1,333.5M525.6,333.0L521.7,332.6M525.6,335.3L521.7,334.9M534.9,334.2L532.2,333.9M534.9,336.5L532.2,336.2" stroke="#333" stroke-width="0.8" fill="none"/><path d="M453.0,319.9L455.7,319.2L455.2,321.6ZM465.9,344.8L463.1,345.0L464.0,342.7ZM465.9,342.1L463.1,341.9L464.4,339.7ZM465.7,339.3L463.0,338.6L464.7,336.7ZM462.6,326.4L465.0,324.9L465.2,327.4ZM461.8,322.6L464.5,321.9L464.0,324.4ZM476.2,347.5L473.5,348.3L473.9,345.9ZM476.5,344.9L473.8,345.3L474.5,342.9ZM476.5,342.2L473.7,342.3L474.7,340.0ZM476.0,339.4L473.2,338.9L474.7,336.9ZM471.9,329.4L474.3,327.9L474.5,330.4ZM470.5,325.5L473.2,324.7L472.7,327.2ZM485.8,350.3L483.3,351.4L483.4,348.9ZM486.8,347.5L484.1,348.5L484.4,346.0ZM487.2,344.8L484.5,345.5L485.0,343.1ZM486.9,342.1L484.2,342.5L485.0,340.1ZM486.0,339.2L483.2,339.1L484.4,336.9ZM481.9,332.4L484.3,330.9L484.5,333.4ZM480.2,328.6L482.9,327.7L482.5,330.2ZM480.3,325.2L483.1,324.6L482.4,327.0ZM496.1,350.3L493.5,351.4L493.6,348.9ZM497.2,347.4L494.6,348.5L494.8,346.0ZM497.6,344.6L495.0,345.6L495.3,343.1ZM497.1,341.7L494.4,342.5L494.9,340.1ZM495.5,338.6L492.8,339.1L493.5,336.7ZM490.1,331.6L492.8,330.7L492.4,333.2ZM490.2,328.4L492.9,327.7L492.3,330.1ZM506.1,350.2L503.6,351.4L503.6,348.9ZM507.4,347.3L504.9,348.5L504.9,346.0ZM507.7,344.3L505.2,345.5L505.2,343.0ZM506.8,341.2L504.3,342.5L504.4,340.0ZM501.5,334.5L504.3,334.0L503.6,336.4ZM500.0,331.3L502.7,330.7L502.2,333.1ZM516.0,350.2L513.5,351.5L513.4,349.0ZM517.2,347.1L514.7,348.4L514.6,345.9ZM517.3,343.9L514.9,345.4L514.7,342.9ZM516.2,340.7L514.0,342.4L513.5,340.0ZM510.3,334.0L513.1,333.6L512.3,336.0ZM509.9,331.3L512.6,330.7L512.1,333.1ZM525.6,350.1L523.1,351.5L523.0,349.0ZM526.6,347.0L524.2,348.4L524.0,345.9ZM526.6,343.7L524.4,345.3L524.0,342.9ZM525.4,340.4L523.7,342.6L522.6,340.3ZM519.9,333.9L522.6,333.5L521.9,335.9ZM535.1,350.1L532.6,351.5L532.5,349.0ZM535.9,346.9L533.5,348.5L533.2,346.0ZM535.8,343.6L533.7,345.5L533.0,343.0ZM532.1,337.0L534.9,337.7L533.3,339.6ZM529.7,334.1L532.5,333.6L531.7,336.0ZM545.1,346.9L542.8,348.6L542.4,346.1ZM544.9,343.6L543.0,345.7L542.1,343.4ZM541.8,337.2L544.6,337.5L543.3,339.6ZM540.1,334.4L542.9,333.8L542.3,336.2ZM551.8,337.5L554.6,337.5L553.6,339.7ZM443.4,313.6L446.2,313.4L445.2,315.7ZM443.4,315.9L446.2,315.7L445.2,318.0ZM452.6,317.4L455.4,317.1L454.5,319.4ZM452.6,319.7L455.4,319.4L454.5,321.7ZM461.7,320.6L464.5,320.2L463.7,322.5ZM461.7,322.9L464.5,322.5L463.7,324.8ZM470.9,323.4L473.6,322.8L473.0,325.2ZM470.9,325.7L473.6,325.1L473.0,327.5ZM480.3,325.7L483.0,325.0L482.5,327.5ZM480.3,328.0L483.0,327.3L482.5,329.8ZM490.2,327.8L492.9,327.0L492.4,329.5ZM490.2,330.1L492.9,329.3L492.4,331.8ZM500.5,329.6L503.2,328.7L502.8,331.2ZM500.5,331.9L503.2,331.0L502.8,333.5ZM511.1,331.2L513.8,330.3L513.4,332.7ZM511.1,333.5L513.8,332.6L513.4,335.0ZM521.7,332.6L524.4,331.6L524.1,334.1ZM521.7,334.9L524.4,333.9L524.1,336.4ZM532.2,333.9L534.9,332.9L534.5,335.4ZM532.2,336.2L534.9,335.2L534.5,337.7Z" fill="#222"/>
<path d="M306.0,262.23 L308.0,262.20 L310.0,262.19 L312.0,262.20 L314.0,262.23 L316.0,262.28 L318.0,262.35 L320.0,262.44 L322.0,262.56 L324.0,262.70 L326.0,262.87 L328.0,263.06 L330.0,263.29 L332.0,263.54 L334.0,263.83 L336.0,264.15 L338.0,264.50 L340.0,264.89 L342.0,265.31 L344.0,265.77 L346.0,266.27 L348.0,266.81 L350.0,267.39 L352.0,268.01 L354.0,268.67 L356.0,269.38 L358.0,270.11 L360.0,270.89 L362.0,271.69 L364.0,272.53 L366.0,273.40 L368.0,274.30 L370.0,275.22 L372.0,276.16 L374.0,277.13 L376.0,278.12 L378.0,279.12 L380.0,280.15 L382.0,281.18 L384.0,282.23 L386.0,283.30 L388.0,284.36 L390.0,285.44 L392.0,286.52 L394.0,287.60 L396.0,288.67 L398.0,289.74 L400.0,290.80 L402.0,291.85 L404.0,292.89 L406.0,293.91 L408.0,294.92 L410.0,295.90 L412.0,296.86 L414.0,297.80 L416.0,298.75 L418.0,299.69 L420.0,300.65 L422.0,301.64 L424.0,302.65 L426.0,303.66 L428.0,304.69 L430.0,305.72 L432.0,306.75 L434.0,307.77 L436.0,308.78 L438.0,309.76 L440.0,310.72 L442.0,311.65 L444.0,312.55 L446.0,313.42 L448.0,314.26 L450.0,315.07 L452.0,315.86 L454.0,316.62 L456.0,317.35 L458.0,318.06 L460.0,318.74 L462.0,319.39 L464.0,320.03 L466.0,320.64 L468.0,321.23 L470.0,321.79 L472.0,322.34 L474.0,322.87 L476.0,323.38 L478.0,323.86 L480.0,324.34 L482.0,324.79 L484.0,325.23 L486.0,325.65 L488.0,326.05 L490.0,326.44 L492.0,326.82 L494.0,327.19 L496.0,327.54 L498.0,327.88 L500.0,328.21 L502.0,328.53 L504.0,328.84 L506.0,329.14 L508.0,329.43 L510.0,329.71 L512.0,329.99 L514.0,330.26 L516.0,330.53 L518.0,330.79 L520.0,331.04 L522.0,331.30 L524.0,331.55 L526.0,331.80 L528.0,332.04 L530.0,332.29 L532.0,332.53 L534.0,332.78 L536.0,333.03 L538.0,333.28 L540.0,333.53 L542.0,333.77 L544.0,334.02 L546.0,334.27 L548.0,334.52 L550.0,334.78 L552.0,335.03 L554.0,335.28 L556.0,335.53 L558.0,335.78 L560.0,336.04 L562.0,336.29 L564.0,336.54 L566.0,336.80 L568.0,337.05 L570.0,337.30 L572.0,337.56 L574.0,337.81 L576.0,338.06 L578.0,338.32 L580.0,338.57 L582.0,338.83 L584.0,339.08 L586.0,339.33 L588.0,339.59 L590.0,339.84 L592.0,340.10 L594.0,340.35 L596.0,340.60 L598.0,340.86 L600.0,341.11 L602.0,341.36 L604.0,341.61 L606.0,341.87 L608.0,342.12 L610.0,342.37 L612.0,342.62 L614.0,342.87 L616.0,343.12 L618.0,343.37 L620.0,343.62 L622.0,343.87 L624.0,344.12 L626.0,344.37 L628.0,344.61 L630.0,344.86 L632.0,345.10 L634.0,345.35 L636.0,345.59 L638.0,345.84 L640.0,346.08 L642.0,346.32 L644.0,346.56 L646.0,346.80 L648.0,347.04 L650.0,347.28 L652.0,347.52 L654.0,347.76 L656.0,347.99 L658.0,348.23 L660.0,348.46 L662.0,348.69 L664.0,348.93 L666.0,349.16 L668.0,349.39 L670.0,349.61 L672.0,349.84 L674.0,350.07 L676.0,350.29 L678.0,350.52 L680.0,350.74 L682.0,350.96 L684.0,351.18 L686.0,351.40 L688.0,351.61 L690.0,351.83 L691.6,352.00" fill="none" stroke="#777" stroke-width="1.1"/>
<g stroke="#888" stroke-width="1" fill="none">
<path d="M306.2,262 L306.2,352.4 L691.8,352.4"/>
</g>
<g stroke="#888" stroke-width="0.8">
<path d="M361.3,352 v-3 M416.4,352 v-3 M471.5,352 v-3 M526.6,352 v-3 M581.7,352 v-3 M636.8,352 v-3 M691.6,352 v-3 M306.5,264.2 h3.5 M306.5,308.4 h3.5"/>
</g>
<text x="310.5" y="287.8" font-size="28" fill="#111">D</text>
<g fill="#333" font-size="11.5">
<text x="295.2" y="268.6">8</text><text x="295.2" y="312.8">4</text><text x="295.2" y="356.9">0</text>
</g>
<g fill="#333" font-size="11.5" text-anchor="middle">
<text x="306" y="368.8">0</text><text x="360.9" y="368.8">5</text><text x="416" y="368.8">10</text><text x="470.8" y="368.8">15</text>
<text x="525.6" y="368.8">20</text><text x="580.6" y="368.8">25</text><text x="635.7" y="368.8">30</text><text x="690.2" y="368.8">35</text>
</g>
<g fill="#111" font-size="14">
<text class="j" x="273.3" y="295.7">高</text><text class="j" x="273.3" y="308.5">さ</text>
<text x="264" y="324.6" font-size="15">(<tspan font-style="italic">μ</tspan>m)</text>
</g>
<g fill="none" stroke="#222" stroke-width="1.1"><circle cx="316.6" cy="341.9" r="6.7"/><path d="M311.9,337.2 L321.3,346.6 M321.3,337.2 L311.9,346.6"/></g>
<text x="326" y="346" font-size="14.4" fill="#111"><tspan font-style="italic">φ</tspan>:<tspan class="j" dx="0.5">角度方向</tspan></text>
<text class="j" x="403.6" y="261.2" font-size="14.4" letter-spacing=".3">速度場の高さ・動径方向成分</text>
<text x="468" y="385.2" font-size="14.4" fill="#111"><tspan class="j" letter-spacing=".3">半径</tspan> (<tspan font-style="italic">μ</tspan>m)</text>
</svg>
</body></html>
